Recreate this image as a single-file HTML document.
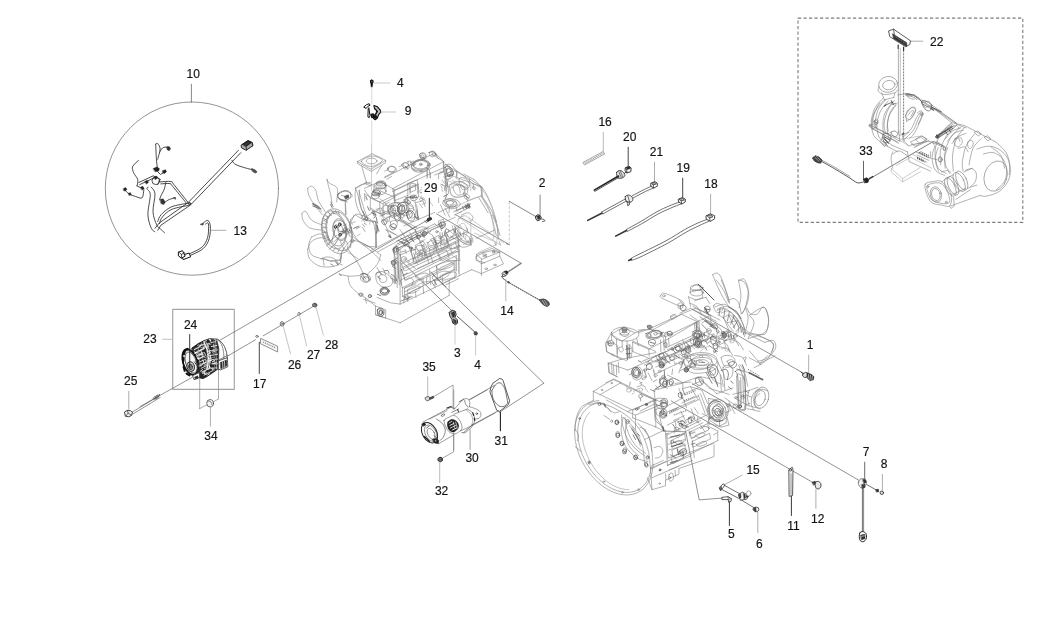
<!DOCTYPE html>
<html><head><meta charset="utf-8"><title>Engine electrical parts</title>
<style>
html,body{margin:0;padding:0;background:#fff;}
body{width:1039px;height:619px;overflow:hidden;font-family:"Liberation Sans",sans-serif;}
svg{display:block;will-change:transform;opacity:0.999}
svg path,svg ellipse{stroke-linecap:round;stroke-linejoin:round}
svg text{font-family:"Liberation Sans",sans-serif;font-size:12px;fill:#111;stroke:#222;stroke-width:0.18px}
</style></head><body>
<svg width="1039" height="619" viewBox="0 0 1039 619">
<rect x="0" y="0" width="1039" height="619" fill="#fff"/>
<path d="M371.6,145.0 L371.6,190.2" stroke="#b4b4b4" stroke-width="0.7" fill="none"/>
<path d="M357.7,161.4 L372.2,153.7 L385.7,160.4 L371.2,169.1Z" stroke="#7d7d7d" stroke-width="0.6" fill="none"/>
<path d="M361.2,161.4 C361.4,159.6 368.7,156.1 372.2,156.0 C375.7,155.8 382.5,158.6 382.4,160.4 C382.2,162.2 374.8,166.4 371.2,166.6 C367.7,166.7 361.1,163.1 361.2,161.4Z" stroke="#7d7d7d" stroke-width="0.6" fill="none"/>
<ellipse cx="371.6" cy="161.0" rx="5.4" ry="2.9" stroke="#7d7d7d" stroke-width="0.6" fill="none"/>
<path d="M357.7,161.4 L357.7,163.7 L371.2,171.4 L385.7,162.7 L385.7,160.4" stroke="#7d7d7d" stroke-width="0.6" fill="none"/>
<path d="M361.6,165.8 L366.4,182.5" stroke="#7d7d7d" stroke-width="0.6" fill="none"/>
<path d="M381.8,165.2 L376.6,173.9" stroke="#7d7d7d" stroke-width="0.6" fill="none"/>
<path d="M366.4,182.5 L371.6,184.5" stroke="#7d7d7d" stroke-width="0.6" fill="none"/>
<path d="M326.9,179.3 C327.3,179.9 327.8,181.9 329.3,183.1 C330.7,184.3 334.2,185.0 335.6,186.4 C337.0,187.7 337.6,188.6 337.7,191.2 C337.9,193.8 336.8,200.0 336.6,201.8" stroke="#7d7d7d" stroke-width="0.6" fill="none"/>
<path d="M326.9,179.3 C327.1,180.1 327.5,181.8 328.1,184.5 C328.7,187.2 330.2,192.0 330.8,195.4 C331.4,198.9 331.8,203.5 332.0,205.1" stroke="#7d7d7d" stroke-width="0.6" fill="none"/>
<path d="M307.7,188.3 C308.3,188.0 310.2,185.8 311.5,186.2 C312.9,186.5 314.6,188.0 315.8,190.4 C316.9,192.9 316.9,197.2 318.5,200.8 C320.1,204.4 324.3,210.1 325.4,212.0" stroke="#7d7d7d" stroke-width="0.6" fill="none"/>
<path d="M307.7,188.3 C307.9,189.5 307.7,192.6 308.9,195.4 C310.0,198.2 312.4,201.8 314.6,205.1 C316.9,208.3 321.0,213.1 322.3,214.7" stroke="#7d7d7d" stroke-width="0.6" fill="none"/>
<path d="M301.9,213.3 C302.6,213.0 304.2,210.3 305.8,211.4 C307.4,212.5 308.8,217.8 311.5,220.1 C314.3,222.4 320.5,224.2 322.3,225.1" stroke="#7d7d7d" stroke-width="0.6" fill="none"/>
<path d="M301.9,213.3 C302.1,214.5 301.8,218.1 303.1,220.5 C304.4,222.9 306.6,226.2 309.6,227.8 C312.6,229.4 319.2,229.7 321.2,230.1" stroke="#7d7d7d" stroke-width="0.6" fill="none"/>
<path d="M312.7,206.2 C313.8,206.6 317.8,207.7 319.2,208.5 C320.7,209.4 321.2,210.9 321.6,211.4" stroke="#7d7d7d" stroke-width="0.6" fill="none"/>
<path d="M313.5,203.7 L318.3,206.2" stroke="#7d7d7d" stroke-width="0.6" fill="none"/>
<path d="M311.5,237.0 C312.8,236.5 317.2,234.2 319.2,233.9 C321.3,233.7 323.3,235.2 324.1,235.5" stroke="#7d7d7d" stroke-width="0.6" fill="none"/>
<path d="M311.5,237.0 C311.1,238.4 308.7,242.1 308.7,245.1 C308.7,248.0 309.5,252.5 311.5,254.7 C313.6,257.0 319.6,257.9 321.2,258.6" stroke="#7d7d7d" stroke-width="0.6" fill="none"/>
<path d="M321.2,258.6 C322.8,258.9 327.6,260.4 330.8,260.5 C334.0,260.6 338.7,260.2 340.4,259.0 C342.2,257.7 341.2,253.8 341.4,252.8" stroke="#7d7d7d" stroke-width="0.6" fill="none"/>
<path d="M353.9,215.8 C354.7,215.6 355.5,213.2 358.7,214.3 C361.9,215.4 370.2,217.1 373.1,222.4 C376.1,227.7 375.7,242.1 376.2,246.1" stroke="#7d7d7d" stroke-width="0.6" fill="none"/>
<path d="M353.9,215.8 C353.3,217.5 350.1,222.3 350.4,225.8 C350.8,229.4 353.6,234.2 355.8,237.4 C358.0,240.6 360.1,243.5 363.5,245.1 C366.9,246.7 374.1,246.7 376.2,247.0" stroke="#7d7d7d" stroke-width="0.6" fill="none"/>
<path d="M363.5,245.1 C365.1,246.4 370.3,250.2 373.1,252.8 C376.0,255.4 379.6,259.2 380.8,260.5" stroke="#7d7d7d" stroke-width="0.6" fill="none"/>
<path d="M340.4,241.2 C341.1,242.5 341.4,246.1 344.3,248.9 C347.2,251.8 355.5,257.0 357.7,258.6" stroke="#7d7d7d" stroke-width="0.6" fill="none"/>
<ellipse cx="334.3" cy="229.7" rx="11.9" ry="19.2" transform="rotate(-12 334.3 229.7)" stroke="#7d7d7d" stroke-width="0.6" fill="none"/>
<ellipse cx="335.8" cy="229.7" rx="9.6" ry="16.6" transform="rotate(-12 335.8 229.7)" stroke="#7d7d7d" stroke-width="0.6" fill="none"/>
<ellipse cx="340.0" cy="229.7" rx="6.9" ry="11.2" transform="rotate(-12 340.0 229.7)" stroke="#7d7d7d" stroke-width="0.6" fill="none"/>
<ellipse cx="340.4" cy="229.7" rx="2.7" ry="4.6" transform="rotate(-12 340.4 229.7)" stroke="#7d7d7d" stroke-width="0.6" fill="none"/>
<ellipse cx="336.2" cy="225.8" rx="1.2" ry="1.2" stroke="#7d7d7d" stroke-width="0.6" fill="none"/>
<ellipse cx="339.7" cy="223.5" rx="1.2" ry="1.2" stroke="#7d7d7d" stroke-width="0.6" fill="none"/>
<ellipse cx="342.3" cy="232.6" rx="1.2" ry="1.2" stroke="#7d7d7d" stroke-width="0.6" fill="none"/>
<ellipse cx="339.3" cy="235.1" rx="1.2" ry="1.2" stroke="#7d7d7d" stroke-width="0.6" fill="none"/>
<path d="M326.0,216.2 L328.9,218.1" stroke="#7d7d7d" stroke-width="0.6" fill="none"/>
<path d="M324.6,221.0 L327.7,222.4" stroke="#7d7d7d" stroke-width="0.6" fill="none"/>
<path d="M323.5,226.8 L326.9,227.4" stroke="#7d7d7d" stroke-width="0.6" fill="none"/>
<path d="M323.5,232.6 L326.9,232.6" stroke="#7d7d7d" stroke-width="0.6" fill="none"/>
<path d="M324.6,238.4 L328.1,237.4" stroke="#7d7d7d" stroke-width="0.6" fill="none"/>
<path d="M326.9,244.1 L330.4,242.2" stroke="#7d7d7d" stroke-width="0.6" fill="none"/>
<path d="M330.8,248.0 L333.1,245.5" stroke="#7d7d7d" stroke-width="0.6" fill="none"/>
<path d="M328.9,213.3 L331.6,215.5" stroke="#7d7d7d" stroke-width="0.6" fill="none"/>
<path d="M333.1,211.4 L335.0,213.9" stroke="#7d7d7d" stroke-width="0.6" fill="none"/>
<path d="M338.5,211.4 L339.3,214.3" stroke="#7d7d7d" stroke-width="0.6" fill="none"/>
<path d="M346.2,241.2 L348.1,245.1" stroke="#7d7d7d" stroke-width="0.6" fill="none"/>
<path d="M349.1,235.5 L352.4,237.4" stroke="#7d7d7d" stroke-width="0.6" fill="none"/>
<path d="M336.6,235.5 L330.8,240.3" stroke="#7d7d7d" stroke-width="0.6" fill="none"/>
<path d="M338.5,237.4 L333.7,242.2" stroke="#7d7d7d" stroke-width="0.6" fill="none"/>
<path d="M337.5,195.4 C338.3,194.1 342.1,191.6 344.3,191.2 C346.4,190.8 349.1,192.2 350.4,193.1 C351.7,194.0 352.7,195.5 352.0,196.6 C351.3,197.7 348.3,199.5 346.2,199.9 C344.1,200.2 340.9,199.6 339.5,198.9 C338.0,198.2 336.7,196.7 337.5,195.4Z" stroke="#7d7d7d" stroke-width="0.6" fill="none"/>
<path d="M341.4,195.4 L348.1,197.0" stroke="#7d7d7d" stroke-width="0.6" fill="none"/>
<path d="M345.2,196.6 L348.1,195.4 L348.5,197.4 L345.8,198.5Z" stroke="#555555" stroke-width="0.7" fill="none"/>
<path d="M345.2,200.8 L346.2,214.3" stroke="#7d7d7d" stroke-width="0.6" fill="none"/>
<path d="M355.8,188.3 C355.7,189.8 354.7,193.6 355.1,197.0 C355.4,200.3 356.3,204.8 357.7,208.5 C359.2,212.2 362.6,217.3 363.5,219.1" stroke="#7d7d7d" stroke-width="0.6" fill="none"/>
<path d="M359.7,190.2 C359.6,191.7 358.9,195.5 359.3,198.9 C359.7,202.3 360.8,207.5 362.0,210.4 C363.2,213.4 365.7,215.6 366.4,216.6" stroke="#7d7d7d" stroke-width="0.6" fill="none"/>
<path d="M355.8,188.3 L364.5,183.5 L370.3,185.8" stroke="#7d7d7d" stroke-width="0.6" fill="none"/>
<path d="M364.5,183.5 L366.4,181.6" stroke="#7d7d7d" stroke-width="0.6" fill="none"/>
<path d="M363.5,219.1 L375.5,222.0" stroke="#7d7d7d" stroke-width="0.6" fill="none"/>
<path d="M375.5,222.0 L376.6,247.0" stroke="#7d7d7d" stroke-width="0.6" fill="none"/>
<path d="M366.4,216.6 L373.1,212.4" stroke="#7d7d7d" stroke-width="0.6" fill="none"/>
<path d="M364.5,188.3 L380.8,181.2 L394.3,189.7" stroke="#7d7d7d" stroke-width="0.6" fill="none"/>
<path d="M370.3,197.9 L364.5,190.2" stroke="#7d7d7d" stroke-width="0.6" fill="none"/>
<path d="M370.3,197.9 L382.8,203.7 L394.3,197.4" stroke="#7d7d7d" stroke-width="0.6" fill="none"/>
<path d="M370.3,197.9 L370.3,209.5 L383.2,214.7 L383.2,203.7" stroke="#7d7d7d" stroke-width="0.6" fill="none"/>
<path d="M383.2,214.7 L390.5,211.4" stroke="#7d7d7d" stroke-width="0.6" fill="none"/>
<path d="M394.3,189.7 L394.3,200.8" stroke="#7d7d7d" stroke-width="0.6" fill="none"/>
<ellipse cx="379.9" cy="185.8" rx="5.8" ry="3.3" stroke="#7d7d7d" stroke-width="0.6" fill="none"/>
<ellipse cx="379.9" cy="191.2" rx="6.2" ry="3.5" stroke="#7d7d7d" stroke-width="0.6" fill="none"/>
<path d="M374.1,185.8 L373.7,191.2" stroke="#7d7d7d" stroke-width="0.6" fill="none"/>
<path d="M385.7,185.8 L386.0,191.2" stroke="#7d7d7d" stroke-width="0.6" fill="none"/>
<ellipse cx="379.9" cy="183.5" rx="3.5" ry="1.7" stroke="#7d7d7d" stroke-width="0.6" fill="none"/>
<ellipse cx="375.5" cy="193.5" rx="3.5" ry="1.9" stroke="#7d7d7d" stroke-width="0.6" fill="none"/>
<ellipse cx="375.5" cy="196.6" rx="3.8" ry="2.1" stroke="#7d7d7d" stroke-width="0.6" fill="none"/>
<path d="M371.6,193.5 L371.6,196.6" stroke="#7d7d7d" stroke-width="0.6" fill="none"/>
<path d="M379.3,193.5 L379.3,196.6" stroke="#7d7d7d" stroke-width="0.6" fill="none"/>
<path d="M373.1,211.4 L374.7,212.0 L375.5,216.6 L373.9,217.8" stroke="#555555" stroke-width="0.7" fill="none"/>
<path d="M376.0,222.0 L377.4,229.7 L376.6,233.5" stroke="#555555" stroke-width="0.7" fill="none"/>
<path d="M384.7,177.7 L417.8,160.8" stroke="#7d7d7d" stroke-width="0.6" fill="none"/>
<path d="M394.3,190.2 L443.4,167.7" stroke="#7d7d7d" stroke-width="0.6" fill="none"/>
<path d="M443.4,161.9 L443.4,171.9" stroke="#7d7d7d" stroke-width="0.6" fill="none"/>
<path d="M432.8,154.6 L444.0,161.9" stroke="#7d7d7d" stroke-width="0.6" fill="none"/>
<path d="M417.8,160.8 L427.0,156.5 L432.8,154.6" stroke="#7d7d7d" stroke-width="0.6" fill="none"/>
<path d="M394.3,200.8 L407.8,195.4" stroke="#7d7d7d" stroke-width="0.6" fill="none"/>
<path d="M407.8,183.5 L407.8,208.5" stroke="#7d7d7d" stroke-width="0.6" fill="none"/>
<path d="M407.8,183.5 L417.4,179.6 L417.4,193.1" stroke="#7d7d7d" stroke-width="0.6" fill="none"/>
<path d="M410.7,186.4 L415.5,184.5 L415.5,190.2 L410.7,192.2Z" stroke="#7d7d7d" stroke-width="0.6" fill="none"/>
<ellipse cx="420.7" cy="165.2" rx="7.7" ry="4.6" stroke="#7d7d7d" stroke-width="0.6" fill="none"/>
<ellipse cx="420.7" cy="164.2" rx="7.7" ry="4.6" stroke="#7d7d7d" stroke-width="0.6" fill="none"/>
<ellipse cx="420.7" cy="164.2" rx="1.5" ry="1.0" stroke="#7d7d7d" stroke-width="0.6" fill="none"/>
<path d="M427.0,168.1 L427.4,176.8" stroke="#7d7d7d" stroke-width="0.6" fill="none"/>
<path d="M429.4,170.0 L430.1,177.7" stroke="#7d7d7d" stroke-width="0.6" fill="none"/>
<path d="M387.6,168.1 C387.9,167.3 389.3,166.3 390.5,166.2 C391.6,166.0 393.5,166.5 394.3,167.1 C395.1,167.8 395.7,169.2 395.3,170.0 C394.9,170.8 393.1,171.8 392.0,171.9 C390.9,172.1 389.3,171.6 388.5,171.0 C387.8,170.3 387.3,168.9 387.6,168.1Z" stroke="#7d7d7d" stroke-width="0.6" fill="none"/>
<path d="M384.7,171.0 L388.2,169.6" stroke="#7d7d7d" stroke-width="0.6" fill="none"/>
<path d="M402.0,164.2 C402.4,163.6 403.9,162.8 404.9,162.7 C405.9,162.6 407.3,163.2 407.8,163.9 C408.3,164.5 408.3,165.9 407.8,166.6 C407.3,167.2 405.8,167.7 404.9,167.7 C404.0,167.7 402.9,167.1 402.4,166.6 C401.9,166.0 401.6,164.9 402.0,164.2Z" stroke="#7d7d7d" stroke-width="0.6" fill="none"/>
<path d="M399.1,166.6 L402.4,165.4" stroke="#7d7d7d" stroke-width="0.6" fill="none"/>
<path d="M410.7,162.3 C410.9,161.6 412.7,161.1 413.6,161.2 C414.4,161.2 415.6,162.1 415.9,162.7 C416.1,163.4 415.8,164.6 415.1,165.0 C414.5,165.5 412.8,165.9 412.0,165.4 C411.3,165.0 410.4,163.0 410.7,162.3Z" stroke="#7d7d7d" stroke-width="0.6" fill="none"/>
<path d="M420.3,153.7 C420.8,153.0 422.3,152.6 423.2,152.7 C424.1,152.8 425.2,153.3 425.5,154.2 C425.8,155.1 425.8,157.3 425.1,158.1 C424.5,158.9 422.5,159.1 421.7,158.9 C420.8,158.7 420.3,157.8 420.1,156.9 C419.9,156.1 419.8,154.4 420.3,153.7Z" stroke="#7d7d7d" stroke-width="0.6" fill="none"/>
<path d="M429.4,152.7 C429.6,151.8 431.4,151.1 432.4,151.2 C433.5,151.2 435.3,152.3 435.7,153.1 C436.1,153.9 435.5,155.6 434.7,156.2 C433.9,156.7 431.8,157.1 430.9,156.5 C430.0,156.0 429.1,153.6 429.4,152.7Z" stroke="#7d7d7d" stroke-width="0.6" fill="none"/>
<path d="M435.7,154.6 L438.6,158.9" stroke="#7d7d7d" stroke-width="0.6" fill="none"/>
<path d="M444.4,165.2 C445.3,165.1 448.5,163.8 450.1,164.2 C451.7,164.7 452.9,166.8 454.0,168.1 C455.1,169.4 456.6,170.3 456.9,171.9 C457.2,173.6 456.1,176.8 455.9,177.7" stroke="#7d7d7d" stroke-width="0.6" fill="none"/>
<path d="M446.3,169.1 C446.6,167.8 448.2,167.8 449.2,168.1 C450.1,168.4 451.7,169.9 452.1,171.0 C452.4,172.1 451.9,174.1 451.1,174.8 C450.3,175.6 448.1,176.4 447.3,175.4 C446.5,174.5 446.0,170.3 446.3,169.1Z" stroke="#7d7d7d" stroke-width="0.6" fill="none"/>
<path d="M449.2,186.4 C449.5,184.2 451.9,183.3 454.0,182.5 C456.1,181.7 459.4,180.9 461.7,181.6 C463.9,182.2 466.7,184.3 467.5,186.4 C468.3,188.5 467.8,192.3 466.5,194.1 C465.2,195.9 462.2,196.7 459.8,197.0 C457.4,197.2 453.8,197.2 452.1,195.4 C450.3,193.7 448.9,188.5 449.2,186.4Z" stroke="#7d7d7d" stroke-width="0.6" fill="none"/>
<path d="M453.0,187.7 C453.0,186.1 455.4,185.4 456.9,185.0 C458.4,184.7 460.8,184.7 462.1,185.4 C463.4,186.2 464.5,188.2 464.6,189.7 C464.7,191.1 463.9,193.3 462.7,194.1 C461.4,194.9 458.5,195.7 456.9,194.7 C455.3,193.6 453.0,189.3 453.0,187.7Z" stroke="#7d7d7d" stroke-width="0.6" fill="none"/>
<path d="M444.4,173.9 L446.3,185.4" stroke="#7d7d7d" stroke-width="0.6" fill="none"/>
<path d="M443.4,171.9 L438.6,173.9 L438.6,202.7" stroke="#7d7d7d" stroke-width="0.6" fill="none"/>
<path d="M443.4,176.8 L446.3,179.6 L446.3,191.2" stroke="#7d7d7d" stroke-width="0.6" fill="none"/>
<path d="M443.4,200.8 C444.4,199.9 447.1,198.8 449.2,198.9 C451.3,199.0 455.0,200.0 455.9,201.2 C456.9,202.4 456.2,205.3 455.0,206.2 C453.7,207.2 450.1,207.2 448.2,207.0 C446.3,206.7 444.2,205.7 443.4,204.7 C442.6,203.6 442.4,201.8 443.4,200.8Z" stroke="#7d7d7d" stroke-width="0.6" fill="none"/>
<ellipse cx="449.8" cy="202.7" rx="3.8" ry="2.3" stroke="#7d7d7d" stroke-width="0.6" fill="none"/>
<path d="M449.2,207.0 L449.2,212.4" stroke="#7d7d7d" stroke-width="0.6" fill="none"/>
<path d="M455.9,206.2 L456.9,211.4" stroke="#7d7d7d" stroke-width="0.6" fill="none"/>
<path d="M456.9,171.9 L469.4,178.7 L480.9,186.4" stroke="#7d7d7d" stroke-width="0.6" fill="none"/>
<path d="M480.9,186.4 L481.9,196.0" stroke="#7d7d7d" stroke-width="0.6" fill="none"/>
<path d="M469.4,178.7 L469.8,183.5" stroke="#7d7d7d" stroke-width="0.6" fill="none"/>
<path d="M463.6,173.9 L474.2,179.6" stroke="#7d7d7d" stroke-width="0.6" fill="none"/>
<path d="M474.2,179.6 C476.0,181.6 481.7,186.4 484.8,191.2 C487.8,196.0 490.2,202.1 492.5,208.5 C494.7,214.9 497.3,226.2 498.3,229.7" stroke="#7d7d7d" stroke-width="0.6" fill="none"/>
<path d="M480.9,196.0 C482.4,198.4 487.0,203.9 489.6,210.4 C492.2,217.0 495.2,231.3 496.3,235.5" stroke="#7d7d7d" stroke-width="0.6" fill="none"/>
<path d="M467.5,200.8 L480.9,196.0" stroke="#7d7d7d" stroke-width="0.6" fill="none"/>
<path d="M457.8,210.4 L469.4,204.7 L469.4,208.5" stroke="#7d7d7d" stroke-width="0.6" fill="none"/>
<path d="M454.0,211.4 L465.5,206.6" stroke="#7d7d7d" stroke-width="0.6" fill="none"/>
<path d="M465.5,194.1 L467.5,200.8" stroke="#7d7d7d" stroke-width="0.6" fill="none"/>
<path d="M462.7,206.2 L464.0,209.5" stroke="#555555" stroke-width="0.7" fill="none"/>
<path d="M465.2,205.1 L466.7,208.5" stroke="#555555" stroke-width="0.7" fill="none"/>
<path d="M467.5,203.9 L469.0,207.4" stroke="#555555" stroke-width="0.7" fill="none"/>
<path d="M426.7,220.1 L428.6,218.1 L431.3,217.8 L431.7,219.3 L429.7,220.5 L427.8,221.6Z" stroke="#111111" stroke-width="0.7" fill="#333"/>
<path d="M427.4,218.9 L430.1,217.4" stroke="#222" stroke-width="0.9" fill="none"/>
<path d="M424.7,221.2 L426.7,222.8" stroke="#555555" stroke-width="0.7" fill="none"/>
<path d="M382.8,220.1 L390.5,216.6 L400.1,221.0" stroke="#7d7d7d" stroke-width="0.6" fill="none"/>
<path d="M390.5,222.0 C390.9,220.8 393.2,220.5 394.3,220.5 C395.4,220.5 396.9,220.9 397.2,222.0 C397.5,223.1 397.1,225.9 396.2,226.8 C395.4,227.7 393.0,228.2 392.0,227.4 C391.0,226.6 390.1,223.2 390.5,222.0Z" stroke="#7d7d7d" stroke-width="0.6" fill="none"/>
<path d="M383.7,222.0 L387.6,229.7 L397.2,235.5" stroke="#7d7d7d" stroke-width="0.6" fill="none"/>
<path d="M400.1,221.0 L415.5,229.7" stroke="#7d7d7d" stroke-width="0.6" fill="none"/>
<path d="M401.1,219.1 L417.4,228.2" stroke="#7d7d7d" stroke-width="0.6" fill="none"/>
<path d="M403.9,225.8 L434.7,212.4" stroke="#7d7d7d" stroke-width="0.6" fill="none"/>
<path d="M396.2,241.2 L434.7,223.9" stroke="#7d7d7d" stroke-width="0.6" fill="none"/>
<path d="M398.2,245.1 L438.6,226.8" stroke="#7d7d7d" stroke-width="0.6" fill="none"/>
<path d="M434.7,223.9 L438.6,226.8" stroke="#7d7d7d" stroke-width="0.6" fill="none"/>
<path d="M415.5,229.7 C416.3,228.3 421.1,226.6 423.2,226.8 C425.3,227.0 427.7,229.2 428.0,230.7 C428.3,232.1 426.7,234.7 425.1,235.5 C423.5,236.3 420.0,236.4 418.4,235.5 C416.8,234.5 414.7,231.1 415.5,229.7Z" stroke="#7d7d7d" stroke-width="0.6" fill="none"/>
<path d="M419.3,235.5 C420.6,235.0 424.8,232.6 427.0,232.6 C429.3,232.6 431.9,235.0 432.8,235.5" stroke="#7d7d7d" stroke-width="0.6" fill="none"/>
<path d="M438.6,221.0 L443.4,219.1 L444.4,223.9 L440.1,225.8Z" stroke="#7d7d7d" stroke-width="0.6" fill="none"/>
<path d="M440.5,225.8 L441.5,230.7" stroke="#7d7d7d" stroke-width="0.6" fill="none"/>
<path d="M403.9,235.5 L407.8,241.2" stroke="#7d7d7d" stroke-width="0.6" fill="none"/>
<path d="M409.7,232.6 L413.6,238.9" stroke="#7d7d7d" stroke-width="0.6" fill="none"/>
<path d="M415.5,230.7 L419.0,236.4" stroke="#7d7d7d" stroke-width="0.6" fill="none"/>
<path d="M396.2,248.9 L407.8,244.1 L411.6,249.9 L400.1,255.1Z" stroke="#7d7d7d" stroke-width="0.6" fill="none"/>
<path d="M415.5,245.1 L423.2,241.2 L427.0,247.0 L419.0,251.3Z" stroke="#7d7d7d" stroke-width="0.6" fill="none"/>
<path d="M430.9,239.3 L438.6,235.5 L442.4,241.2 L434.7,245.1Z" stroke="#7d7d7d" stroke-width="0.6" fill="none"/>
<path d="M446.3,232.6 L454.0,229.3 L456.9,234.5 L449.8,237.8Z" stroke="#7d7d7d" stroke-width="0.6" fill="none"/>
<path d="M392.4,248.9 L396.2,260.5" stroke="#7d7d7d" stroke-width="0.6" fill="none"/>
<path d="M393.4,249.9 C393.7,248.9 395.4,247.9 396.2,248.0 C397.1,248.1 398.4,249.5 398.6,250.5 C398.7,251.4 397.9,253.2 397.2,253.8 C396.5,254.3 395.0,254.4 394.3,253.8 C393.7,253.1 393.0,250.9 393.4,249.9Z" stroke="#7d7d7d" stroke-width="0.6" fill="none"/>
<path d="M413.6,252.8 L417.4,264.0" stroke="#7d7d7d" stroke-width="0.6" fill="none"/>
<path d="M425.1,248.9 L428.6,262.4" stroke="#7d7d7d" stroke-width="0.6" fill="none"/>
<path d="M434.7,246.1 L440.5,260.5" stroke="#7d7d7d" stroke-width="0.6" fill="none"/>
<path d="M446.3,239.3 L452.1,252.8" stroke="#7d7d7d" stroke-width="0.6" fill="none"/>
<path d="M457.8,233.5 L459.8,260.5" stroke="#7d7d7d" stroke-width="0.6" fill="none"/>
<path d="M454.0,225.8 L459.8,233.5" stroke="#7d7d7d" stroke-width="0.6" fill="none"/>
<path d="M459.8,233.5 L471.3,245.1 L471.3,235.5" stroke="#7d7d7d" stroke-width="0.6" fill="none"/>
<path d="M452.1,225.8 C452.7,227.5 454.0,232.6 455.9,235.5 C457.8,238.4 461.1,241.6 463.6,243.2 C466.2,244.8 470.0,244.8 471.3,245.1" stroke="#7d7d7d" stroke-width="0.6" fill="none"/>
<path d="M438.6,252.8 L446.3,249.9 L449.2,257.6 L442.4,260.5Z" stroke="#7d7d7d" stroke-width="0.6" fill="none"/>
<path d="M423.2,258.6 L430.9,255.7 L432.8,262.4" stroke="#7d7d7d" stroke-width="0.6" fill="none"/>
<path d="M446.3,260.5 L459.8,260.5" stroke="#7d7d7d" stroke-width="0.6" fill="none"/>
<path d="M400.1,229.7 L403.9,235.5" stroke="#7d7d7d" stroke-width="0.6" fill="none"/>
<path d="M384.7,223.9 L382.8,220.5" stroke="#7d7d7d" stroke-width="0.6" fill="none"/>
<path d="M381.8,208.5 C382.0,207.3 383.3,206.0 384.7,205.6 C386.1,205.3 389.2,205.4 390.5,206.2 C391.8,207.0 392.7,209.2 392.4,210.4 C392.1,211.7 390.0,213.5 388.5,213.9 C387.1,214.3 384.9,213.7 383.7,212.8 C382.6,211.9 381.6,209.7 381.8,208.5Z" stroke="#7d7d7d" stroke-width="0.6" fill="none"/>
<path d="M397.2,206.6 C397.4,204.7 399.8,203.2 402.0,202.7 C404.3,202.3 408.8,202.6 410.7,203.7 C412.6,204.8 413.9,207.7 413.6,209.5 C413.2,211.3 410.8,213.9 408.8,214.7 C406.7,215.5 403.0,215.6 401.1,214.3 C399.1,212.9 397.0,208.5 397.2,206.6Z" stroke="#7d7d7d" stroke-width="0.6" fill="none"/>
<ellipse cx="405.5" cy="208.9" rx="3.5" ry="3.8" stroke="#7d7d7d" stroke-width="0.6" fill="none"/>
<path d="M407.8,210.4 C408.0,208.9 410.4,208.4 411.6,208.5 C412.9,208.7 415.0,210.1 415.5,211.4 C416.0,212.8 415.3,215.5 414.5,216.6 C413.7,217.7 411.8,218.8 410.7,217.8 C409.6,216.7 407.6,212.0 407.8,210.4Z" stroke="#7d7d7d" stroke-width="0.6" fill="none"/>
<path d="M415.5,202.7 L423.2,200.8 L425.1,206.6" stroke="#7d7d7d" stroke-width="0.6" fill="none"/>
<path d="M417.4,210.4 L417.8,219.7" stroke="#7d7d7d" stroke-width="0.6" fill="none"/>
<path d="M415.1,216.6 L416.7,218.9" stroke="#555555" stroke-width="0.7" fill="none"/>
<path d="M417.4,215.5 L419.0,218.1" stroke="#555555" stroke-width="0.7" fill="none"/>
<path d="M392.4,212.4 L400.1,216.6" stroke="#7d7d7d" stroke-width="0.6" fill="none"/>
<path d="M386.6,229.7 L390.5,237.4" stroke="#7d7d7d" stroke-width="0.6" fill="none"/>
<path d="M388.9,235.5 L390.5,237.8" stroke="#555555" stroke-width="0.7" fill="none"/>
<path d="M476.1,256.6 L482.9,252.8 L492.5,250.5 L500.0,252.8" stroke="#7d7d7d" stroke-width="0.6" fill="none"/>
<path d="M476.1,256.6 L476.1,260.5 L484.8,262.8" stroke="#7d7d7d" stroke-width="0.6" fill="none"/>
<path d="M482.9,252.8 L483.3,256.6" stroke="#7d7d7d" stroke-width="0.6" fill="none"/>
<ellipse cx="485.2" cy="256.3" rx="1.2" ry="0.8" stroke="#7d7d7d" stroke-width="0.6" fill="none"/>
<ellipse cx="493.5" cy="252.4" rx="1.2" ry="0.8" stroke="#7d7d7d" stroke-width="0.6" fill="none"/>
<path d="M498.3,229.7 L500.0,235.5" stroke="#7d7d7d" stroke-width="0.6" fill="none"/>
<path d="M401.1,260.8 L453.0,311.8" stroke="#555555" stroke-width="0.7" fill="none"/>
<path d="M307.7,249.2 C308.3,248.0 309.3,243.5 311.5,241.5 C313.8,239.6 317.6,237.7 321.2,237.7 C324.7,237.7 330.8,240.9 332.7,241.5" stroke="#7d7d7d" stroke-width="0.6" fill="none"/>
<path d="M307.7,249.2 C308.0,250.9 307.4,256.0 309.6,258.9 C311.9,261.8 316.4,265.6 321.2,266.6 C326.0,267.5 335.1,266.9 338.5,264.6 C341.9,262.4 340.9,255.0 341.4,253.1" stroke="#7d7d7d" stroke-width="0.6" fill="none"/>
<path d="M321.2,258.9 C322.1,258.6 324.7,256.9 326.9,256.9 C329.2,256.9 332.7,257.6 334.6,258.9 C336.6,260.2 337.9,263.7 338.5,264.6" stroke="#7d7d7d" stroke-width="0.6" fill="none"/>
<path d="M323.1,258.9 L324.1,265.6" stroke="#7d7d7d" stroke-width="0.6" fill="none"/>
<path d="M341.4,253.1 C342.8,251.2 346.4,243.2 350.0,241.5 C353.7,239.9 358.4,241.2 363.5,243.5 C368.7,245.7 378.0,253.1 380.8,255.0" stroke="#7d7d7d" stroke-width="0.6" fill="none"/>
<path d="M380.8,255.0 C380.2,256.6 379.2,261.4 377.0,264.6 C374.8,267.9 369.0,272.7 367.4,274.3" stroke="#7d7d7d" stroke-width="0.6" fill="none"/>
<path d="M348.1,249.2 C349.7,251.5 355.2,258.6 357.7,262.7 C360.3,266.9 362.6,272.3 363.5,274.3" stroke="#7d7d7d" stroke-width="0.6" fill="none"/>
<path d="M348.1,276.2 C348.5,277.8 348.5,282.8 350.4,285.8 C352.4,288.9 357.2,292.5 359.7,294.5 C362.2,296.5 362.8,295.8 365.4,297.8 C368.1,299.7 373.8,304.7 375.5,306.0" stroke="#7d7d7d" stroke-width="0.6" fill="none"/>
<path d="M375.5,306.0 L375.5,314.7 L400.1,322.8" stroke="#7d7d7d" stroke-width="0.6" fill="none"/>
<path d="M400.1,322.8 L449.2,295.4" stroke="#7d7d7d" stroke-width="0.6" fill="none"/>
<path d="M449.2,281.0 L449.2,295.4" stroke="#7d7d7d" stroke-width="0.6" fill="none"/>
<path d="M400.1,249.2 L400.1,304.1" stroke="#7d7d7d" stroke-width="0.6" fill="none"/>
<path d="M397.2,251.2 L397.2,287.7" stroke="#7d7d7d" stroke-width="0.6" fill="none"/>
<path d="M394.3,248.3 L394.3,283.9" stroke="#7d7d7d" stroke-width="0.6" fill="none"/>
<path d="M341.4,274.7 C342.8,274.9 347.0,276.1 350.0,276.2 C353.1,276.3 358.1,275.6 359.7,275.4" stroke="#7d7d7d" stroke-width="0.6" fill="none"/>
<path d="M339.5,273.9 L341.0,275.4" stroke="#555555" stroke-width="0.7" fill="none"/>
<ellipse cx="365.4" cy="278.1" rx="5.2" ry="4.2" transform="rotate(20 365.4 278.1)" stroke="#7d7d7d" stroke-width="0.6" fill="none"/>
<ellipse cx="366.0" cy="279.1" rx="3.1" ry="2.3" transform="rotate(20 366.0 279.1)" stroke="#7d7d7d" stroke-width="0.6" fill="none"/>
<ellipse cx="384.7" cy="291.6" rx="4.6" ry="3.8" stroke="#7d7d7d" stroke-width="0.6" fill="none"/>
<ellipse cx="384.7" cy="291.2" rx="3.1" ry="2.3" stroke="#7d7d7d" stroke-width="0.6" fill="none"/>
<ellipse cx="360.6" cy="294.5" rx="1.7" ry="1.5" stroke="#7d7d7d" stroke-width="0.6" fill="none"/>
<ellipse cx="369.7" cy="296.4" rx="1.5" ry="1.3" stroke="#7d7d7d" stroke-width="0.6" fill="none"/>
<path d="M376.0,274.3 C376.7,272.5 378.9,271.4 380.8,271.4 C382.8,271.4 385.7,272.8 387.6,274.3 C389.5,275.7 391.9,278.1 392.4,280.0 C392.9,282.0 392.1,284.7 390.5,285.8 C388.9,286.9 385.0,287.4 382.8,286.8 C380.5,286.1 378.1,284.1 377.0,282.0 C375.9,279.9 375.4,276.0 376.0,274.3Z" stroke="#7d7d7d" stroke-width="0.6" fill="none"/>
<path d="M378.9,276.2 C379.2,275.0 381.5,274.5 382.8,274.7 C384.1,274.8 386.1,276.0 386.6,277.2 C387.1,278.3 386.6,280.8 385.7,281.6 C384.7,282.4 382.0,282.9 380.8,282.0 C379.7,281.1 378.6,277.4 378.9,276.2Z" stroke="#7d7d7d" stroke-width="0.6" fill="none"/>
<path d="M377.0,267.5 L380.8,274.3" stroke="#7d7d7d" stroke-width="0.6" fill="none"/>
<path d="M382.8,268.5 L385.7,274.7" stroke="#7d7d7d" stroke-width="0.6" fill="none"/>
<path d="M390.5,278.1 L396.2,280.4" stroke="#7d7d7d" stroke-width="0.6" fill="none"/>
<path d="M363.5,299.3 L375.1,303.1" stroke="#7d7d7d" stroke-width="0.6" fill="none"/>
<path d="M377.0,297.4 L390.5,302.8 L400.1,304.1" stroke="#7d7d7d" stroke-width="0.6" fill="none"/>
<path d="M365.4,297.8 L366.4,303.1" stroke="#7d7d7d" stroke-width="0.6" fill="none"/>
<path d="M375.5,306.0 L385.7,309.9 L385.7,318.2 L375.5,314.7" stroke="#7d7d7d" stroke-width="0.6" fill="none"/>
<path d="M377.4,310.5 C377.7,309.6 379.0,308.9 379.9,308.9 C380.8,309.0 382.2,309.9 382.8,310.8 C383.3,311.8 383.5,313.8 383.2,314.7 C382.8,315.6 381.4,316.3 380.5,316.2 C379.6,316.2 378.3,315.3 377.8,314.3 C377.3,313.3 377.0,311.4 377.4,310.5Z" stroke="#7d7d7d" stroke-width="0.6" fill="none"/>
<ellipse cx="380.5" cy="312.8" rx="1.5" ry="1.9" stroke="#7d7d7d" stroke-width="0.6" fill="none"/>
<path d="M400.1,270.4 L458.8,241.2" stroke="#7d7d7d" stroke-width="0.6" fill="none"/>
<path d="M400.1,280.4 L458.8,250.8" stroke="#7d7d7d" stroke-width="0.6" fill="none"/>
<path d="M402.4,287.7 L455.0,260.8" stroke="#7d7d7d" stroke-width="0.6" fill="none"/>
<path d="M402.4,296.4 L455.0,269.5" stroke="#7d7d7d" stroke-width="0.6" fill="none"/>
<path d="M400.1,304.1 L455.0,277.7" stroke="#7d7d7d" stroke-width="0.6" fill="none"/>
<path d="M455.0,260.8 L455.0,277.7" stroke="#7d7d7d" stroke-width="0.6" fill="none"/>
<path d="M458.8,241.2 L458.8,251.2" stroke="#7d7d7d" stroke-width="0.6" fill="none"/>
<path d="M402.4,287.7 L402.4,296.4" stroke="#7d7d7d" stroke-width="0.6" fill="none"/>
<path d="M404.9,287.7 L423.2,278.5 L423.2,285.8 L404.9,295.1Z" stroke="#7d7d7d" stroke-width="0.6" fill="none"/>
<path d="M427.0,277.2 L454.0,263.1 L454.0,269.5 L427.0,283.9Z" stroke="#7d7d7d" stroke-width="0.6" fill="none"/>
<path d="M407.8,289.7 C408.9,288.4 413.4,286.1 415.5,285.8 C417.6,285.5 420.3,286.7 420.3,287.7 C420.3,288.8 417.4,291.0 415.5,292.0 C413.6,292.9 410.0,293.9 408.8,293.5 C407.5,293.1 406.7,291.0 407.8,289.7Z" stroke="#7d7d7d" stroke-width="0.6" fill="none"/>
<path d="M432.8,276.2 C434.1,274.7 439.6,272.0 442.4,271.4 C445.3,270.8 449.8,271.6 450.1,272.7 C450.5,273.9 446.9,276.8 444.4,278.1 C441.8,279.4 436.7,280.8 434.7,280.4 C432.8,280.1 431.5,277.7 432.8,276.2Z" stroke="#7d7d7d" stroke-width="0.6" fill="none"/>
<path d="M400.1,280.4 L402.4,287.7" stroke="#7d7d7d" stroke-width="0.6" fill="none"/>
<path d="M403.9,296.4 L403.9,303.1" stroke="#7d7d7d" stroke-width="0.6" fill="none"/>
<path d="M407.8,294.5 L407.8,301.6" stroke="#7d7d7d" stroke-width="0.6" fill="none"/>
<path d="M404.9,297.0 C405.3,296.4 406.7,295.7 407.4,295.8 C408.1,296.0 409.0,297.1 409.0,297.8 C408.9,298.4 407.7,299.4 407.0,299.7 C406.4,299.9 405.5,299.7 405.1,299.3 C404.7,298.8 404.5,297.6 404.9,297.0Z" stroke="#7d7d7d" stroke-width="0.6" fill="none"/>
<path d="M415.5,291.2 L415.9,297.4" stroke="#7d7d7d" stroke-width="0.6" fill="none"/>
<path d="M423.2,286.8 L423.6,293.5" stroke="#7d7d7d" stroke-width="0.6" fill="none"/>
<path d="M434.7,281.0 L435.1,287.7" stroke="#7d7d7d" stroke-width="0.6" fill="none"/>
<path d="M442.4,277.2 L442.8,284.3" stroke="#7d7d7d" stroke-width="0.6" fill="none"/>
<path d="M407.8,243.5 L413.6,258.9" stroke="#7d7d7d" stroke-width="0.6" fill="none"/>
<path d="M419.3,239.6 L425.1,255.0" stroke="#7d7d7d" stroke-width="0.6" fill="none"/>
<path d="M432.8,235.8 L438.6,249.2" stroke="#7d7d7d" stroke-width="0.6" fill="none"/>
<path d="M444.4,231.9 L449.2,245.4" stroke="#7d7d7d" stroke-width="0.6" fill="none"/>
<path d="M413.6,258.9 L425.1,255.0" stroke="#7d7d7d" stroke-width="0.6" fill="none"/>
<path d="M425.1,255.0 L438.6,249.2" stroke="#7d7d7d" stroke-width="0.6" fill="none"/>
<path d="M438.6,249.2 L449.2,245.4" stroke="#7d7d7d" stroke-width="0.6" fill="none"/>
<path d="M415.5,247.3 C416.1,245.8 419.0,245.1 420.3,245.4 C421.6,245.7 423.0,247.8 423.2,249.2 C423.4,250.7 422.4,253.2 421.3,254.1 C420.1,255.0 417.4,255.8 416.5,254.6 C415.5,253.5 414.9,248.9 415.5,247.3Z" stroke="#7d7d7d" stroke-width="0.6" fill="none"/>
<path d="M428.0,242.5 C428.6,241.0 431.5,240.3 432.8,240.6 C434.1,240.9 435.5,243.0 435.7,244.4 C435.9,245.9 434.8,248.4 433.8,249.2 C432.7,250.1 430.3,250.8 429.4,249.6 C428.4,248.5 427.4,244.0 428.0,242.5Z" stroke="#7d7d7d" stroke-width="0.6" fill="none"/>
<path d="M440.5,237.7 C441.0,236.2 443.6,235.5 444.8,235.8 C445.9,236.1 447.1,238.3 447.3,239.6 C447.4,241.0 446.8,243.0 445.9,243.9 C445.0,244.7 443.0,245.7 442.1,244.6 C441.2,243.6 440.1,239.2 440.5,237.7Z" stroke="#7d7d7d" stroke-width="0.6" fill="none"/>
<ellipse cx="403.9" cy="258.9" rx="2.7" ry="2.3" stroke="#7d7d7d" stroke-width="0.6" fill="none"/>
<ellipse cx="395.3" cy="249.2" rx="1.5" ry="1.9" stroke="#7d7d7d" stroke-width="0.6" fill="none"/>
<ellipse cx="394.3" cy="262.7" rx="1.5" ry="1.9" stroke="#7d7d7d" stroke-width="0.6" fill="none"/>
<path d="M400.1,249.2 L407.8,243.5" stroke="#7d7d7d" stroke-width="0.6" fill="none"/>
<path d="M407.8,262.7 L415.5,268.5" stroke="#7d7d7d" stroke-width="0.6" fill="none"/>
<path d="M413.6,263.7 L430.9,256.0" stroke="#7d7d7d" stroke-width="0.6" fill="none"/>
<path d="M417.4,268.5 L434.7,260.8" stroke="#7d7d7d" stroke-width="0.6" fill="none"/>
<path d="M434.7,260.8 L454.0,252.1" stroke="#7d7d7d" stroke-width="0.6" fill="none"/>
<path d="M457.8,235.8 C458.8,235.5 461.7,233.5 463.6,233.8 C465.5,234.2 468.3,235.9 469.4,237.7 C470.5,239.5 471.3,242.8 470.4,244.4 C469.4,246.0 465.5,247.2 463.6,247.3 C461.7,247.5 459.6,245.7 458.8,245.4" stroke="#7d7d7d" stroke-width="0.6" fill="none"/>
<path d="M454.0,247.3 L459.8,251.2" stroke="#7d7d7d" stroke-width="0.6" fill="none"/>
<path d="M455.2,214.5 L507.6,243.5" stroke="#4a4a4a" stroke-width="0.6" fill="none"/>
<path d="M509.3,201.4 L509.3,244.7" stroke="#b4b4b4" stroke-width="0.7" fill="none" stroke-dasharray="3,1.5" style="stroke-linecap:butt"/>
<path d="M506.4,243.7 L509.3,244.7" stroke="#555555" stroke-width="0.7" fill="none"/>
<path d="M509.3,201.4 L535.7,216.4" stroke="#555555" stroke-width="0.7" fill="none"/>
<path d="M436.5,213.9 L521.4,263.4" stroke="#4a4a4a" stroke-width="0.6" fill="none"/>
<path d="M520.8,263.9 L507.4,272.6" stroke="#555555" stroke-width="0.7" fill="none"/>
<path d="M540.1,195.0 L540.1,214.9" stroke="#555555" stroke-width="0.7" fill="none"/>
<path d="M535.7,216.2 L537.8,214.7 L540.1,215.4 L541.3,217.7 L539.7,220.1 L537.4,220.8 L535.9,218.9Z" stroke="#222" stroke-width="0.9" fill="#ccc"/>
<path d="M537.0,216.2 L539.3,215.8 L540.1,218.1 L538.2,219.3Z" stroke="#111111" stroke-width="0.5" fill="#333"/>
<path d="M540.5,218.9 L543.9,219.3 L545.1,220.8 L542.4,221.6" stroke="#3a3a3a" stroke-width="0.75" fill="none"/>
<path d="M459.2,178.3 L481.4,186.9" stroke="#b4b4b4" stroke-width="0.7" fill="none"/>
<path d="M481.4,186.9 L481.4,196.6" stroke="#b4b4b4" stroke-width="0.7" fill="none"/>
<path d="M478.5,185.0 C480.1,187.3 485.4,193.4 488.1,198.5 C490.9,203.6 493.3,210.4 494.9,215.8 C496.5,221.3 497.5,226.4 497.7,231.2 C498.0,236.0 496.5,242.5 496.2,244.7" stroke="#b4b4b4" stroke-width="0.7" fill="none"/>
<path d="M481.4,196.6 C482.9,199.5 488.3,208.1 490.4,213.9 C492.5,219.7 493.5,226.7 493.9,231.2 C494.3,235.7 493.1,239.2 492.9,240.8" stroke="#b4b4b4" stroke-width="0.7" fill="none"/>
<path d="M496.2,244.7 L478.5,252.4" stroke="#b4b4b4" stroke-width="0.7" fill="none"/>
<path d="M492.9,240.8 L474.6,233.1" stroke="#b4b4b4" stroke-width="0.7" fill="none"/>
<path d="M468.9,217.7 L503.5,242.8" stroke="#b4b4b4" stroke-width="0.7" fill="none"/>
<path d="M459.2,217.7 L499.7,244.7" stroke="#b4b4b4" stroke-width="0.7" fill="none"/>
<path d="M457.3,223.5 C457.6,222.6 458.0,219.0 459.2,217.7 C460.5,216.5 463.3,215.5 465.0,215.8 C466.8,216.1 468.9,217.1 469.8,219.7 C470.8,222.2 471.0,227.7 470.8,231.2 C470.6,234.8 470.2,238.6 468.9,240.8 C467.6,243.1 464.1,244.1 463.1,244.7" stroke="#b4b4b4" stroke-width="0.7" fill="none"/>
<path d="M458.3,227.4 C458.8,226.7 460.1,224.0 461.2,223.5 C462.3,223.0 464.1,223.2 465.0,224.5 C466.0,225.8 466.9,228.8 466.9,231.2 C466.9,233.6 465.3,237.6 465.0,238.9" stroke="#b4b4b4" stroke-width="0.7" fill="none"/>
<path d="M451.5,208.1 L478.5,196.6" stroke="#b4b4b4" stroke-width="0.7" fill="none"/>
<path d="M453.5,212.0 L468.9,205.2" stroke="#b4b4b4" stroke-width="0.7" fill="none"/>
<path d="M465.0,206.2 L466.2,208.5" stroke="#555555" stroke-width="0.7" fill="none"/>
<path d="M466.9,205.4 L468.1,207.7" stroke="#555555" stroke-width="0.7" fill="none"/>
<path d="M468.9,204.7 L470.0,207.0" stroke="#555555" stroke-width="0.7" fill="none"/>
<path d="M440.0,171.5 L459.2,178.3" stroke="#b4b4b4" stroke-width="0.7" fill="none"/>
<path d="M443.8,167.7 C444.3,166.3 446.4,165.6 447.7,165.8 C449.0,165.9 450.6,167.4 451.5,168.7 C452.5,169.9 453.8,172.2 453.5,173.5 C453.2,174.8 451.1,176.2 449.6,176.4 C448.2,176.5 445.8,175.9 444.8,174.4 C443.8,173.0 443.4,169.1 443.8,167.7Z" stroke="#b4b4b4" stroke-width="0.7" fill="none"/>
<path d="M457.3,183.1 L465.0,180.2 L470.8,184.1 L470.8,190.8" stroke="#b4b4b4" stroke-width="0.7" fill="none"/>
<path d="M451.5,186.9 C453.0,185.3 457.0,183.7 459.2,184.1 C461.5,184.4 464.4,186.9 465.0,188.9 C465.7,190.8 464.7,194.2 463.1,195.6 C461.5,197.1 457.5,197.9 455.4,197.5 C453.3,197.2 451.2,195.5 450.6,193.7 C449.9,191.9 450.1,188.6 451.5,186.9Z" stroke="#b4b4b4" stroke-width="0.7" fill="none"/>
<path d="M445.8,200.4 C446.4,199.2 449.1,198.3 450.6,198.5 C452.0,198.7 454.3,200.3 454.4,201.4 C454.6,202.5 452.8,204.5 451.5,205.2 C450.3,206.0 447.7,206.6 446.7,205.8 C445.8,205.0 445.1,201.6 445.8,200.4Z" stroke="#b4b4b4" stroke-width="0.7" fill="none"/>
<path d="M440.0,223.5 L457.3,237.0" stroke="#b4b4b4" stroke-width="0.7" fill="none"/>
<path d="M457.3,237.0 L458.3,252.4" stroke="#b4b4b4" stroke-width="0.7" fill="none"/>
<path d="M440.0,250.5 L457.3,242.8" stroke="#b4b4b4" stroke-width="0.7" fill="none"/>
<path d="M447.7,252.4 L459.2,260.1" stroke="#b4b4b4" stroke-width="0.7" fill="none"/>
<path d="M459.2,252.4 L459.2,275.5" stroke="#b4b4b4" stroke-width="0.7" fill="none"/>
<path d="M440.0,267.8 L458.3,260.1" stroke="#b4b4b4" stroke-width="0.7" fill="none"/>
<path d="M440.0,275.5 L451.5,270.7" stroke="#b4b4b4" stroke-width="0.7" fill="none"/>
<path d="M476.6,254.3 L492.0,248.5 L499.7,252.0 L482.3,259.1Z" stroke="#7d7d7d" stroke-width="0.6" fill="none"/>
<path d="M476.6,254.3 L476.6,259.1 L481.4,263.9 L481.4,259.1" stroke="#7d7d7d" stroke-width="0.6" fill="none"/>
<path d="M481.4,263.9 L499.7,256.2 L499.7,252.0" stroke="#7d7d7d" stroke-width="0.6" fill="none"/>
<path d="M481.4,263.9 L481.4,273.6 L503.5,263.9 L499.7,256.2" stroke="#7d7d7d" stroke-width="0.6" fill="none"/>
<path d="M471.8,269.7 L481.4,273.6" stroke="#7d7d7d" stroke-width="0.6" fill="none"/>
<path d="M481.4,273.6 L481.4,275.5" stroke="#7d7d7d" stroke-width="0.6" fill="none"/>
<ellipse cx="485.2" cy="254.7" rx="1.3" ry="0.8" stroke="#7d7d7d" stroke-width="0.6" fill="none"/>
<ellipse cx="493.5" cy="251.2" rx="1.3" ry="0.8" stroke="#7d7d7d" stroke-width="0.6" fill="none"/>
<ellipse cx="486.2" cy="268.8" rx="1.3" ry="0.8" stroke="#7d7d7d" stroke-width="0.6" fill="none"/>
<ellipse cx="494.9" cy="264.9" rx="1.3" ry="0.8" stroke="#7d7d7d" stroke-width="0.6" fill="none"/>
<path d="M471.8,269.7 L459.2,275.5" stroke="#7d7d7d" stroke-width="0.6" fill="none"/>
<path d="M432.9,274.6 L543.8,383.2" stroke="#4a4a4a" stroke-width="0.6" fill="none"/>
<path d="M543.8,383.2 L499.7,412.1" stroke="#4a4a4a" stroke-width="0.6" fill="none"/>
<path d="M502.4,273.1 L504.3,271.2 L507.0,271.6 L507.8,273.5 L505.8,275.8 L503.1,276.6Z" stroke="#333" stroke-width="0.8" fill="#ddd"/>
<path d="M504.7,271.6 L507.0,270.8 L508.1,272.7 L506.2,273.9Z" stroke="#111111" stroke-width="0.5" fill="#222"/>
<path d="M503.1,273.9 L505.4,275.4" stroke="#333" stroke-width="0.7" fill="none"/>
<path d="M507.8,271.6 L520.8,263.1" stroke="#4a4a4a" stroke-width="0.6" fill="none"/>
<path d="M501.2,276.2 L503.5,278.9" stroke="#333" stroke-width="0.8" fill="none"/>
<path d="M503.5,278.9 L507.8,282.0" stroke="#555" stroke-width="0.8" fill="none"/>
<ellipse cx="508.5" cy="282.3" rx="0.8" ry="0.8" stroke="#333" stroke-width="0.7" fill="#666"/>
<path d="M509.7,283.1 L540.1,300.4" stroke="#777" stroke-width="1.1" fill="none" stroke-dasharray="1.2,1.2" style="stroke-linecap:butt"/>
<path d="M509.7,283.1 L540.1,300.4" stroke="#333" stroke-width="0.5" fill="none"/>
<path d="M539.7,299.7 L543.2,298.9 L546.3,300.0 L549.0,302.4 L549.3,305.1 L547.0,306.6 L543.6,305.1 L541.3,302.7Z" stroke="#222" stroke-width="0.7" fill="#555"/>
<path d="M542.4,300.4 L545.1,305.1" stroke="#ddd" stroke-width="0.6" fill="none"/>
<path d="M544.7,300.4 L547.4,305.4" stroke="#ccc" stroke-width="0.6" fill="none"/>
<path d="M505.8,279.3 L505.8,301.0" stroke="#999" stroke-width="0.7" fill="none"/>
<path d="M449.6,312.4 L452.7,310.4 L455.4,311.6 L456.2,314.7 L455.0,317.4 L457.3,319.7 L457.7,323.1 L455.4,324.7 L452.7,323.1 L451.9,319.3 L450.0,316.4Z" stroke="#222" stroke-width="0.9" fill="#bbb"/>
<path d="M451.5,312.8 L454.2,312.0 L455.0,315.4 L453.1,317.4Z" stroke="#111111" stroke-width="0.5" fill="#333"/>
<path d="M453.5,319.3 L456.2,320.5 L456.2,323.5 L453.9,322.8Z" stroke="#111111" stroke-width="0.5" fill="#444"/>
<path d="M448.7,312.6 L451.9,310.1 L455.8,311.6" stroke="#444" stroke-width="0.7" fill="none"/>
<path d="M457.3,316.4 L474.6,331.8" stroke="#333" stroke-width="0.8" fill="none"/>
<path d="M474.3,332.4 L476.2,331.6 L477.5,333.3 L476.6,335.1 L474.8,334.7Z" stroke="#111111" stroke-width="0.7" fill="#555"/>
<path d="M455.0,325.5 L455.0,344.3" stroke="#b4b4b4" stroke-width="0.7" fill="none"/>
<path d="M475.6,336.0 L475.6,354.9" stroke="#b4b4b4" stroke-width="0.7" fill="none"/>
<path d="M427.1,171.5 L427.1,178.5" stroke="#7d7d7d" stroke-width="0.6" fill="none"/>
<path d="M430.2,172.3 L430.5,177.9" stroke="#7d7d7d" stroke-width="0.6" fill="none"/>
<path d="M429.4,198.3 L429.4,216.9" stroke="#444" stroke-width="0.8" fill="none"/>
<path d="M428.3,152.6 L432.9,151.2 L437.0,154.7 L443.7,161.6" stroke="#7d7d7d" stroke-width="0.6" fill="none"/>
<path d="M443.7,161.6 L443.7,171.2" stroke="#7d7d7d" stroke-width="0.6" fill="none"/>
<path d="M434.7,175.1 L443.7,171.2" stroke="#7d7d7d" stroke-width="0.6" fill="none"/>
<path d="M392.8,188.6 L443.7,161.6" stroke="#7d7d7d" stroke-width="0.6" fill="none"/>
<path d="M394.0,196.7 L418.4,184.0" stroke="#7d7d7d" stroke-width="0.6" fill="none"/>
<path d="M392.8,188.6 L394.0,196.7" stroke="#7d7d7d" stroke-width="0.6" fill="none"/>
<path d="M409.7,184.9 L410.0,194.2" stroke="#7d7d7d" stroke-width="0.6" fill="none"/>
<path d="M409.7,184.9 C410.1,184.6 411.5,183.3 412.6,183.3 C413.6,183.2 415.1,183.6 416.0,184.4 C417.0,185.3 418.0,187.7 418.4,188.4" stroke="#7d7d7d" stroke-width="0.6" fill="none"/>
<path d="M418.4,184.0 L418.6,196.5" stroke="#7d7d7d" stroke-width="0.6" fill="none"/>
<ellipse cx="420.7" cy="165.1" rx="9.3" ry="5.6" transform="rotate(-8 420.7 165.1)" stroke="#7d7d7d" stroke-width="0.6" fill="none"/>
<ellipse cx="420.7" cy="166.3" rx="9.5" ry="5.8" transform="rotate(-8 420.7 166.3)" stroke="#7d7d7d" stroke-width="0.6" fill="none"/>
<path d="M413.1,168.6 L414.9,170.5" stroke="#666" stroke-width="0.7" fill="none"/>
<path d="M426.5,167.4 L428.4,169.5" stroke="#666" stroke-width="0.7" fill="none"/>
<ellipse cx="420.7" cy="164.7" rx="0.9" ry="0.7" stroke="#7d7d7d" stroke-width="0.6" fill="none"/>
<ellipse cx="420.9" cy="171.2" rx="0.9" ry="0.7" stroke="#7d7d7d" stroke-width="0.6" fill="none"/>
<ellipse cx="413.7" cy="164.0" rx="0.7" ry="0.6" stroke="#7d7d7d" stroke-width="0.6" fill="none"/>
<ellipse cx="427.9" cy="165.6" rx="0.7" ry="0.6" stroke="#7d7d7d" stroke-width="0.6" fill="none"/>
<path d="M419.5,154.7 C419.6,153.7 421.0,153.3 421.9,153.3 C422.7,153.2 423.9,153.6 424.7,154.2 C425.4,154.8 426.5,156.1 426.5,157.0 C426.5,157.8 425.5,159.0 424.7,159.3 C423.8,159.7 422.2,159.8 421.4,159.1 C420.5,158.3 419.5,155.6 419.5,154.7Z" stroke="#7d7d7d" stroke-width="0.6" fill="none"/>
<path d="M420.7,155.8 C420.9,155.3 422.0,154.8 422.6,154.9 C423.1,154.9 424.1,155.5 424.2,156.0 C424.3,156.6 423.7,157.6 423.3,157.9 C422.8,158.2 421.8,158.0 421.4,157.7 C421.0,157.3 420.5,156.3 420.7,155.8Z" stroke="#7d7d7d" stroke-width="0.6" fill="none"/>
<path d="M421.9,157.0 L424.7,158.6" stroke="#555" stroke-width="0.75" fill="none"/>
<path d="M403.3,164.0 C403.6,163.0 405.0,162.6 405.8,162.6 C406.7,162.6 407.8,163.1 408.4,164.0 C408.9,164.8 409.3,166.6 409.1,167.4 C408.8,168.3 407.6,169.0 406.7,169.1 C405.9,169.2 404.5,169.0 404.0,168.1 C403.4,167.3 402.9,164.9 403.3,164.0Z" stroke="#7d7d7d" stroke-width="0.6" fill="none"/>
<path d="M407.9,161.6 C408.2,161.0 409.8,160.9 410.5,161.2 C411.2,161.4 412.0,162.4 412.1,163.0 C412.2,163.7 411.5,164.8 410.9,165.1 C410.4,165.4 409.3,165.5 408.8,164.9 C408.3,164.3 407.6,162.2 407.9,161.6Z" stroke="#7d7d7d" stroke-width="0.6" fill="none"/>
<path d="M404.9,166.3 L407.9,168.4" stroke="#555" stroke-width="0.75" fill="none"/>
<path d="M388.1,168.6 C388.5,167.8 390.5,166.7 391.6,166.5 C392.8,166.3 394.3,166.8 395.1,167.4 C395.9,168.1 396.6,169.7 396.3,170.5 C395.9,171.2 394.2,171.9 393.0,172.1 C391.9,172.2 390.1,172.0 389.3,171.4 C388.5,170.8 387.8,169.4 388.1,168.6Z" stroke="#7d7d7d" stroke-width="0.6" fill="none"/>
<path d="M384.7,177.0 L394.0,172.1" stroke="#7d7d7d" stroke-width="0.6" fill="none"/>
<path d="M387.0,179.1 L391.6,176.5" stroke="#7d7d7d" stroke-width="0.6" fill="none"/>
<path d="M430.7,152.3 C431.1,152.2 432.2,151.7 433.0,151.9 C433.9,152.1 435.2,152.8 435.8,153.5 C436.4,154.1 436.4,155.4 436.5,155.8" stroke="#7d7d7d" stroke-width="0.6" fill="none"/>
<ellipse cx="433.7" cy="154.2" rx="1.9" ry="1.2" stroke="#7d7d7d" stroke-width="0.6" fill="none"/>
<path d="M445.1,167.4 C445.6,165.5 447.6,166.1 448.6,166.3 C449.6,166.5 450.4,167.6 451.2,168.6 C451.9,169.6 453.1,170.8 453.3,172.1 C453.4,173.4 452.9,175.3 452.1,176.5 C451.3,177.7 449.7,178.8 448.6,179.1 C447.6,179.3 446.4,179.8 445.8,177.9 C445.2,176.0 444.7,169.4 445.1,167.4Z" stroke="#555" stroke-width="0.7" fill="none"/>
<path d="M446.7,169.8 C447.0,168.5 448.6,168.6 449.3,168.8 C450.0,169.1 451.0,170.4 451.2,171.4 C451.3,172.4 450.8,174.1 450.2,174.9 C449.7,175.7 448.3,177.1 447.7,176.3 C447.1,175.4 446.5,171.0 446.7,169.8Z" stroke="#626262" stroke-width="0.7" fill="none"/>
<path d="M447.4,173.3 L452.1,170.9" stroke="#626262" stroke-width="0.79" fill="none"/>
<path d="M445.8,176.7 L449.8,174.4" stroke="#626262" stroke-width="0.79" fill="none"/>
<path d="M449.3,176.7 L453.5,174.0" stroke="#555" stroke-width="0.7" fill="none"/>
<path d="M454.4,170.9 L456.7,172.1 L457.0,179.1" stroke="#7d7d7d" stroke-width="0.6" fill="none"/>
<path d="M445.1,164.0 L449.8,167.4" stroke="#7d7d7d" stroke-width="0.6" fill="none"/>
<path d="M449.8,167.4 L459.1,172.1 L473.0,183.7 L481.9,187.2" stroke="#7d7d7d" stroke-width="0.6" fill="none"/>
<path d="M481.9,187.2 L482.3,196.5" stroke="#7d7d7d" stroke-width="0.6" fill="none"/>
<path d="M473.0,183.7 L474.2,189.5" stroke="#7d7d7d" stroke-width="0.6" fill="none"/>
<path d="M459.1,179.1 C459.5,177.3 462.2,177.5 463.7,177.9 C465.3,178.3 467.4,180.0 468.4,181.4 C469.3,182.8 469.9,184.7 469.5,186.0 C469.1,187.4 467.4,189.1 466.0,189.5 C464.7,189.9 462.6,190.1 461.4,188.4 C460.2,186.6 458.7,180.8 459.1,179.1Z" stroke="#7d7d7d" stroke-width="0.6" fill="none"/>
<path d="M456.7,183.7 L466.0,188.4" stroke="#7d7d7d" stroke-width="0.6" fill="none"/>
<path d="M460.2,181.4 L468.4,185.6" stroke="#7d7d7d" stroke-width="0.6" fill="none"/>
<path d="M461.4,184.9 L467.2,187.9" stroke="#7d7d7d" stroke-width="0.6" fill="none"/>
<path d="M472.6,187.2 C472.6,186.7 473.9,186.5 474.4,186.7 C474.9,187.0 475.7,188.1 475.6,188.6 C475.5,189.1 474.5,190.0 474.0,189.8 C473.4,189.5 472.5,187.7 472.6,187.2Z" stroke="#7d7d7d" stroke-width="0.6" fill="none"/>
<path d="M445.1,180.2 L446.3,194.2" stroke="#7d7d7d" stroke-width="0.6" fill="none"/>
<path d="M447.4,181.4 L448.6,193.3" stroke="#7d7d7d" stroke-width="0.6" fill="none"/>
<path d="M443.7,196.5 L447.9,194.2" stroke="#555" stroke-width="0.75" fill="none"/>
<path d="M445.1,198.8 L446.5,195.6" stroke="#555" stroke-width="0.7" fill="none"/>
<path d="M449.8,184.9 C450.5,184.7 452.9,183.3 454.4,183.7 C456.0,184.1 458.1,185.7 459.1,187.2 C460.0,188.8 460.0,192.1 460.2,193.0" stroke="#7d7d7d" stroke-width="0.6" fill="none"/>
<path d="M463.7,193.0 C464.1,192.3 466.2,193.6 467.2,194.2 C468.2,194.8 469.3,195.7 469.5,196.5 C469.7,197.3 469.1,198.5 468.4,198.8 C467.6,199.1 465.7,199.3 464.9,198.4 C464.1,197.4 463.3,193.7 463.7,193.0Z" stroke="#7d7d7d" stroke-width="0.6" fill="none"/>
<path d="M464.4,195.3 L468.6,197.9" stroke="#555" stroke-width="0.7" fill="none"/>
<path d="M444.0,201.2 C444.1,199.6 447.6,199.0 449.8,198.8 C451.9,198.6 455.0,199.0 456.7,200.0 C458.5,201.0 460.4,203.3 460.2,204.7 C460.0,206.0 457.5,207.6 455.6,208.1 C453.6,208.7 450.5,209.3 448.6,208.1 C446.7,207.0 443.8,202.7 444.0,201.2Z" stroke="#7d7d7d" stroke-width="0.6" fill="none"/>
<path d="M446.3,202.3 C446.6,201.4 449.4,200.8 450.9,200.7 C452.5,200.6 454.5,201.2 455.6,201.9 C456.6,202.5 457.5,203.9 457.2,204.7 C456.9,205.4 455.3,206.2 454.0,206.5 C452.6,206.8 450.3,207.2 449.1,206.5 C447.8,205.8 446.0,203.3 446.3,202.3Z" stroke="#7d7d7d" stroke-width="0.6" fill="none"/>
<path d="M438.1,212.8 L454.4,204.7" stroke="#7d7d7d" stroke-width="0.6" fill="none"/>
<path d="M440.5,204.7 L445.1,215.1" stroke="#7d7d7d" stroke-width="0.6" fill="none"/>
<path d="M445.1,208.1 L449.8,217.4" stroke="#7d7d7d" stroke-width="0.6" fill="none"/>
<path d="M456.7,210.5 L470.7,203.7" stroke="#7d7d7d" stroke-width="0.6" fill="none"/>
<path d="M459.1,212.8 L470.2,207.2" stroke="#7d7d7d" stroke-width="0.6" fill="none"/>
<path d="M466.0,204.7 L467.0,208.1" stroke="#555" stroke-width="0.7" fill="none"/>
<path d="M467.4,204.0 L468.4,207.4" stroke="#555" stroke-width="0.7" fill="none"/>
<path d="M468.8,203.3 L469.8,206.7" stroke="#555" stroke-width="0.7" fill="none"/>
<path d="M454.4,215.1 L461.4,211.6" stroke="#7d7d7d" stroke-width="0.6" fill="none"/>
<path d="M461.4,215.1 C462.6,214.7 466.4,212.4 468.4,212.8 C470.3,213.2 472.6,215.9 473.0,217.4 C473.4,219.0 471.1,221.2 470.7,222.0" stroke="#7d7d7d" stroke-width="0.6" fill="none"/>
<path d="M482.3,196.5 L491.6,210.5 L496.3,222.0" stroke="#7d7d7d" stroke-width="0.6" fill="none"/>
<path d="M478.8,197.7 L488.1,212.8" stroke="#7d7d7d" stroke-width="0.6" fill="none"/>
<path d="M398.6,204.7 C399.3,203.3 400.9,202.5 402.1,202.3 C403.3,202.1 404.8,202.5 405.6,203.5 C406.4,204.5 406.9,206.6 406.7,208.1 C406.6,209.7 405.5,211.9 404.4,212.8 C403.4,213.7 401.6,213.9 400.5,213.5 C399.4,213.1 398.2,211.9 397.9,210.5 C397.6,209.0 397.9,206.0 398.6,204.7Z" stroke="#555" stroke-width="0.7" fill="none"/>
<path d="M400.0,206.0 C400.5,205.3 401.6,204.6 402.3,204.7 C403.1,204.7 404.1,205.4 404.4,206.3 C404.7,207.2 404.5,209.1 404.0,210.0 C403.4,210.9 402.1,211.5 401.4,211.4 C400.7,211.3 399.8,210.2 399.5,209.3 C399.3,208.4 399.5,206.8 400.0,206.0Z" stroke="#626262" stroke-width="0.7" fill="none"/>
<ellipse cx="391.6" cy="210.5" rx="4.0" ry="4.7" stroke="#7d7d7d" stroke-width="0.6" fill="none"/>
<ellipse cx="391.6" cy="210.5" rx="2.6" ry="3.0" stroke="#7d7d7d" stroke-width="0.6" fill="none"/>
<path d="M406.7,212.8 C407.0,211.2 409.1,210.5 410.2,210.5 C411.4,210.5 412.9,211.6 413.7,212.8 C414.5,214.0 415.1,216.1 414.9,217.4 C414.7,218.8 413.6,220.5 412.6,220.9 C411.5,221.3 409.6,221.1 408.6,219.8 C407.6,218.4 406.5,214.3 406.7,212.8Z" stroke="#555" stroke-width="0.7" fill="none"/>
<path d="M394.0,215.1 C394.1,213.9 396.4,213.5 397.4,213.7 C398.5,213.9 400.1,215.3 400.5,216.3 C400.9,217.3 400.5,219.0 399.8,219.8 C399.1,220.5 397.2,221.7 396.3,220.9 C395.3,220.2 393.8,216.3 394.0,215.1Z" stroke="#555" stroke-width="0.7" fill="none"/>
<path d="M397.4,210.5 L400.5,215.1" stroke="#626262" stroke-width="0.75" fill="none"/>
<path d="M404.4,201.2 L409.1,204.7" stroke="#555" stroke-width="0.7" fill="none"/>
<path d="M405.6,197.7 L414.9,196.5" stroke="#555" stroke-width="0.7" fill="none"/>
<path d="M410.2,196.5 C410.7,195.8 412.6,195.1 413.7,195.1 C414.8,195.1 416.2,195.9 416.7,196.5 C417.3,197.1 417.7,198.1 417.2,198.8 C416.7,199.5 414.8,200.6 413.7,200.7 C412.6,200.8 411.3,200.0 410.7,199.3 C410.1,198.6 409.7,197.2 410.2,196.5Z" stroke="#626262" stroke-width="0.7" fill="none"/>
<path d="M410.7,197.7 L417.0,197.4" stroke="#626262" stroke-width="0.79" fill="none"/>
<path d="M414.9,201.2 L417.2,215.1" stroke="#7d7d7d" stroke-width="0.6" fill="none"/>
<path d="M416.7,204.7 L418.4,219.8" stroke="#7d7d7d" stroke-width="0.6" fill="none"/>
<path d="M414.9,216.3 L418.4,218.6" stroke="#626262" stroke-width="0.75" fill="none"/>
<path d="M394.0,196.7 L395.1,204.7" stroke="#7d7d7d" stroke-width="0.6" fill="none"/>
<path d="M384.7,204.7 L389.3,202.3" stroke="#7d7d7d" stroke-width="0.6" fill="none"/>
<path d="M380.0,198.8 L387.0,204.7" stroke="#7d7d7d" stroke-width="0.6" fill="none"/>
<path d="M382.3,215.1 L387.0,219.8" stroke="#7d7d7d" stroke-width="0.6" fill="none"/>
<path d="M380.0,182.6 C380.6,182.4 382.5,181.0 383.5,181.4 C384.5,181.8 385.6,183.7 385.8,184.9 C386.0,186.0 384.8,187.8 384.7,188.4" stroke="#7d7d7d" stroke-width="0.6" fill="none"/>
<path d="M380.0,190.7 L392.8,196.5" stroke="#7d7d7d" stroke-width="0.6" fill="none"/>
<ellipse cx="336.9" cy="231.2" rx="14.9" ry="22.8" transform="rotate(-14 336.9 231.2)" stroke="#7d7d7d" stroke-width="0.6" fill="none"/>
<ellipse cx="339.3" cy="231.2" rx="12.1" ry="20.0" transform="rotate(-14 339.3 231.2)" stroke="#7d7d7d" stroke-width="0.6" fill="none"/>
<path d="M323.0,218.4 L326.5,220.0" stroke="#8a8a8a" stroke-width="0.7" fill="none"/>
<path d="M322.0,223.0 L325.5,224.0" stroke="#8a8a8a" stroke-width="0.7" fill="none"/>
<path d="M321.8,227.7 L325.3,227.9" stroke="#8a8a8a" stroke-width="0.7" fill="none"/>
<path d="M322.3,232.3 L325.8,231.9" stroke="#8a8a8a" stroke-width="0.7" fill="none"/>
<path d="M323.2,237.0 L326.7,235.8" stroke="#8a8a8a" stroke-width="0.7" fill="none"/>
<path d="M324.6,241.6 L328.1,239.8" stroke="#8a8a8a" stroke-width="0.7" fill="none"/>
<path d="M326.7,245.8 L330.0,243.5" stroke="#8a8a8a" stroke-width="0.7" fill="none"/>
<path d="M329.5,249.3 L332.3,246.5" stroke="#8a8a8a" stroke-width="0.7" fill="none"/>
<path d="M325.1,214.9 L328.3,217.0" stroke="#8a8a8a" stroke-width="0.7" fill="none"/>
<path d="M328.1,212.1 L330.7,214.7" stroke="#8a8a8a" stroke-width="0.7" fill="none"/>
<path d="M331.6,210.5 L333.4,213.3" stroke="#8a8a8a" stroke-width="0.7" fill="none"/>
<path d="M335.5,210.0 L336.5,213.0" stroke="#8a8a8a" stroke-width="0.7" fill="none"/>
<path d="M333.2,250.9 L335.5,247.9" stroke="#8a8a8a" stroke-width="0.7" fill="none"/>
<path d="M337.9,252.0 L339.7,248.8" stroke="#8a8a8a" stroke-width="0.7" fill="none"/>
<path d="M342.5,251.2 L343.7,248.1" stroke="#8a8a8a" stroke-width="0.7" fill="none"/>
<path d="M347.2,249.8 L347.6,246.5" stroke="#8a8a8a" stroke-width="0.7" fill="none"/>
<path d="M350.7,247.4 L350.7,244.2" stroke="#8a8a8a" stroke-width="0.7" fill="none"/>
<path d="M353.0,242.8 L352.0,240.5" stroke="#8a8a8a" stroke-width="0.7" fill="none"/>
<path d="M323.9,220.7 L327.4,218.4 L330.9,214.9" stroke="#777" stroke-width="0.7" fill="none"/>
<path d="M323.4,230.0 L326.5,234.7 L329.7,242.8" stroke="#777" stroke-width="0.7" fill="none"/>
<ellipse cx="339.7" cy="224.7" rx="1.3" ry="1.3" stroke="#333" stroke-width="1" fill="#bbb"/>
<ellipse cx="335.5" cy="227.0" rx="1.3" ry="1.3" stroke="#333" stroke-width="1" fill="#bbb"/>
<ellipse cx="344.1" cy="231.9" rx="1.3" ry="1.3" stroke="#555" stroke-width="0.75" fill="#bbb"/>
<ellipse cx="340.2" cy="234.7" rx="1.3" ry="1.3" stroke="#333" stroke-width="1" fill="#bbb"/>
<path d="M339.3,226.5 C339.0,226.9 337.9,228.1 337.9,228.8 C337.9,229.6 338.5,230.8 339.3,231.2 C340.0,231.6 342.0,231.2 342.5,231.2" stroke="#555" stroke-width="0.7" fill="none"/>
<path d="M335.5,228.1 L332.0,240.5" stroke="#666" stroke-width="0.7" fill="none"/>
<path d="M340.2,235.8 L334.4,245.1" stroke="#666" stroke-width="0.7" fill="none"/>
<ellipse cx="340.0" cy="229.8" rx="7.0" ry="9.8" transform="rotate(-14 340.0 229.8)" stroke="#7d7d7d" stroke-width="0.6" fill="none"/>
<path d="M312.3,203.8 L320.9,208.6" stroke="#555" stroke-width="0.86" fill="none"/>
<path d="M313.0,205.8 L320.0,209.1" stroke="#666" stroke-width="0.7" fill="none"/>
<path d="M313.4,203.3 L319.3,207.0" stroke="#777" stroke-width="0.7" fill="none"/>
<path d="M337.9,194.0 C338.6,192.4 342.9,191.0 344.8,190.7 C346.8,190.4 348.8,191.2 349.7,192.1 C350.7,193.0 351.3,194.9 350.7,196.3 C350.0,197.7 347.7,199.9 346.0,200.5 C344.3,201.0 341.5,200.9 340.2,199.8 C338.8,198.7 337.1,195.5 337.9,194.0Z" stroke="#666" stroke-width="0.7" fill="none"/>
<path d="M344.8,196.3 L348.3,194.9 L348.6,197.4 L345.8,198.6Z" stroke="#555" stroke-width="0.7" fill="#555"/>
<path d="M339.3,198.6 L347.2,202.1" stroke="#666" stroke-width="0.7" fill="none"/>
<path d="M345.3,203.3 L345.5,214.9" stroke="#7d7d7d" stroke-width="0.6" fill="none"/>
<path d="M330.9,202.1 L333.2,206.7" stroke="#666" stroke-width="0.7" fill="none"/>
<path d="M330.4,204.4 L332.3,207.9" stroke="#555" stroke-width="0.7" fill="none"/>
<path d="M365.8,196.3 L367.2,199.8" stroke="#626262" stroke-width="0.79" fill="none"/>
<path d="M367.6,206.7 L369.3,210.5" stroke="#626262" stroke-width="0.79" fill="none"/>
<path d="M371.6,212.6 L376.2,214.9" stroke="#626262" stroke-width="0.86" fill="none"/>
<path d="M372.7,211.4 L374.1,216.0" stroke="#626262" stroke-width="0.7" fill="none"/>
<path d="M376.2,217.2 L377.4,223.0" stroke="#626262" stroke-width="0.79" fill="none"/>
<path d="M377.4,225.3 L376.7,232.3" stroke="#626262" stroke-width="0.75" fill="none"/>
<path d="M377.4,226.5 L378.8,231.2" stroke="#555" stroke-width="0.7" fill="none"/>
<path d="M376.2,232.3 L375.5,247.4" stroke="#7d7d7d" stroke-width="0.6" fill="none"/>
<path d="M363.0,211.4 L364.4,214.9" stroke="#555" stroke-width="0.7" fill="none"/>
<path d="M355.3,188.1 C355.7,189.1 356.7,190.7 357.6,194.0 C358.6,197.2 359.6,203.4 361.1,207.9 C362.7,212.4 366.0,218.6 366.9,220.7" stroke="#7d7d7d" stroke-width="0.6" fill="none"/>
<path d="M358.8,190.5 C359.1,191.6 359.8,194.3 360.7,197.4 C361.5,200.5 362.9,205.4 364.1,209.1 C365.4,212.8 367.4,217.8 368.1,219.5" stroke="#7d7d7d" stroke-width="0.6" fill="none"/>
<path d="M355.3,188.1 L361.1,184.7 L370.4,182.3" stroke="#7d7d7d" stroke-width="0.6" fill="none"/>
<path d="M350.7,219.5 L355.3,214.9 L361.1,218.4 L366.9,220.7 L376.2,221.4" stroke="#7d7d7d" stroke-width="0.6" fill="none"/>
<path d="M350.7,219.5 C350.5,220.7 349.3,224.0 349.5,226.5 C349.7,229.0 350.5,232.3 351.8,234.7 C353.2,237.0 355.3,238.7 357.6,240.5 C360.0,242.2 363.2,243.8 365.8,245.1 C368.3,246.5 371.6,248.0 372.7,248.6" stroke="#7d7d7d" stroke-width="0.6" fill="none"/>
<path d="M361.1,218.4 L363.4,214.9 L366.9,220.7" stroke="#7d7d7d" stroke-width="0.6" fill="none"/>
<path d="M364.6,194.0 L379.7,202.1 L394.8,195.1" stroke="#7d7d7d" stroke-width="0.6" fill="none"/>
<path d="M379.7,202.1 L380.0,213.7" stroke="#7d7d7d" stroke-width="0.6" fill="none"/>
<path d="M364.6,194.0 L364.8,200.9" stroke="#7d7d7d" stroke-width="0.6" fill="none"/>
<path d="M380.0,213.7 L389.0,210.5" stroke="#7d7d7d" stroke-width="0.6" fill="none"/>
<path d="M370.4,207.9 L379.7,213.7" stroke="#7d7d7d" stroke-width="0.6" fill="none"/>
<ellipse cx="376.2" cy="193.0" rx="4.2" ry="2.8" stroke="#666" stroke-width="0.6" fill="none"/>
<ellipse cx="376.2" cy="191.6" rx="3.5" ry="2.1" stroke="#7d7d7d" stroke-width="0.6" fill="none"/>
<ellipse cx="380.9" cy="183.5" rx="4.7" ry="2.6" stroke="#7d7d7d" stroke-width="0.6" fill="none"/>
<ellipse cx="380.9" cy="185.8" rx="5.1" ry="2.8" stroke="#7d7d7d" stroke-width="0.6" fill="none"/>
<path d="M384.4,184.7 L386.2,186.0" stroke="#555" stroke-width="0.79" fill="none"/>
<path d="M373.2,191.6 L379.7,194.0" stroke="#555" stroke-width="0.7" fill="none"/>
<path d="M387.9,206.7 C388.2,204.8 390.8,203.9 392.5,203.3 C394.3,202.6 396.8,202.2 398.3,202.8 C399.9,203.4 401.4,205.1 401.8,206.7 C402.2,208.4 401.6,211.0 400.7,212.6 C399.7,214.1 397.7,215.7 396.0,216.0 C394.3,216.4 391.5,216.4 390.2,214.9 C388.8,213.3 387.5,208.7 387.9,206.7Z" stroke="#666" stroke-width="0.7" fill="none"/>
<path d="M390.4,207.9 C390.7,206.8 392.6,206.1 393.7,205.8 C394.8,205.5 396.4,205.6 397.2,206.3 C397.9,206.9 398.5,208.6 398.3,209.8 C398.1,210.9 397.0,212.6 396.0,213.0 C395.0,213.5 393.0,213.4 392.0,212.6 C391.1,211.7 390.1,209.0 390.4,207.9Z" stroke="#666" stroke-width="0.7" fill="none"/>
<path d="M398.3,207.9 C398.8,206.7 400.8,205.6 401.8,205.6 C402.9,205.6 404.2,206.7 404.6,207.9 C405.0,209.1 404.7,211.4 404.1,212.6 C403.6,213.7 402.0,214.8 401.1,214.9 C400.2,214.9 399.3,214.0 398.8,212.8 C398.3,211.6 397.8,209.1 398.3,207.9Z" stroke="#626262" stroke-width="0.7" fill="none"/>
<path d="M406.5,212.6 C406.8,211.4 409.0,211.0 410.0,211.2 C410.9,211.4 412.1,212.7 412.3,213.7 C412.5,214.7 411.9,216.5 411.1,217.2 C410.4,217.9 408.6,218.7 407.9,217.9 C407.1,217.1 406.1,213.7 406.5,212.6Z" stroke="#555" stroke-width="0.7" fill="none"/>
<path d="M399.5,213.7 C399.7,212.9 402.2,212.9 403.0,213.3 C403.8,213.6 404.3,215.3 404.1,216.0 C403.9,216.8 402.6,218.3 401.8,217.9 C401.0,217.5 399.3,214.5 399.5,213.7Z" stroke="#626262" stroke-width="0.7" fill="none"/>
<path d="M396.0,214.9 L400.7,218.4" stroke="#626262" stroke-width="0.79" fill="none"/>
<path d="M392.5,191.6 L412.3,182.3" stroke="#7d7d7d" stroke-width="0.6" fill="none"/>
<path d="M394.8,195.1 L416.0,185.8" stroke="#7d7d7d" stroke-width="0.6" fill="none"/>
<path d="M394.8,195.1 L395.1,202.1" stroke="#7d7d7d" stroke-width="0.6" fill="none"/>
<path d="M410.0,197.4 L416.0,195.1" stroke="#7d7d7d" stroke-width="0.6" fill="none"/>
<path d="M410.4,197.4 L413.4,198.6" stroke="#626262" stroke-width="0.86" fill="none"/>
<path d="M390.2,225.3 C390.8,224.7 392.7,223.7 393.7,223.7 C394.7,223.8 395.9,224.7 396.2,225.6 C396.5,226.4 396.2,228.1 395.5,228.8 C394.9,229.5 393.2,229.9 392.3,229.8 C391.4,229.6 390.5,228.6 390.2,227.9 C389.8,227.2 389.6,226.0 390.2,225.3Z" stroke="#626262" stroke-width="0.7" fill="none"/>
<path d="M391.3,226.5 L394.8,228.4" stroke="#555" stroke-width="0.79" fill="none"/>
<path d="M382.0,220.7 C382.6,220.2 384.8,219.6 385.5,220.0 C386.3,220.4 386.9,222.2 386.7,223.0 C386.5,223.8 385.1,224.6 384.4,224.7 C383.6,224.7 382.7,223.9 382.3,223.3 C381.9,222.6 381.5,221.2 382.0,220.7Z" stroke="#555" stroke-width="0.7" fill="none"/>
<path d="M385.5,230.0 L396.0,234.7" stroke="#7d7d7d" stroke-width="0.6" fill="none"/>
<path d="M388.6,236.5 L391.3,237.7 L390.0,234.7" stroke="#626262" stroke-width="0.7" fill="none"/>
<path d="M370.4,250.9 L416.0,226.5" stroke="#7d7d7d" stroke-width="0.6" fill="none"/>
<path d="M377.4,252.0 L416.0,231.2" stroke="#7d7d7d" stroke-width="0.6" fill="none"/>
<path d="M398.3,218.4 C399.3,219.0 401.8,220.1 404.1,221.9 C406.5,223.6 410.9,227.7 412.3,228.8" stroke="#7d7d7d" stroke-width="0.6" fill="none"/>
<path d="M400.7,220.7 C401.8,221.3 405.1,222.4 407.6,224.2 C410.2,225.9 414.6,230.0 416.0,231.2" stroke="#7d7d7d" stroke-width="0.6" fill="none"/>
<path d="M398.3,240.5 L407.6,245.1" stroke="#555" stroke-width="0.7" fill="none"/>
<path d="M400.7,238.1 L410.0,242.8" stroke="#666" stroke-width="0.7" fill="none"/>
<path d="M396.0,245.1 L398.3,249.8" stroke="#626262" stroke-width="0.7" fill="none"/>
<path d="M393.7,247.4 C394.3,247.2 396.3,245.9 397.2,246.3 C398.1,246.7 399.0,248.8 399.0,249.8 C399.0,250.7 397.5,251.6 397.2,252.0" stroke="#555" stroke-width="0.7" fill="none"/>
<path d="M407.6,235.8 L412.3,240.5" stroke="#555" stroke-width="0.7" fill="none"/>
<path d="M405.3,245.1 L414.6,249.8" stroke="#555" stroke-width="0.7" fill="none"/>
<path d="M397.0,244.1 L428.4,227.8" stroke="#666" stroke-width="0.7" fill="none"/>
<path d="M399.3,247.6 L430.7,231.3" stroke="#777" stroke-width="0.7" fill="none"/>
<path d="M401.6,241.7 L405.1,246.4" stroke="#555" stroke-width="0.7" fill="none"/>
<path d="M406.3,239.4 L409.5,244.1" stroke="#555" stroke-width="0.7" fill="none"/>
<path d="M410.9,237.1 L414.0,242.0" stroke="#555" stroke-width="0.7" fill="none"/>
<path d="M415.8,234.8 L418.8,239.4" stroke="#555" stroke-width="0.7" fill="none"/>
<path d="M420.5,232.4 L423.5,237.1" stroke="#555" stroke-width="0.7" fill="none"/>
<path d="M422.6,232.4 C422.8,231.7 424.2,231.2 424.9,231.3 C425.6,231.4 426.6,232.4 426.7,233.1 C426.9,233.8 426.2,235.0 425.6,235.5 C425.0,235.9 423.8,236.2 423.3,235.7 C422.8,235.2 422.3,233.2 422.6,232.4Z" stroke="#626262" stroke-width="0.7" fill="#999"/>
<path d="M416.7,235.9 C417.1,235.3 418.4,234.9 419.1,235.0 C419.7,235.1 420.4,236.0 420.5,236.6 C420.5,237.2 419.8,238.4 419.3,238.7 C418.8,239.0 417.6,239.0 417.2,238.5 C416.8,238.0 416.4,236.5 416.7,235.9Z" stroke="#555" stroke-width="0.7" fill="none"/>
<path d="M404.0,242.9 L407.4,241.3" stroke="#626262" stroke-width="0.79" fill="none"/>
<path d="M409.3,240.1 L412.8,238.5" stroke="#626262" stroke-width="0.79" fill="none"/>
<path d="M414.0,237.8 L417.9,235.9" stroke="#626262" stroke-width="0.79" fill="none"/>
<path d="M438.8,224.3 C439.0,223.2 440.8,222.2 441.9,222.0 C442.9,221.8 444.9,222.4 445.3,223.1 C445.8,223.9 445.3,225.7 444.7,226.6 C444.0,227.5 442.1,228.9 441.2,228.5 C440.2,228.1 438.7,225.4 438.8,224.3Z" stroke="#555" stroke-width="0.7" fill="none"/>
<path d="M440.0,226.6 L444.7,224.8" stroke="#626262" stroke-width="0.79" fill="none"/>
<path d="M440.7,222.0 L442.3,227.8" stroke="#555" stroke-width="0.7" fill="none"/>
<path d="M430.7,230.1 L438.8,226.6" stroke="#7d7d7d" stroke-width="0.6" fill="none"/>
<path d="M428.4,229.0 L455.1,217.3" stroke="#7d7d7d" stroke-width="0.6" fill="none"/>
<path d="M413.3,261.5 C413.6,260.2 414.4,255.3 415.6,253.4 C416.7,251.4 418.7,250.1 420.2,249.9 C421.8,249.7 424.1,251.8 424.9,252.2" stroke="#7d7d7d" stroke-width="0.6" fill="none"/>
<path d="M424.9,255.7 C425.3,254.5 426.0,250.4 427.2,248.7 C428.4,247.0 430.4,245.7 431.9,245.5 C433.3,245.3 435.3,247.2 436.0,247.6" stroke="#7d7d7d" stroke-width="0.6" fill="none"/>
<path d="M436.5,249.9 C436.9,248.7 437.7,244.6 438.8,242.9 C440.0,241.2 442.1,240.1 443.5,239.9 C444.8,239.7 446.4,241.4 447.0,241.7" stroke="#7d7d7d" stroke-width="0.6" fill="none"/>
<path d="M417.9,253.4 C418.2,251.9 419.7,251.9 420.5,252.0 C421.2,252.1 422.4,252.9 422.6,254.1 C422.7,255.3 422.1,258.1 421.4,259.2 C420.7,260.3 419.2,261.6 418.6,260.6 C418.0,259.6 417.6,254.8 417.9,253.4Z" stroke="#7d7d7d" stroke-width="0.6" fill="none"/>
<path d="M429.5,248.7 C429.8,247.4 431.3,247.1 432.1,247.1 C432.9,247.1 434.0,247.9 434.2,249.0 C434.4,250.0 433.9,252.6 433.3,253.6 C432.6,254.7 431.1,256.0 430.5,255.2 C429.8,254.4 429.3,250.1 429.5,248.7Z" stroke="#7d7d7d" stroke-width="0.6" fill="none"/>
<path d="M440.7,243.4 C440.9,242.2 442.3,241.9 443.0,242.0 C443.8,242.0 444.9,242.7 445.1,243.6 C445.3,244.5 444.8,246.7 444.2,247.6 C443.6,248.4 442.2,249.7 441.6,249.0 C441.0,248.3 440.5,244.5 440.7,243.4Z" stroke="#7d7d7d" stroke-width="0.6" fill="none"/>
<path d="M414.4,263.8 L424.9,259.2" stroke="#7d7d7d" stroke-width="0.6" fill="none"/>
<path d="M426.0,258.3 L436.5,253.4" stroke="#7d7d7d" stroke-width="0.6" fill="none"/>
<path d="M437.7,252.4 L448.1,247.6" stroke="#7d7d7d" stroke-width="0.6" fill="none"/>
<path d="M410.9,249.9 L413.3,261.5" stroke="#7d7d7d" stroke-width="0.6" fill="none"/>
<path d="M423.7,244.1 L424.9,255.7" stroke="#7d7d7d" stroke-width="0.6" fill="none"/>
<path d="M435.6,238.3 L436.5,249.9" stroke="#7d7d7d" stroke-width="0.6" fill="none"/>
<path d="M445.8,233.6 L447.0,241.7" stroke="#7d7d7d" stroke-width="0.6" fill="none"/>
<path d="M421.4,244.8 L424.0,246.4" stroke="#666" stroke-width="0.7" fill="none"/>
<path d="M433.3,239.0 L435.8,240.8" stroke="#666" stroke-width="0.7" fill="none"/>
<path d="M447.0,247.6 C447.2,246.4 447.2,242.5 448.1,240.6 C449.1,238.6 451.6,237.9 452.8,235.9 C454.0,234.0 454.7,230.1 455.1,229.0" stroke="#7d7d7d" stroke-width="0.6" fill="none"/>
<path d="M455.1,229.0 C455.5,230.5 455.9,235.9 457.4,238.3 C459.0,240.6 462.3,242.2 464.4,242.9 C466.6,243.6 469.3,242.5 470.2,242.4" stroke="#7d7d7d" stroke-width="0.6" fill="none"/>
<path d="M457.4,230.1 C457.8,231.3 458.1,235.2 459.3,237.1 C460.5,239.0 462.9,240.7 464.9,241.3 C466.9,241.9 470.3,240.9 471.4,240.8" stroke="#7d7d7d" stroke-width="0.6" fill="none"/>
<path d="M470.2,238.3 L470.5,242.9" stroke="#7d7d7d" stroke-width="0.6" fill="none"/>
<path d="M472.6,237.8 L472.8,242.4" stroke="#7d7d7d" stroke-width="0.6" fill="none"/>
<path d="M447.0,247.6 C447.9,247.8 450.7,248.9 452.8,248.7 C454.9,248.5 458.6,246.8 459.8,246.4" stroke="#7d7d7d" stroke-width="0.6" fill="none"/>
<path d="M401.6,263.8 L459.8,235.9" stroke="#7d7d7d" stroke-width="0.6" fill="none"/>
<path d="M402.8,267.3 L462.1,238.3" stroke="#7d7d7d" stroke-width="0.6" fill="none"/>
<path d="M405.1,270.8 L459.8,245.2" stroke="#7d7d7d" stroke-width="0.6" fill="none"/>
<path d="M455.1,241.7 L457.4,248.7" stroke="#7d7d7d" stroke-width="0.6" fill="none"/>
<path d="M401.6,263.8 L404.0,270.8" stroke="#7d7d7d" stroke-width="0.6" fill="none"/>
<path d="M404.0,275.5 L455.1,251.0" stroke="#7d7d7d" stroke-width="0.6" fill="none"/>
<path d="M406.3,280.1 L456.3,255.7" stroke="#7d7d7d" stroke-width="0.6" fill="none"/>
<path d="M455.1,251.0 L458.6,252.2 L458.8,273.1" stroke="#7d7d7d" stroke-width="0.6" fill="none"/>
<path d="M456.3,255.7 L456.5,270.8" stroke="#7d7d7d" stroke-width="0.6" fill="none"/>
<path d="M436.5,266.2 C436.9,265.1 439.2,264.1 441.2,263.4 C443.1,262.6 446.2,261.6 448.1,261.5 C450.1,261.4 452.2,261.9 452.8,262.7 C453.4,263.4 452.8,265.2 451.6,266.2 C450.5,267.2 447.9,268.1 445.8,268.7 C443.7,269.3 440.4,270.1 438.8,269.7 C437.3,269.2 436.1,267.2 436.5,266.2Z" stroke="#7d7d7d" stroke-width="0.6" fill="none"/>
<path d="M440.0,277.8 C440.4,276.9 442.5,275.5 444.7,274.5 C446.8,273.6 450.9,272.2 452.8,272.0 C454.7,271.7 455.9,272.4 456.3,273.1 C456.7,273.9 456.5,275.6 455.1,276.6 C453.8,277.6 450.3,278.6 448.1,279.2 C446.0,279.8 443.7,280.3 442.3,280.1 C441.0,279.9 439.6,278.7 440.0,277.8Z" stroke="#7d7d7d" stroke-width="0.6" fill="none"/>
<path d="M415.6,276.6 C415.8,275.7 418.5,274.7 420.2,274.1 C422.0,273.5 424.7,273.0 426.0,273.1 C427.4,273.3 428.6,274.2 428.4,275.0 C428.2,275.8 426.4,277.0 424.9,277.8 C423.3,278.6 420.6,279.8 419.1,279.7 C417.5,279.5 415.4,277.6 415.6,276.6Z" stroke="#7d7d7d" stroke-width="0.6" fill="none"/>
<path d="M417.9,284.8 C418.9,284.3 421.8,282.8 423.7,282.2 C425.7,281.6 428.6,281.4 429.5,281.3" stroke="#7d7d7d" stroke-width="0.6" fill="none"/>
<path d="M429.5,269.7 L430.7,284.8" stroke="#7d7d7d" stroke-width="0.6" fill="none"/>
<path d="M436.5,266.2 L437.7,280.1" stroke="#7d7d7d" stroke-width="0.6" fill="none"/>
<path d="M434.2,280.1 L436.5,284.8" stroke="#555" stroke-width="0.7" fill="none"/>
<path d="M431.9,282.4 L434.2,285.9" stroke="#666" stroke-width="0.7" fill="none"/>
<path d="M444.7,282.4 L459.8,275.5" stroke="#7d7d7d" stroke-width="0.6" fill="none"/>
<path d="M445.8,284.8 L458.6,278.7" stroke="#7d7d7d" stroke-width="0.6" fill="none"/>
<path d="M430.7,272.0 L445.8,287.0" stroke="#626262" stroke-width="0.8" fill="none"/>
<path d="M393.5,248.7 C393.8,248.0 395.2,247.4 395.8,247.6 C396.4,247.8 397.2,249.1 397.2,249.9 C397.2,250.7 396.4,251.9 395.8,252.2 C395.3,252.5 394.3,252.3 394.0,251.7 C393.6,251.2 393.2,249.4 393.5,248.7Z" stroke="#555" stroke-width="0.7" fill="none"/>
<ellipse cx="393.5" cy="262.7" rx="1.9" ry="2.6" stroke="#7d7d7d" stroke-width="0.6" fill="none"/>
<ellipse cx="393.5" cy="262.7" rx="1.0" ry="1.5" stroke="#7d7d7d" stroke-width="0.6" fill="none"/>
<path d="M392.3,266.2 L395.8,268.5" stroke="#555" stroke-width="0.7" fill="none"/>
<path d="M398.1,253.4 L399.3,284.8" stroke="#7d7d7d" stroke-width="0.6" fill="none"/>
<path d="M400.5,254.5 L401.6,284.8" stroke="#7d7d7d" stroke-width="0.6" fill="none"/>
<path d="M390.0,275.5 C390.4,275.9 391.7,276.6 392.3,277.8 C392.9,279.0 393.3,281.7 393.5,282.4" stroke="#7d7d7d" stroke-width="0.6" fill="none"/>
<path d="M394.7,280.1 L396.0,283.6" stroke="#626262" stroke-width="0.79" fill="none"/>
<path d="M401.6,269.7 L405.1,280.1" stroke="#555" stroke-width="0.7" fill="none"/>
<path d="M402.8,275.5 L407.4,273.1" stroke="#666" stroke-width="0.7" fill="none"/>
<path d="M405.1,280.1 C405.9,279.7 408.4,277.8 409.8,277.8 C411.1,277.8 412.9,279.0 413.3,280.1 C413.6,281.3 412.3,284.0 412.1,284.8" stroke="#7d7d7d" stroke-width="0.6" fill="none"/>
<path d="M492.3,215.0 C493.1,216.9 495.9,222.8 497.0,226.6 C498.0,230.5 498.3,236.3 498.6,238.3" stroke="#7d7d7d" stroke-width="0.6" fill="none"/>
<path d="M494.7,241.7 L495.8,245.2" stroke="#7d7d7d" stroke-width="0.6" fill="none"/>
<path d="M499.3,241.7 L500.5,245.2" stroke="#7d7d7d" stroke-width="0.6" fill="none"/>
<path d="M476.0,238.3 L494.7,230.1" stroke="#7d7d7d" stroke-width="0.6" fill="none"/>
<path d="M360.7,274.4 C361.1,274.2 362.4,273.2 363.4,273.3 C364.5,273.3 366.0,273.9 366.9,274.9 C367.9,275.9 368.9,278.4 369.3,279.1" stroke="#555" stroke-width="0.9" fill="none"/>
<path d="M361.3,276.3 L363.9,280.0" stroke="#626262" stroke-width="0.79" fill="none"/>
<path d="M362.5,274.9 L365.8,279.1" stroke="#555" stroke-width="0.7" fill="none"/>
<ellipse cx="384.6" cy="290.9" rx="4.4" ry="3.5" stroke="#555" stroke-width="0.8" fill="none"/>
<ellipse cx="384.6" cy="290.7" rx="3.3" ry="2.3" stroke="#666" stroke-width="0.7" fill="none"/>
<path d="M377.4,294.2 L380.9,295.6" stroke="#626262" stroke-width="0.79" fill="none"/>
<path d="M376.2,273.3 C376.8,273.1 378.8,271.8 379.7,272.1 C380.7,272.4 381.7,274.4 382.0,274.9" stroke="#555" stroke-width="0.7" fill="none"/>
<path d="M384.4,270.9 C385.0,270.9 387.1,270.1 387.9,270.5 C388.6,270.9 388.8,272.8 389.0,273.3" stroke="#555" stroke-width="0.7" fill="none"/>
<path d="M377.4,276.7 L380.9,279.1" stroke="#626262" stroke-width="0.7" fill="none"/>
<path d="M391.3,274.4 L394.8,276.7 L397.2,281.4" stroke="#555" stroke-width="0.7" fill="none"/>
<path d="M391.3,261.6 C391.8,261.0 393.6,260.5 394.4,260.7 C395.1,260.9 396.0,262.3 396.0,263.0 C396.0,263.8 394.8,264.9 394.1,265.1 C393.4,265.3 392.3,265.0 391.8,264.4 C391.3,263.8 390.9,262.2 391.3,261.6Z" stroke="#555" stroke-width="0.7" fill="none"/>
<path d="M394.8,265.1 L396.0,280.2" stroke="#666" stroke-width="0.7" fill="none"/>
<path d="M397.9,262.8 L398.8,279.1" stroke="#777" stroke-width="0.7" fill="none"/>
<path d="M322.7,258.1 L330.9,261.6 L340.2,260.5" stroke="#7d7d7d" stroke-width="0.6" fill="none"/>
<path d="M330.9,264.0 L333.2,265.6" stroke="#555" stroke-width="0.7" fill="none"/>
<path d="M335.5,261.6 L337.9,265.1" stroke="#666" stroke-width="0.7" fill="none"/>
<path d="M340.2,254.7 L340.7,262.8" stroke="#7d7d7d" stroke-width="0.6" fill="none"/>
<path d="M336.7,262.8 L342.5,265.1" stroke="#7d7d7d" stroke-width="0.6" fill="none"/>
<path d="M377.6,309.3 C378.1,308.4 379.8,307.9 380.9,308.1 C381.9,308.3 383.5,309.3 383.9,310.5 C384.3,311.6 384.1,314.1 383.4,315.1 C382.8,316.1 380.9,316.5 380.0,316.3 C379.0,316.0 378.2,314.9 377.9,313.7 C377.5,312.6 377.1,310.2 377.6,309.3Z" stroke="#555" stroke-width="0.7" fill="none"/>
<ellipse cx="380.9" cy="312.3" rx="1.9" ry="2.3" stroke="#626262" stroke-width="0.9" fill="none"/>
<path d="M358.8,294.2 L362.3,293.0 L363.4,295.3 L360.7,296.5Z" stroke="#7d7d7d" stroke-width="0.6" fill="none"/>
<ellipse cx="370.0" cy="296.0" rx="1.6" ry="1.6" stroke="#666" stroke-width="0.7" fill="none"/>
<path d="M339.3,274.0 L340.7,275.1" stroke="#666" stroke-width="0.7" fill="none"/>
<path d="M404.1,296.5 L407.6,298.8 L410.0,296.5" stroke="#555" stroke-width="0.7" fill="none"/>
<path d="M400.7,301.2 L412.3,296.5" stroke="#666" stroke-width="0.7" fill="none"/>
<path d="M404.1,288.4 L416.0,283.7" stroke="#7d7d7d" stroke-width="0.6" fill="none"/>
<path d="M404.1,291.9 L416.0,287.2" stroke="#7d7d7d" stroke-width="0.6" fill="none"/>
<ellipse cx="191.9" cy="188.6" rx="86.6" ry="86.6" stroke="#666" stroke-width="0.7" fill="none"/>
<path d="M191.4,84.2 L191.4,102.2" stroke="#555" stroke-width="0.7" fill="none"/>
<path d="M238.4,150.3 L188.2,202.5 L159.4,222.9 L155.0,228.3" stroke="#2c2c2c" stroke-width="0.85" fill="none"/>
<path d="M240.8,152.7 L190.6,204.9 L160.8,225.3 L157.7,230.3" stroke="#2c2c2c" stroke-width="0.85" fill="none"/>
<path d="M188.2,202.5 L190.6,204.9" stroke="#2c2c2c" stroke-width="0.85" fill="none"/>
<path d="M241.4,144.9 L247.9,140.5 L252.3,142.5 L253.0,145.6 L246.2,150.3 L241.8,148.0Z" stroke="#111111" stroke-width="0.9" fill="#aaa"/>
<path d="M242.8,144.2 L248.2,140.8 L251.6,142.5 L246.2,146.3Z" stroke="#111111" stroke-width="0.8" fill="#333"/>
<path d="M246.2,146.6 L246.5,150.0" stroke="#2c2c2c" stroke-width="0.85" fill="none"/>
<path d="M252.3,143.6 L252.6,145.9" stroke="#2c2c2c" stroke-width="0.85" fill="none"/>
<path d="M231.9,160.2 C232.4,160.8 233.0,162.8 234.7,163.9 C236.4,165.0 239.2,166.0 242.1,166.9 C245.0,167.9 250.3,169.2 251.9,169.7" stroke="#2c2c2c" stroke-width="0.85" fill="none"/>
<path d="M251.9,168.6 L255.3,170.0 L257.0,172.0 L255.3,173.1 L252.6,171.4Z" stroke="#111111" stroke-width="0.5" fill="#555"/>
<path d="M148.2,187.3 C148.0,187.5 146.5,187.4 146.9,188.6 C147.2,189.9 150.1,190.4 150.3,194.7 C150.4,199.1 147.7,209.2 147.9,214.7 C148.1,220.3 150.1,225.5 151.3,228.3 C152.5,231.1 154.4,231.1 155.0,231.7" stroke="#2c2c2c" stroke-width="0.85" fill="none"/>
<path d="M151.3,187.3 C151.9,188.4 154.7,189.7 155.0,193.7 C155.3,197.8 152.7,206.5 153.0,211.7 C153.2,216.9 155.5,222.1 156.7,224.9 C157.9,227.7 158.8,227.3 160.1,228.6 C161.4,229.9 163.8,232.0 164.5,232.7" stroke="#2c2c2c" stroke-width="0.85" fill="none"/>
<path d="M155.7,144.2 C155.8,146.7 156.1,154.9 156.4,158.8 C156.6,162.7 157.2,166.2 157.4,167.6" stroke="#2c2c2c" stroke-width="0.85" fill="none"/>
<path d="M155.7,144.2 C156.0,144.1 157.0,142.8 157.7,143.6 C158.4,144.4 160.1,146.4 160.1,149.0 C160.1,151.6 158.1,157.5 157.7,159.2" stroke="#2c2c2c" stroke-width="0.85" fill="none"/>
<path d="M159.7,152.4 C160.2,151.6 161.2,148.9 162.5,148.0 C163.7,147.1 166.4,147.1 167.2,146.9" stroke="#2c2c2c" stroke-width="0.85" fill="none"/>
<path d="M166.9,146.9 L169.2,146.6 L170.6,148.6 L169.2,150.7 L167.2,149.7Z" stroke="#111111" stroke-width="0.4" fill="#333"/>
<path d="M138.4,160.5 C137.4,161.5 133.4,164.6 132.6,166.6 C131.8,168.6 132.8,170.6 133.6,172.7 C134.5,174.9 137.1,177.3 137.7,179.5 C138.3,181.7 137.1,184.9 137.0,185.9" stroke="#2c2c2c" stroke-width="0.85" fill="none"/>
<path d="M153.3,168.6 L156.7,166.9 L159.4,168.6 L158.7,171.0 L155.3,171.7Z" stroke="#111111" stroke-width="0.4" fill="#222"/>
<path d="M162.5,170.7 L165.5,169.7 L166.5,171.7 L164.5,173.4 L162.8,172.7Z" stroke="#111111" stroke-width="0.4" fill="#222"/>
<path d="M153.6,177.1 L156.7,176.1 L157.7,178.1 L155.3,179.5Z" stroke="#111111" stroke-width="0.4" fill="#222"/>
<path d="M144.8,181.5 L147.2,180.2 L148.6,182.2 L146.5,183.9Z" stroke="#111111" stroke-width="0.4" fill="#222"/>
<path d="M140.4,187.3 L142.8,186.3 L144.2,188.6 L142.1,190.0Z" stroke="#111111" stroke-width="0.4" fill="#222"/>
<path d="M157.4,171.4 L160.4,174.4 L163.8,172.7" stroke="#2c2c2c" stroke-width="0.85" fill="none"/>
<path d="M138.7,182.5 L153.3,175.8 L160.1,179.2" stroke="#2c2c2c" stroke-width="0.85" fill="none"/>
<path d="M139.7,184.6 L153.6,178.1" stroke="#2c2c2c" stroke-width="0.85" fill="none"/>
<path d="M137.0,185.9 L140.4,187.6" stroke="#2c2c2c" stroke-width="0.85" fill="none"/>
<ellipse cx="155.7" cy="180.8" rx="3.7" ry="3.7" stroke="#2c2c2c" stroke-width="0.85" fill="none"/>
<path d="M160.1,179.5 L157.7,184.6" stroke="#2c2c2c" stroke-width="0.85" fill="none"/>
<path d="M160.1,181.9 C161.9,181.8 168.7,181.1 170.9,181.5 C173.2,181.9 170.8,180.8 173.6,184.2 C176.5,187.7 185.5,199.2 187.9,202.2" stroke="#2c2c2c" stroke-width="0.85" fill="none"/>
<path d="M160.8,183.9 C162.3,183.8 167.9,183.2 169.9,183.6 C171.9,184.0 169.9,183.1 172.6,186.3 C175.3,189.5 183.9,200.1 186.2,202.9" stroke="#2c2c2c" stroke-width="0.85" fill="none"/>
<path d="M165.8,182.5 C165.6,183.7 165.0,187.1 164.2,189.3 C163.3,191.6 161.5,194.4 160.8,196.1 C160.0,197.8 159.9,198.9 159.7,199.5" stroke="#2c2c2c" stroke-width="0.85" fill="none"/>
<path d="M160.1,199.5 L163.1,198.8 L165.2,201.9 L163.8,204.6 L161.1,203.6Z" stroke="#111111" stroke-width="0.4" fill="#333"/>
<path d="M164.5,202.5 C165.3,202.0 167.6,200.2 169.2,199.5 C170.9,198.8 173.5,198.4 174.3,198.1" stroke="#2c2c2c" stroke-width="0.85" fill="none"/>
<path d="M173.6,197.5 L175.7,197.5 L175.3,199.2Z" stroke="#111111" stroke-width="0.4" fill="#333"/>
<path d="M123.5,188.6 L125.5,187.6 L126.9,189.3 L125.5,191.0 L123.8,190.7Z" stroke="#111111" stroke-width="0.4" fill="#222"/>
<path d="M125.8,191.0 C126.4,191.5 127.7,193.2 129.2,194.1 C130.8,195.0 133.2,195.8 135.3,196.4 C137.5,197.1 140.7,198.9 142.1,197.8 C143.5,196.7 143.5,191.0 143.8,189.7" stroke="#2c2c2c" stroke-width="0.85" fill="none"/>
<path d="M128.6,193.1 L130.6,192.7 L131.3,194.7 L129.2,195.4Z" stroke="#111111" stroke-width="0.4" fill="#333"/>
<path d="M187.9,203.2 C185.1,203.8 175.7,205.0 171.3,206.9 C166.8,208.9 163.4,212.3 161.1,214.7 C158.8,217.2 158.3,220.4 157.7,221.5" stroke="#2c2c2c" stroke-width="0.85" fill="none"/>
<path d="M189.2,205.3 C186.4,205.9 176.4,207.4 171.9,209.3 C167.5,211.2 164.5,214.4 162.5,216.8 C160.4,219.2 159.9,222.4 159.4,223.6" stroke="#2c2c2c" stroke-width="0.85" fill="none"/>
<ellipse cx="189.6" cy="203.6" rx="1.2" ry="1.0" stroke="#2c2c2c" stroke-width="0.85" fill="#888"/>
<path d="M203.8,222.5 C204.5,222.2 206.8,219.9 207.9,220.5 C209.0,221.1 210.0,222.9 210.3,225.9 C210.5,228.9 210.4,234.7 209.2,238.5 C208.1,242.3 206.4,245.8 203.1,248.6 C199.9,251.5 191.8,254.6 189.6,255.8" stroke="#2c2c2c" stroke-width="0.85" fill="none"/>
<path d="M205.5,224.2 C205.9,224.0 207.4,222.5 207.9,222.9 C208.4,223.3 208.6,224.1 208.6,226.6 C208.5,229.1 208.7,234.4 207.5,237.8 C206.4,241.2 204.9,244.6 201.8,247.3 C198.7,250.0 191.0,252.9 188.9,254.1" stroke="#2c2c2c" stroke-width="0.85" fill="none"/>
<path d="M200.4,224.2 L203.5,222.9 L203.1,224.9Z" stroke="#111111" stroke-width="0.4" fill="#333"/>
<path d="M182.1,255.1 L189.2,253.1 L190.6,256.8 L183.5,259.5Z" stroke="#111111" stroke-width="1" fill="#fff"/>
<path d="M178.7,252.0 L182.5,250.7 L185.2,256.1 L181.4,258.1 L178.7,256.1Z" stroke="#111111" stroke-width="1" fill="#fff"/>
<path d="M178.7,252.0 L181.4,254.4 L181.4,258.1" stroke="#2c2c2c" stroke-width="0.85" fill="none"/>
<path d="M181.4,254.4 L184.8,252.7" stroke="#2c2c2c" stroke-width="0.85" fill="none"/>
<path d="M210.9,230.3 L226.0,230.3" stroke="#999" stroke-width="0.8" fill="none"/>
<path d="M603.3,132.4 L603.3,151.2" stroke="#b0b0b0" stroke-width="0.9" fill="none"/>
<path d="M628.2,147.3 L628.2,166.6" stroke="#333" stroke-width="0.9" fill="none"/>
<path d="M583.1,162.3 L603.1,151.5 L604.8,154.0 L584.8,164.7Z" stroke="#777" stroke-width="0.6" fill="#ececec"/>
<path d="M584.8,163.2 L603.3,153.0" stroke="#999" stroke-width="1.1" fill="none" stroke-dasharray="1,0.9" style="stroke-linecap:butt"/>
<path d="M625.6,167.7 L629.6,166.5 L631.1,168.0 L630.8,171.7 L626.8,172.9 L625.3,171.1Z" stroke="#222" stroke-width="0.9" fill="#fff"/>
<path d="M626.2,167.4 L629.6,166.8 L630.2,168.6 L626.8,169.5Z" stroke="#111111" stroke-width="0.5" fill="#333"/>
<path d="M626.8,169.5 L626.8,172.9" stroke="#222" stroke-width="0.75" fill="none"/>
<path d="M616.6,172.3 C617.1,171.1 619.1,170.4 620.3,170.5 C621.6,170.6 623.3,172.0 624.0,172.9 C624.8,173.9 625.1,175.1 624.7,176.0 C624.2,176.9 622.7,177.9 621.6,178.2 C620.4,178.5 618.7,178.8 617.9,177.9 C617.1,176.9 616.2,173.6 616.6,172.3Z" stroke="#333" stroke-width="0.9" fill="#e8e8e8"/>
<path d="M624.0,173.6 L626.2,172.0" stroke="#333" stroke-width="0.75" fill="none"/>
<path d="M618.8,171.7 L621.3,177.6" stroke="#444" stroke-width="0.75" fill="none"/>
<path d="M620.3,171.1 L622.8,176.9" stroke="#444" stroke-width="0.75" fill="none"/>
<path d="M618.5,176.0 L594.2,190.2" stroke="#222" stroke-width="1.5" fill="none"/>
<path d="M619.1,177.2 L594.8,191.4" stroke="#444" stroke-width="0.9" fill="none"/>
<path d="M654.5,162.3 L654.5,181.6" stroke="#999" stroke-width="0.8" fill="none"/>
<path d="M651.1,183.1 L654.8,181.6 L657.3,183.1 L657.3,186.2 L653.9,188.0 L651.1,186.5Z" stroke="#333" stroke-width="0.9" fill="#fff"/>
<path d="M652.1,183.1 L655.1,182.5 L656.4,184.0 L653.3,184.9Z" stroke="#333" stroke-width="0.75" fill="#bbb"/>
<path d="M653.3,184.9 L653.6,188.0" stroke="#333" stroke-width="0.75" fill="none"/>
<path d="M651.5,186.2 C650.3,186.7 647.9,187.7 644.7,189.3 C641.5,190.8 634.4,194.6 632.4,195.7" stroke="#333" stroke-width="0.7" fill="none"/>
<path d="M653.0,188.3 C651.8,188.8 648.9,189.8 645.6,191.4 C642.3,193.0 635.3,196.8 633.3,197.9" stroke="#333" stroke-width="0.7" fill="none"/>
<path d="M625.3,196.6 C625.7,195.6 627.5,195.1 628.7,195.1 C629.8,195.2 631.4,196.1 632.0,197.0 C632.7,197.8 633.0,199.5 632.7,200.3 C632.4,201.2 631.3,202.0 630.2,202.2 C629.1,202.3 627.0,202.2 626.2,201.3 C625.4,200.3 624.9,197.7 625.3,196.6Z" stroke="#333" stroke-width="0.9" fill="#eee"/>
<path d="M627.7,195.7 L629.6,201.9" stroke="#444" stroke-width="0.75" fill="none"/>
<path d="M627.4,201.9 L629.6,202.2 L629.3,205.0 L628.0,205.6Z" stroke="#333" stroke-width="0.7" fill="#ccc"/>
<path d="M625.6,198.8 L601.6,212.0" stroke="#333" stroke-width="0.7" fill="none"/>
<path d="M626.5,201.0 L602.8,213.9" stroke="#333" stroke-width="0.7" fill="none"/>
<path d="M602.2,213.0 L587.7,220.4" stroke="#333" stroke-width="1.6" fill="none"/>
<path d="M682.7,178.2 L682.7,197.7" stroke="#333" stroke-width="0.9" fill="none"/>
<path d="M678.6,199.1 L682.2,197.6 L685.3,199.1 L685.3,201.9 L681.9,204.0 L678.9,202.2Z" stroke="#333" stroke-width="0.9" fill="#fff"/>
<path d="M679.5,199.1 L682.6,198.5 L684.4,200.0 L681.3,201.0Z" stroke="#333" stroke-width="0.75" fill="#bbb"/>
<path d="M681.3,201.0 L681.6,204.0" stroke="#333" stroke-width="0.75" fill="none"/>
<path d="M679.2,202.2 C677.5,202.8 673.0,204.3 669.3,205.9 C665.6,207.5 661.6,209.2 657.0,211.7 C652.4,214.3 646.7,218.0 641.6,221.0 C636.5,224.0 628.8,228.2 626.2,229.6" stroke="#333" stroke-width="0.7" fill="none"/>
<path d="M680.7,204.0 C679.1,204.7 674.6,206.4 670.9,208.0 C667.1,209.7 662.9,211.4 658.2,213.9 C653.6,216.4 648.0,220.2 642.8,223.1 C637.6,226.1 629.7,230.1 627.1,231.5" stroke="#333" stroke-width="0.7" fill="none"/>
<path d="M626.5,230.5 L615.7,236.1" stroke="#333" stroke-width="1.6" fill="none"/>
<path d="M710.6,194.2 L710.6,213.9" stroke="#999" stroke-width="0.8" fill="none"/>
<path d="M706.3,215.7 L710.3,213.9 L714.6,215.7 L714.6,218.8 L710.6,221.3 L706.6,219.4Z" stroke="#333" stroke-width="0.9" fill="#fff"/>
<path d="M707.5,215.7 L710.9,214.8 L713.0,216.7 L709.7,217.9Z" stroke="#333" stroke-width="0.75" fill="#bbb"/>
<path d="M709.7,217.9 L710.0,221.3" stroke="#333" stroke-width="0.75" fill="none"/>
<path d="M706.9,219.4 C705.2,220.1 700.7,221.7 697.0,223.4 C693.3,225.1 689.8,226.7 684.7,229.6 C679.6,232.5 673.8,236.6 666.2,240.7 C658.6,244.8 645.0,251.3 639.1,254.2 C633.2,257.2 632.2,257.8 630.8,258.6" stroke="#333" stroke-width="0.7" fill="none"/>
<path d="M708.7,221.3 C707.0,222.1 702.3,224.1 698.6,225.9 C694.8,227.7 691.4,229.2 686.3,232.1 C681.1,234.9 675.3,239.0 667.8,243.2 C660.2,247.3 647.0,253.8 641.0,256.7 C634.9,259.6 633.0,259.8 631.4,260.4" stroke="#333" stroke-width="0.7" fill="none"/>
<path d="M631.4,259.2 L628.7,260.4" stroke="#333" stroke-width="1.6" fill="none"/>
<path d="M798.0,18.1 L1022.8,18.1 L1022.8,222.4 L798.0,222.4Z" stroke="#7c7c7c" stroke-width="1.1" fill="none" stroke-dasharray="3.2,2.3" style="stroke-linecap:butt"/>
<path d="M909.7,41.2 L922.8,41.2" stroke="#999" stroke-width="0.8" fill="none"/>
<path d="M888.9,30.8 L893.6,29.2 L910.5,40.8 L909.7,44.6 L905.5,46.6 L890.1,36.9Z" stroke="#333" stroke-width="0.8" fill="#fff"/>
<path d="M892.8,33.9 L906.7,42.7 L906.7,46.6 L893.6,38.5Z" stroke="#111111" stroke-width="0.5" fill="#333"/>
<path d="M894.7,36.2 L905.9,43.9" stroke="#bbb" stroke-width="0.6" fill="none" stroke-dasharray="1,1" style="stroke-linecap:butt"/>
<path d="M893.6,29.2 L894.3,34.6" stroke="#333" stroke-width="0.75" fill="none"/>
<path d="M898.2,45.0 L898.2,48.5" stroke="#333" stroke-width="1.2" fill="none"/>
<path d="M903.6,47.0 L903.6,50.4" stroke="#333" stroke-width="1.2" fill="none"/>
<path d="M898.4,48.5 L898.4,133.2" stroke="#777" stroke-width="0.6" fill="none"/>
<path d="M900.3,48.5 L900.3,133.2" stroke="#999" stroke-width="0.6" fill="none"/>
<path d="M903.6,50.4 L903.6,135.1" stroke="#444" stroke-width="0.7" fill="none" stroke-dasharray="2,1" style="stroke-linecap:butt"/>
<path d="M863.5,161.2 L863.5,179.9" stroke="#333" stroke-width="0.75" fill="none"/>
<path d="M812.7,157.7 L815.4,155.8 L818.9,157.0 L822.0,160.1 L820.8,163.1 L817.7,162.8 L814.3,160.8Z" stroke="#111111" stroke-width="0.7" fill="#444"/>
<path d="M814.6,157.0 L818.9,161.2" stroke="#ccc" stroke-width="0.6" fill="none"/>
<path d="M816.6,156.2 L820.4,160.4" stroke="#ccc" stroke-width="0.6" fill="none"/>
<path d="M822.0,161.6 C824.3,162.9 831.6,167.0 836.2,169.7 C840.8,172.4 846.1,175.8 849.7,178.0 C853.2,180.1 855.1,182.1 857.4,182.8 C859.6,183.4 862.2,182.1 863.1,182.0" stroke="#444" stroke-width="0.9" fill="none"/>
<path d="M822.3,160.4 C824.8,161.8 832.3,165.8 837.0,168.5 C841.6,171.2 847.9,175.3 850.1,176.6" stroke="#666" stroke-width="0.6" fill="none"/>
<path d="M863.9,178.9 L867.0,177.8 L868.9,179.7 L867.8,182.4 L864.7,182.8Z" stroke="#111111" stroke-width="0.7" fill="#222"/>
<path d="M868.9,179.3 L933.4,141.4 L944.0,146.2" stroke="#444" stroke-width="0.7" fill="none"/>
<path d="M869.3,178.5 L872.8,176.6" stroke="#333" stroke-width="1.4" fill="none"/>
<ellipse cx="888.1" cy="84.4" rx="9.5" ry="7.9" transform="rotate(-10 888.1 84.4)" stroke="#7d7d7d" stroke-width="0.6" fill="none"/>
<ellipse cx="888.8" cy="85.1" rx="6.2" ry="4.6" transform="rotate(-10 888.8 85.1)" stroke="#7d7d7d" stroke-width="0.6" fill="none"/>
<path d="M879.0,86.4 C878.9,87.2 877.4,89.9 878.3,91.3 C879.3,92.6 881.9,94.3 884.5,94.5 C887.2,94.8 892.1,93.7 894.4,92.9 C896.6,92.1 897.4,90.2 898.0,89.6" stroke="#7d7d7d" stroke-width="0.6" fill="none"/>
<path d="M881.6,92.9 L884.5,99.8" stroke="#7d7d7d" stroke-width="0.6" fill="none"/>
<path d="M895.0,92.9 L893.7,97.5" stroke="#7d7d7d" stroke-width="0.6" fill="none"/>
<path d="M884.5,99.8 L893.7,97.5" stroke="#7d7d7d" stroke-width="0.6" fill="none"/>
<path d="M884.5,99.8 C883.2,101.4 878.5,105.5 876.4,109.3 C874.2,113.0 872.2,118.0 871.8,122.4 C871.3,126.7 871.9,131.8 873.7,135.4 C875.6,139.0 881.4,142.5 882.9,144.0" stroke="#7d7d7d" stroke-width="0.6" fill="none"/>
<path d="M888.1,101.1 C886.9,102.7 882.5,107.1 880.6,110.9 C878.8,114.7 877.3,119.6 877.0,124.0 C876.7,128.4 877.5,133.8 879.0,137.1 C880.5,140.4 885.0,142.8 886.2,144.0" stroke="#7d7d7d" stroke-width="0.6" fill="none"/>
<path d="M892.1,102.7 C890.8,104.6 886.1,110.1 884.5,114.2 C883.0,118.3 882.9,123.2 882.9,127.3 C883.0,131.4 883.3,135.7 884.9,138.7 C886.4,141.7 890.9,144.2 892.1,145.3" stroke="#7d7d7d" stroke-width="0.6" fill="none"/>
<path d="M896.0,105.2 C894.8,106.9 890.6,111.9 889.1,115.8 C887.7,119.8 887.1,124.8 887.2,128.9 C887.2,133.0 889.1,138.4 889.5,140.4" stroke="#7d7d7d" stroke-width="0.6" fill="none"/>
<path d="M869.8,125.3 L873.1,124.0 L876.4,127.3 L872.4,128.9Z" stroke="#7d7d7d" stroke-width="0.6" fill="none"/>
<path d="M872.4,128.9 L897.6,142.0" stroke="#7d7d7d" stroke-width="0.6" fill="none"/>
<path d="M869.8,125.3 L899.3,138.7" stroke="#7d7d7d" stroke-width="0.6" fill="none"/>
<path d="M874.4,121.0 C874.7,120.2 875.7,119.1 876.4,119.1 C877.0,119.1 878.2,120.2 878.3,121.0 C878.4,121.9 877.6,123.5 877.0,124.0 C876.4,124.5 875.2,124.5 874.7,124.0 C874.3,123.5 874.1,121.9 874.4,121.0Z" stroke="#7d7d7d" stroke-width="0.6" fill="none"/>
<path d="M882.9,144.0 L897.6,151.8" stroke="#7d7d7d" stroke-width="0.6" fill="none"/>
<path d="M882.9,137.1 L887.8,142.0 L884.5,146.9 L880.6,142.0Z" stroke="#7d7d7d" stroke-width="0.6" fill="none"/>
<path d="M883.9,138.7 L887.2,142.0" stroke="#555" stroke-width="1" fill="none"/>
<path d="M905.8,93.9 C907.4,94.3 912.4,94.7 915.6,96.2 C918.9,97.7 923.8,101.6 925.4,102.7" stroke="#7d7d7d" stroke-width="0.6" fill="none"/>
<path d="M905.8,93.9 C906.4,94.5 907.7,96.9 909.1,97.8 C910.4,98.7 913.2,99.2 914.0,99.5" stroke="#7d7d7d" stroke-width="0.6" fill="none"/>
<path d="M907.4,96.2 C908.5,95.9 912.1,94.1 914.0,94.5 C915.9,95.0 918.1,98.0 918.9,98.6" stroke="#7d7d7d" stroke-width="0.6" fill="none"/>
<path d="M925.4,102.7 L936.9,110.9 L951.6,122.7" stroke="#7d7d7d" stroke-width="0.6" fill="none"/>
<path d="M922.2,102.7 L928.7,101.1 L932.0,105.2 L925.4,107.3Z" stroke="#7d7d7d" stroke-width="0.6" fill="none"/>
<path d="M932.0,105.2 L941.8,111.7" stroke="#7d7d7d" stroke-width="0.6" fill="none"/>
<path d="M930.4,108.0 L933.6,110.2" stroke="#555" stroke-width="1.2" fill="none"/>
<path d="M917.3,112.9 C917.9,112.5 919.9,110.7 920.9,110.9 C921.8,111.1 923.2,112.0 922.8,114.2 C922.5,116.4 920.4,120.7 918.9,124.0 C917.4,127.3 915.6,131.4 914.0,133.8 C912.4,136.3 909.9,137.9 909.1,138.7" stroke="#7d7d7d" stroke-width="0.6" fill="none"/>
<path d="M918.9,114.2 C919.3,114.0 920.7,112.6 921.2,112.9 C921.7,113.1 922.3,114.0 921.8,115.8 C921.4,117.7 918.8,122.6 918.2,124.0" stroke="#7d7d7d" stroke-width="0.6" fill="none"/>
<path d="M907.4,110.9 C908.5,109.3 911.0,107.6 912.4,107.6 C913.7,107.6 915.9,109.0 915.6,110.9 C915.4,112.8 912.4,118.0 910.7,119.1 C909.1,120.2 906.4,118.8 905.8,117.4 C905.3,116.1 906.4,112.5 907.4,110.9Z" stroke="#7d7d7d" stroke-width="0.6" fill="none"/>
<path d="M899.3,135.4 L909.1,132.2" stroke="#7d7d7d" stroke-width="0.6" fill="none"/>
<path d="M892.1,145.3 L907.4,151.8" stroke="#7d7d7d" stroke-width="0.6" fill="none"/>
<path d="M910.7,142.0 L922.2,136.3 L927.1,139.5 L915.6,146.1Z" stroke="#7d7d7d" stroke-width="0.6" fill="none"/>
<path d="M914.0,147.7 L928.7,140.4" stroke="#7d7d7d" stroke-width="0.6" fill="none"/>
<path d="M951.6,122.7 C950.0,124.3 944.5,128.1 941.8,132.2 C939.1,136.2 936.6,142.0 935.6,146.9 C934.6,151.8 935.1,157.6 935.6,161.6 C936.1,165.7 938.0,169.5 938.5,171.1" stroke="#7d7d7d" stroke-width="0.6" fill="none"/>
<path d="M956.5,125.6 C954.9,127.3 949.4,131.4 946.7,135.4 C944.0,139.5 941.5,145.3 940.5,150.2 C939.5,155.1 940.8,162.4 940.8,164.9" stroke="#7d7d7d" stroke-width="0.6" fill="none"/>
<path d="M960.1,127.6 C958.6,129.2 953.5,133.0 951.0,137.1 C948.5,141.1 946.1,146.6 945.1,151.8 C944.1,157.0 945.1,165.4 945.1,168.2" stroke="#7d7d7d" stroke-width="0.6" fill="none"/>
<path d="M936.9,135.4 L951.6,125.6" stroke="#555" stroke-width="0.6" fill="none"/>
<path d="M937.9,136.8 L952.6,126.9" stroke="#555" stroke-width="0.6" fill="none"/>
<path d="M936.6,135.1 L938.5,137.1" stroke="#444" stroke-width="1.2" fill="none"/>
<path d="M945.1,128.9 L951.6,124.0 L954.9,126.4" stroke="#7d7d7d" stroke-width="0.6" fill="none"/>
<path d="M932.0,142.0 L941.8,146.6" stroke="#7d7d7d" stroke-width="0.6" fill="none"/>
<path d="M941.8,146.6 L945.1,146.9" stroke="#7d7d7d" stroke-width="0.6" fill="none"/>
<ellipse cx="940.5" cy="159.7" rx="2.0" ry="2.3" stroke="#7d7d7d" stroke-width="0.6" fill="none"/>
<ellipse cx="944.4" cy="148.5" rx="1.3" ry="1.6" stroke="#7d7d7d" stroke-width="0.6" fill="none"/>
<path d="M951.6,122.7 L964.7,125.6 L995.8,142.0" stroke="#7d7d7d" stroke-width="0.6" fill="none"/>
<path d="M964.7,127.3 C963.3,129.2 958.5,134.1 956.5,138.7 C954.5,143.4 953.2,149.7 952.6,155.1 C952.1,160.5 953.2,168.4 953.3,171.1" stroke="#7d7d7d" stroke-width="0.6" fill="none"/>
<path d="M974.5,134.1 C973.2,136.0 968.4,140.7 966.3,145.3 C964.3,149.8 963.0,157.3 962.4,161.6 C961.9,165.9 963.0,169.5 963.1,171.1" stroke="#7d7d7d" stroke-width="0.6" fill="none"/>
<path d="M981.1,138.7 C979.7,140.4 974.9,144.2 972.9,148.5 C970.9,152.9 969.6,162.2 969.0,164.9" stroke="#7d7d7d" stroke-width="0.6" fill="none"/>
<path d="M968.0,142.0 C968.6,140.9 971.0,140.0 971.9,140.4 C972.8,140.7 973.4,142.6 973.2,144.0 C973.0,145.3 971.5,148.0 970.6,148.5 C969.7,149.0 968.4,148.0 968.0,146.9 C967.5,145.8 967.3,143.1 968.0,142.0Z" stroke="#7d7d7d" stroke-width="0.6" fill="none"/>
<path d="M954.9,138.7 C955.8,137.6 958.5,136.5 959.8,137.1 C961.1,137.6 962.7,140.4 962.4,142.0 C962.1,143.6 959.5,146.6 958.2,146.9 C956.9,147.2 955.1,145.3 954.6,144.0 C954.0,142.6 954.0,139.9 954.9,138.7Z" stroke="#7d7d7d" stroke-width="0.6" fill="none"/>
<path d="M974.5,132.2 L977.8,130.9 L981.1,133.8 L978.5,135.8Z" stroke="#7d7d7d" stroke-width="0.6" fill="none"/>
<path d="M984.3,137.1 L987.6,135.8 L990.9,138.7 L988.3,140.7Z" stroke="#7d7d7d" stroke-width="0.6" fill="none"/>
<path d="M958.2,148.5 C959.3,148.3 963.1,146.4 964.7,146.9 C966.3,147.4 967.4,151.0 968.0,151.8" stroke="#7d7d7d" stroke-width="0.6" fill="none"/>
<path d="M995.8,142.0 C997.4,143.6 1003.3,148.3 1005.6,151.8 C1007.9,155.4 1008.9,159.4 1009.5,163.3 C1010.1,167.1 1009.3,172.8 1009.2,174.7" stroke="#7d7d7d" stroke-width="0.6" fill="none"/>
<path d="M990.9,146.9 C992.5,148.3 998.4,151.5 1000.7,155.1 C1003.0,158.6 1004.0,166.0 1004.6,168.2" stroke="#7d7d7d" stroke-width="0.6" fill="none"/>
<path d="M892.7,151.8 C892.4,152.9 891.1,155.6 891.1,158.4 C891.1,161.1 892.4,166.5 892.7,168.2" stroke="#7d7d7d" stroke-width="0.6" fill="none"/>
<path d="M907.4,151.8 L909.1,161.6 L930.4,171.1" stroke="#7d7d7d" stroke-width="0.6" fill="none"/>
<path d="M915.6,151.8 L930.4,158.4 L930.4,151.8" stroke="#7d7d7d" stroke-width="0.6" fill="none"/>
<path d="M917.3,155.1 L928.7,160.3" stroke="#7d7d7d" stroke-width="0.6" fill="none"/>
<path d="M920.5,151.8 L928.7,155.7" stroke="#555" stroke-width="1.4" fill="none" stroke-dasharray="1,1" style="stroke-linecap:butt"/>
<path d="M917.3,158.4 L925.4,162.0" stroke="#555" stroke-width="1.4" fill="none" stroke-dasharray="1,1" style="stroke-linecap:butt"/>
<path d="M932.0,158.4 L936.9,159.7" stroke="#7d7d7d" stroke-width="0.6" fill="none"/>
<path d="M976.9,149.2 C978.6,148.8 983.4,146.5 986.6,146.3 C989.9,146.1 993.1,146.4 996.3,147.9 C999.6,149.5 1003.7,152.5 1006.0,155.7 C1008.3,158.9 1009.8,163.0 1010.2,167.0 C1010.7,171.0 1010.4,175.9 1008.6,179.9 C1006.8,184.0 1003.2,188.6 999.6,191.2 C995.9,193.9 989.9,195.4 986.6,196.1 C983.4,196.8 981.3,195.6 980.2,195.4" stroke="#7d7d7d" stroke-width="0.6" fill="none"/>
<path d="M983.4,154.1 C985.0,153.8 989.9,151.7 993.1,152.5 C996.3,153.3 1000.5,156.0 1002.8,158.9 C1005.1,161.9 1006.4,166.5 1006.7,170.2 C1006.9,174.0 1006.1,178.3 1004.4,181.6 C1002.7,184.8 997.7,188.3 996.3,189.6" stroke="#7d7d7d" stroke-width="0.6" fill="none"/>
<ellipse cx="995.7" cy="176.1" rx="11.3" ry="15.5" transform="rotate(18 995.7 176.1)" stroke="#7d7d7d" stroke-width="0.6" fill="none"/>
<path d="M951.1,205.8 L980.2,195.4" stroke="#7d7d7d" stroke-width="0.6" fill="none"/>
<path d="M955.9,199.3 L970.5,189.6" stroke="#7d7d7d" stroke-width="0.6" fill="none"/>
<path d="M925.2,184.1 C926.4,182.1 930.5,181.9 933.3,181.6 C936.1,181.2 939.1,179.7 942.0,181.9 C945.0,184.0 949.8,190.5 951.1,194.5 C952.4,198.5 951.3,204.0 949.8,205.8 C948.3,207.6 945.1,205.7 942.0,205.1 C939.0,204.6 934.3,204.5 931.7,202.6 C929.1,200.6 927.6,196.6 926.5,193.5 C925.5,190.4 924.1,186.1 925.2,184.1Z" stroke="#7d7d7d" stroke-width="0.6" fill="none"/>
<path d="M927.8,185.1 C930.0,183.5 937.6,181.8 941.1,183.5 C944.6,185.2 947.7,192.1 948.8,195.4 C950.0,198.8 950.4,202.6 947.9,203.5 C945.3,204.4 936.6,202.7 933.3,200.9 C930.0,199.2 929.1,195.5 928.1,192.9 C927.2,190.2 925.7,186.7 927.8,185.1Z" stroke="#7d7d7d" stroke-width="0.6" fill="none"/>
<ellipse cx="935.9" cy="194.5" rx="5.5" ry="7.8" transform="rotate(-15 935.9 194.5)" stroke="#7d7d7d" stroke-width="0.6" fill="none"/>
<ellipse cx="935.9" cy="194.5" rx="4.2" ry="6.1" transform="rotate(-15 935.9 194.5)" stroke="#7d7d7d" stroke-width="0.6" fill="none"/>
<ellipse cx="927.8" cy="186.7" rx="1.0" ry="1.0" stroke="#7d7d7d" stroke-width="0.6" fill="none"/>
<ellipse cx="946.2" cy="202.2" rx="1.0" ry="1.0" stroke="#7d7d7d" stroke-width="0.6" fill="none"/>
<path d="M949.5,205.8 L951.1,208.4 L954.3,205.8 L953.7,197.7" stroke="#7d7d7d" stroke-width="0.6" fill="none"/>
<path d="M942.0,181.9 C942.7,181.3 944.5,179.5 946.2,178.3 C948.0,177.2 951.6,175.6 952.7,175.1" stroke="#7d7d7d" stroke-width="0.6" fill="none"/>
<path d="M951.1,194.5 C951.9,194.2 953.5,193.9 955.9,192.9 C958.4,191.8 964.0,189.1 965.6,188.3" stroke="#7d7d7d" stroke-width="0.6" fill="none"/>
<ellipse cx="950.4" cy="187.0" rx="4.5" ry="10.0" transform="rotate(-25 950.4 187.0)" stroke="#7d7d7d" stroke-width="0.6" fill="none"/>
<ellipse cx="953.0" cy="185.8" rx="4.5" ry="10.0" transform="rotate(-25 953.0 185.8)" stroke="#7d7d7d" stroke-width="0.6" fill="none"/>
<ellipse cx="959.2" cy="181.9" rx="4.8" ry="10.3" transform="rotate(-25 959.2 181.9)" stroke="#7d7d7d" stroke-width="0.6" fill="none"/>
<ellipse cx="961.8" cy="180.6" rx="4.8" ry="10.3" transform="rotate(-25 961.8 180.6)" stroke="#7d7d7d" stroke-width="0.6" fill="none"/>
<path d="M965.6,170.2 C966.7,170.0 970.3,168.1 972.1,168.6 C973.9,169.2 975.8,171.3 976.3,173.5 C976.8,175.6 976.3,179.4 975.3,181.6 C974.4,183.7 971.3,185.6 970.5,186.4" stroke="#7d7d7d" stroke-width="0.6" fill="none"/>
<path d="M964.0,171.9 L972.1,168.3" stroke="#7d7d7d" stroke-width="0.6" fill="none"/>
<path d="M967.3,188.3 L976.9,185.1" stroke="#7d7d7d" stroke-width="0.6" fill="none"/>
<path d="M934.9,146.0 C934.5,147.9 932.0,153.3 932.0,157.3 C932.1,161.4 933.2,167.2 935.3,170.2 C937.4,173.3 943.1,174.6 944.6,175.4" stroke="#7d7d7d" stroke-width="0.6" fill="none"/>
<path d="M938.2,147.6 C937.7,149.2 935.5,153.8 935.6,157.3 C935.6,160.8 936.7,165.9 938.5,168.6 C940.3,171.3 945.0,172.7 946.2,173.5" stroke="#7d7d7d" stroke-width="0.6" fill="none"/>
<path d="M947.9,147.6 C947.3,149.2 944.9,154.1 944.6,157.3 C944.4,160.5 945.2,164.4 946.2,167.0 C947.3,169.6 950.3,171.9 951.1,172.8" stroke="#7d7d7d" stroke-width="0.6" fill="none"/>
<ellipse cx="940.1" cy="159.3" rx="1.9" ry="2.6" stroke="#7d7d7d" stroke-width="0.6" fill="none"/>
<ellipse cx="944.3" cy="148.9" rx="1.3" ry="1.6" stroke="#7d7d7d" stroke-width="0.6" fill="none"/>
<path d="M936.6,141.2 L943.0,146.0" stroke="#7d7d7d" stroke-width="0.6" fill="none"/>
<path d="M941.4,171.9 L947.9,170.2 L949.5,173.5" stroke="#7d7d7d" stroke-width="0.6" fill="none"/>
<path d="M891.3,168.6 L902.6,178.6 L920.4,167.3" stroke="#b4b4b4" stroke-width="0.7" fill="none"/>
<path d="M891.3,168.6 L891.3,171.9 L902.6,181.9 L902.6,178.6" stroke="#b4b4b4" stroke-width="0.7" fill="none"/>
<path d="M902.6,181.9 L920.4,171.9" stroke="#b4b4b4" stroke-width="0.7" fill="none"/>
<path d="M896.2,165.4 L910.7,157.3" stroke="#b4b4b4" stroke-width="0.7" fill="none"/>
<path d="M910.7,157.3 L931.7,168.3" stroke="#b4b4b4" stroke-width="0.7" fill="none"/>
<path d="M912.3,154.1 L926.9,162.2" stroke="#b4b4b4" stroke-width="0.7" fill="none"/>
<path d="M918.8,152.5 L928.5,157.3" stroke="#555" stroke-width="1.5" fill="none" stroke-dasharray="1,1" style="stroke-linecap:butt"/>
<path d="M917.2,157.3 L923.6,160.9" stroke="#555" stroke-width="1.5" fill="none" stroke-dasharray="1,1" style="stroke-linecap:butt"/>
<path d="M899.4,139.5 L918.8,136.3 L926.9,141.2 L909.1,146.0Z" stroke="#b4b4b4" stroke-width="0.7" fill="none"/>
<path d="M931.7,141.2 L934.9,146.0" stroke="#b4b4b4" stroke-width="0.7" fill="none"/>
<path d="M892.9,154.1 C894.0,153.5 896.7,150.3 899.4,150.9 C902.1,151.4 907.5,156.2 909.1,157.3" stroke="#7d7d7d" stroke-width="0.6" fill="none"/>
<path d="M883.0,98.4 C881.7,99.9 877.2,103.6 875.3,107.4 C873.3,111.2 871.6,117.4 871.2,121.0 C870.8,124.6 872.5,127.8 872.8,129.1" stroke="#7d7d7d" stroke-width="0.6" fill="none"/>
<path d="M885.9,99.7 C884.7,101.2 880.4,105.0 878.7,108.5 C876.9,112.1 875.7,117.7 875.3,121.0 C874.9,124.2 876.2,126.8 876.4,128.0" stroke="#7d7d7d" stroke-width="0.6" fill="none"/>
<path d="M894.3,100.6 C893.1,102.3 889.2,107.0 887.5,110.8 C885.8,114.6 884.5,119.7 884.1,123.2 C883.7,126.8 885.0,130.8 885.2,132.3" stroke="#7d7d7d" stroke-width="0.6" fill="none"/>
<path d="M897.2,102.9 C896.1,104.4 892.1,108.5 890.4,111.9 C888.8,115.3 887.9,120.0 887.5,123.2 C887.1,126.5 888.1,129.8 888.2,131.2" stroke="#7d7d7d" stroke-width="0.6" fill="none"/>
<path d="M879.6,102.9 C878.6,104.8 875.1,110.4 873.9,114.2 C872.7,118.0 872.6,123.6 872.3,125.5" stroke="#7d7d7d" stroke-width="0.6" fill="none"/>
<path d="M884.8,105.4 L892.0,102.2" stroke="#555" stroke-width="0.8" fill="none"/>
<path d="M891.3,100.6 L893.4,104.2" stroke="#444" stroke-width="0.9" fill="none"/>
<path d="M884.1,106.3 L885.9,105.1" stroke="#333" stroke-width="0.9" fill="none"/>
<path d="M892.2,104.7 L895.6,103.3" stroke="#555" stroke-width="0.7" fill="none"/>
<path d="M873.9,121.0 C874.2,120.3 875.5,119.9 876.2,120.1 C876.8,120.3 877.7,121.6 877.8,122.3 C877.8,123.1 877.0,124.3 876.4,124.6 C875.8,124.9 874.8,124.8 874.4,124.2 C874.0,123.6 873.6,121.7 873.9,121.0Z" stroke="#7d7d7d" stroke-width="0.6" fill="none"/>
<path d="M874.8,121.9 L877.3,123.2" stroke="#555" stroke-width="0.8" fill="none"/>
<path d="M869.8,124.4 L899.9,141.3" stroke="#7d7d7d" stroke-width="0.6" fill="none"/>
<path d="M869.4,126.4 L898.8,143.4" stroke="#7d7d7d" stroke-width="0.6" fill="none"/>
<path d="M869.8,124.4 C869.7,124.5 868.8,124.9 868.7,125.3 C868.6,125.6 869.3,126.2 869.4,126.4" stroke="#7d7d7d" stroke-width="0.6" fill="none"/>
<path d="M883.0,134.6 C883.7,133.6 886.2,133.1 887.5,133.4 C888.8,133.8 890.5,135.5 890.9,136.8 C891.3,138.1 890.7,140.4 889.8,141.3 C888.8,142.3 886.4,142.9 885.2,142.5 C884.1,142.1 883.3,140.4 883.0,139.1 C882.6,137.8 882.2,135.5 883.0,134.6Z" stroke="#555" stroke-width="0.7" fill="none"/>
<path d="M884.1,136.8 L889.8,140.0" stroke="#444" stroke-width="0.9" fill="none"/>
<path d="M885.2,139.1 L888.6,143.6" stroke="#555" stroke-width="0.7" fill="none"/>
<path d="M883.0,141.3 L887.5,145.9" stroke="#555" stroke-width="0.7" fill="none"/>
<path d="M890.9,132.3 C891.1,131.4 894.3,130.8 895.4,131.2 C896.5,131.5 897.9,133.6 897.7,134.6 C897.5,135.5 895.4,137.2 894.3,136.8 C893.1,136.4 890.7,133.2 890.9,132.3Z" stroke="#666" stroke-width="0.7" fill="none"/>
<path d="M898.8,131.2 L899.9,141.3" stroke="#7d7d7d" stroke-width="0.6" fill="none"/>
<path d="M902.2,133.4 L903.3,141.3" stroke="#7d7d7d" stroke-width="0.6" fill="none"/>
<ellipse cx="903.1" cy="133.9" rx="0.7" ry="0.6" stroke="#444" stroke-width="0.7" fill="none"/>
<path d="M903.3,134.6 C903.5,135.7 903.5,139.5 904.5,141.3 C905.4,143.2 908.2,145.1 909.0,145.9" stroke="#7d7d7d" stroke-width="0.6" fill="none"/>
<path d="M905.6,115.3 C906.5,114.0 909.6,108.7 911.2,107.6 C912.9,106.5 915.7,107.1 915.8,108.8 C915.8,110.4 913.0,115.5 911.5,117.6 C910.0,119.7 907.5,120.6 906.7,121.2" stroke="#7d7d7d" stroke-width="0.6" fill="none"/>
<path d="M908.1,115.3 C908.7,114.6 910.8,111.4 911.7,110.8 C912.6,110.2 913.7,110.5 913.5,111.5 C913.4,112.4 911.2,115.6 910.8,116.5" stroke="#7d7d7d" stroke-width="0.6" fill="none"/>
<path d="M905.6,115.3 L906.7,121.2" stroke="#7d7d7d" stroke-width="0.6" fill="none"/>
<path d="M922.6,113.3 C922.0,113.9 920.7,113.9 919.2,116.7 C917.7,119.5 916.0,126.3 913.5,130.0 C911.1,133.8 906.0,137.6 904.5,139.1" stroke="#7d7d7d" stroke-width="0.6" fill="none"/>
<path d="M921.0,111.9 C920.3,112.7 918.8,113.6 917.1,116.5 C915.5,119.3 913.5,125.5 911.2,128.9 C908.9,132.3 904.7,135.5 903.3,136.8" stroke="#7d7d7d" stroke-width="0.6" fill="none"/>
<ellipse cx="921.9" cy="114.2" rx="1.1" ry="1.6" transform="rotate(30 921.9 114.2)" stroke="#7d7d7d" stroke-width="0.6" fill="none"/>
<path d="M905.6,93.8 C906.5,94.0 909.6,94.0 911.2,94.5 C912.9,95.0 913.9,95.5 915.8,96.8 C917.7,98.1 921.4,101.3 922.6,102.2" stroke="#555" stroke-width="0.9" fill="none"/>
<path d="M906.7,95.6 C907.7,95.8 910.7,96.1 912.4,96.8 C914.1,97.4 916.2,99.0 916.9,99.5" stroke="#777" stroke-width="0.7" fill="none"/>
<path d="M905.8,95.0 C906.3,94.8 908.1,93.7 909.0,93.8 C909.9,94.0 910.9,95.3 911.2,95.6" stroke="#666" stroke-width="0.7" fill="none"/>
<path d="M921.4,102.0 C921.4,100.6 923.1,100.1 924.8,100.6 C926.5,101.2 930.8,103.5 931.6,105.1 C932.4,106.8 930.7,110.2 929.6,110.8 C928.4,111.4 926.2,110.2 924.8,108.8 C923.5,107.3 921.4,103.3 921.4,102.0Z" stroke="#555" stroke-width="0.7" fill="none"/>
<path d="M922.6,104.0 L929.3,107.6" stroke="#555" stroke-width="0.7" fill="none"/>
<path d="M931.6,107.0 L940.7,111.9" stroke="#444" stroke-width="1" fill="none"/>
<path d="M940.7,111.9 L956.5,123.2" stroke="#666" stroke-width="0.7" fill="none"/>
<path d="M897.7,95.0 L905.6,93.8" stroke="#7d7d7d" stroke-width="0.6" fill="none"/>
<path d="M922.6,102.2 L940.7,113.1 L956.5,124.2" stroke="#7d7d7d" stroke-width="0.6" fill="none"/>
<path d="M956.5,124.2 L966.0,127.8" stroke="#7d7d7d" stroke-width="0.6" fill="none"/>
<path d="M936.1,136.8 L952.0,126.6" stroke="#444" stroke-width="1.1" fill="none"/>
<path d="M937.3,138.4 L953.1,128.2" stroke="#555" stroke-width="0.9" fill="none"/>
<ellipse cx="936.6" cy="137.0" rx="0.9" ry="1.1" stroke="#333" stroke-width="0.7" fill="#999"/>
<path d="M945.2,131.2 L947.4,134.6" stroke="#444" stroke-width="0.7" fill="none"/>
<path d="M948.6,128.9 L950.8,132.3" stroke="#444" stroke-width="0.7" fill="none"/>
<path d="M952.0,126.6 C952.7,126.5 955.4,125.3 956.5,125.5 C957.6,125.7 958.4,127.4 958.8,127.8" stroke="#7d7d7d" stroke-width="0.6" fill="none"/>
<path d="M945.2,139.1 C946.3,137.8 949.3,133.1 952.0,131.2 C954.6,129.3 959.5,128.3 961.0,127.8" stroke="#7d7d7d" stroke-width="0.6" fill="none"/>
<path d="M947.4,141.3 C948.6,140.0 951.6,135.3 954.2,133.4 C956.9,131.5 961.8,130.6 963.3,130.0" stroke="#7d7d7d" stroke-width="0.6" fill="none"/>
<path d="M952.0,143.6 C952.9,142.5 955.3,138.5 957.6,136.8 C960.0,135.1 964.6,134.0 966.0,133.4" stroke="#7d7d7d" stroke-width="0.6" fill="none"/>
<path d="M955.4,139.1 L958.8,138.0 L959.9,141.3" stroke="#7d7d7d" stroke-width="0.6" fill="none"/>
<path d="M915.8,139.1 L921.4,135.7 L927.1,139.1 L920.3,143.6Z" stroke="#7d7d7d" stroke-width="0.6" fill="none"/>
<path d="M911.2,144.7 L929.3,141.3" stroke="#7d7d7d" stroke-width="0.6" fill="none"/>
<path d="M929.3,141.3 L933.9,143.6" stroke="#7d7d7d" stroke-width="0.6" fill="none"/>
<path d="M172.7,309.4 L234.3,309.4 L234.3,389.3 L172.7,389.3Z" stroke="#a4a4a4" stroke-width="1.15" fill="none"/>
<path d="M162.7,339.3 L172.7,339.3" stroke="#b8b8b8" stroke-width="0.9" fill="none"/>
<path d="M219.9,340.2 L430.9,218.1" stroke="#4a4a4a" stroke-width="0.6" fill="none"/>
<path d="M140.0,406.6 L192.0,377.4" stroke="#4a4a4a" stroke-width="0.6" fill="none"/>
<path d="M218.5,361.4 L255.5,339.7" stroke="#4a4a4a" stroke-width="0.6" fill="none"/>
<path d="M263.2,335.8 L314.2,305.8" stroke="#4a4a4a" stroke-width="0.6" fill="none"/>
<path d="M259.3,342.2 L259.3,373.5" stroke="#333" stroke-width="0.9" fill="none"/>
<path d="M283.4,326.8 L290.5,353.7" stroke="#aaa" stroke-width="0.7" fill="none"/>
<path d="M299.8,316.6 L306.5,345.4" stroke="#aaa" stroke-width="0.7" fill="none"/>
<path d="M316.1,307.3 L323.3,335.0" stroke="#aaa" stroke-width="0.7" fill="none"/>
<path d="M260.9,338.5 L277.6,346.2 L277.6,352.0 L260.9,343.9Z" stroke="#666" stroke-width="0.7" fill="#f4f4f4"/>
<path d="M263.2,342.0 L275.9,348.1" stroke="#888" stroke-width="1.3" fill="none" stroke-dasharray="1,1" style="stroke-linecap:butt"/>
<ellipse cx="257.0" cy="336.4" rx="1.3" ry="1.0" stroke="#555" stroke-width="0.7" fill="none"/>
<ellipse cx="282.1" cy="323.9" rx="1.9" ry="2.3" stroke="#444" stroke-width="0.7" fill="#f4f4f4"/>
<ellipse cx="282.1" cy="323.9" rx="0.8" ry="1.0" stroke="#555" stroke-width="0.6" fill="#fff"/>
<ellipse cx="299.0" cy="313.9" rx="1.2" ry="1.5" stroke="#555" stroke-width="0.7" fill="#fff"/>
<path d="M312.9,304.0 L314.8,303.1 L316.7,304.0 L316.9,306.0 L315.2,307.1 L313.2,306.4Z" stroke="#333" stroke-width="0.8" fill="#999"/>
<ellipse cx="315.0" cy="305.0" rx="0.8" ry="0.8" stroke="#333" stroke-width="0.5" fill="#ddd"/>
<path d="M199.7,374.3 L199.7,408.6" stroke="#888" stroke-width="0.7" fill="none"/>
<path d="M199.7,408.6 L206.4,405.1" stroke="#888" stroke-width="0.7" fill="none"/>
<path d="M218.5,362.0 L218.5,398.9" stroke="#888" stroke-width="0.7" fill="none"/>
<path d="M218.5,398.9 L213.5,401.8" stroke="#888" stroke-width="0.7" fill="none"/>
<path d="M128.8,391.3 L128.8,409.3" stroke="#999" stroke-width="0.8" fill="none"/>
<path d="M124.8,411.9 L127.2,410.4 L130.6,410.7 L132.5,412.2 L131.6,415.3 L128.8,416.8 L125.7,416.2Z" stroke="#333" stroke-width="0.9" fill="#eee"/>
<path d="M127.2,410.4 L128.2,413.1 L131.6,415.3" stroke="#333" stroke-width="0.7" fill="none"/>
<path d="M128.2,413.1 L125.7,416.2" stroke="#333" stroke-width="0.7" fill="none"/>
<path d="M132.5,411.9 L159.6,395.6" stroke="#4a4a4a" stroke-width="0.6" fill="none"/>
<path d="M132.8,414.1 L160.2,397.4" stroke="#4a4a4a" stroke-width="0.6" fill="none"/>
<path d="M153.1,398.7 L155.0,396.2" stroke="#444" stroke-width="0.75" fill="none"/>
<path d="M154.7,399.6 L156.5,395.3" stroke="#444" stroke-width="0.75" fill="none"/>
<path d="M156.2,399.0 L158.0,394.7" stroke="#444" stroke-width="0.75" fill="none"/>
<path d="M157.7,398.0 L159.6,394.3" stroke="#444" stroke-width="0.75" fill="none"/>
<ellipse cx="210.1" cy="403.3" rx="3.4" ry="3.7" stroke="#555" stroke-width="0.9" fill="#f4f4f4"/>
<path d="M208.6,401.4 C209.0,401.5 210.5,401.5 211.0,402.0 C211.6,402.6 211.8,404.4 211.9,404.8" stroke="#666" stroke-width="0.7" fill="none"/>
<path d="M210.4,407.7 L210.4,426.2" stroke="#999" stroke-width="0.8" fill="none"/>
<path d="M192.0,347.9 L198.3,343.6 L204.1,340.5 L209.9,338.9 L216.7,339.7 L218.8,348.4 L218.8,360.0 L216.7,369.9 L207.0,376.5 L203.1,378.6 L199.2,377.7 L196.8,370.7 L193.4,359.1Z" stroke="#111111" stroke-width="0.8" fill="#262626"/>
<path d="M207.0,339.7 L209.1,338.7 L217.6,339.2 L221.7,342.4 L224.6,346.7 L226.6,352.5 L227.3,359.1 L225.4,362.9 L220.5,368.8 L217.6,369.9 L218.6,360.0 L218.8,348.4 L216.7,339.7Z" stroke="#333" stroke-width="0.8" fill="#fff"/>
<path d="M217.6,339.3 C218.3,340.2 220.5,342.5 221.5,344.5 C222.5,346.5 223.0,348.9 223.4,351.3 C223.9,353.7 223.9,357.8 223.9,359.1" stroke="#666" stroke-width="0.75" fill="none"/>
<path d="M218.8,360.0 L227.3,355.4" stroke="#555" stroke-width="0.75" fill="none"/>
<path d="M218.6,360.8 L227.3,357.7 L227.8,366.8 L220.5,369.9 L218.8,368.8Z" stroke="#333" stroke-width="0.8" fill="#fff"/>
<path d="M220.5,362.6 L226.4,360.2 L226.6,366.0 L221.1,368.4Z" stroke="#111111" stroke-width="0.6" fill="#2a2a2a"/>
<path d="M222.5,362.0 L222.9,367.6" stroke="#ddd" stroke-width="0.8" fill="none"/>
<path d="M224.4,361.2 L224.8,366.8" stroke="#ddd" stroke-width="0.8" fill="none"/>
<path d="M194.4,349.4 L200.2,346.5" stroke="#e8e8e8" stroke-width="1.1" fill="none"/>
<path d="M195.8,352.8 L204.1,348.4" stroke="#f0f0f0" stroke-width="1.6" fill="none"/>
<path d="M196.8,355.7 L203.1,352.8" stroke="#dcdcdc" stroke-width="1.2" fill="none"/>
<path d="M204.1,342.6 C204.6,343.7 206.2,346.6 207.0,349.4 C207.7,352.1 208.4,355.8 208.4,359.1 C208.4,362.3 207.2,367.1 207.0,368.8" stroke="#f2f2f2" stroke-width="1.5" fill="none"/>
<path d="M206.0,342.1 C206.5,343.3 208.4,346.6 209.1,349.4 C209.8,352.2 210.4,356.0 210.4,359.1 C210.3,362.1 209.2,366.3 208.9,367.8" stroke="#cfcfcf" stroke-width="0.9" fill="none"/>
<path d="M198.3,359.1 L204.1,356.2" stroke="#e6e6e6" stroke-width="1.4" fill="none"/>
<path d="M199.2,362.0 L206.0,359.1" stroke="#d8d8d8" stroke-width="1" fill="none"/>
<path d="M200.2,364.9 L207.0,362.0" stroke="#eeeeee" stroke-width="1.3" fill="none"/>
<path d="M201.2,368.3 L207.9,364.9" stroke="#d0d0d0" stroke-width="1" fill="none"/>
<path d="M202.6,371.7 L209.9,368.0" stroke="#e8e8e8" stroke-width="1.2" fill="none"/>
<path d="M204.1,375.1 L212.8,370.7" stroke="#d8d8d8" stroke-width="1" fill="none"/>
<path d="M210.9,342.6 L215.7,341.6" stroke="#d8d8d8" stroke-width="1" fill="none"/>
<path d="M211.3,346.5 L216.7,345.5" stroke="#e8e8e8" stroke-width="1" fill="none"/>
<path d="M211.8,350.8 L217.6,349.9" stroke="#cccccc" stroke-width="1" fill="none"/>
<path d="M212.3,355.2 L217.6,354.2" stroke="#e0e0e0" stroke-width="1" fill="none"/>
<path d="M212.3,359.6 L217.6,359.1" stroke="#d0d0d0" stroke-width="1" fill="none"/>
<path d="M211.8,363.9 L217.2,363.9" stroke="#e4e4e4" stroke-width="1" fill="none"/>
<path d="M210.9,368.3 L216.7,367.8" stroke="#d4d4d4" stroke-width="1" fill="none"/>
<path d="M197.3,350.8 L199.2,358.1" stroke="#bdbdbd" stroke-width="0.9" fill="none"/>
<path d="M200.7,349.9 L202.6,357.1" stroke="#e0e0e0" stroke-width="0.9" fill="none"/>
<path d="M197.9,347.4 L199.2,354.2" stroke="#aaa" stroke-width="0.8" fill="none"/>
<path d="M204.1,370.7 L209.9,375.5" stroke="#bbb" stroke-width="0.8" fill="none"/>
<path d="M199.2,359.1 L200.4,364.9" stroke="#999" stroke-width="0.8" fill="none"/>
<path d="M213.8,340.7 L214.7,368.8" stroke="#888" stroke-width="0.7" fill="none"/>
<path d="M215.7,340.3 L216.5,368.8" stroke="#ccc" stroke-width="0.7" fill="none"/>
<path d="M207.9,351.3 L211.0,350.7" stroke="#fff" stroke-width="1" fill="none"/>
<path d="M207.9,356.2 L211.4,355.4" stroke="#fff" stroke-width="1" fill="none"/>
<path d="M207.9,361.0 L211.4,360.4" stroke="#fff" stroke-width="1" fill="none"/>
<path d="M200.7,344.9 L204.1,344.7" stroke="#fff" stroke-width="0.9" fill="none"/>
<path d="M207.6,375.1 L209.5,373.5" stroke="#fff" stroke-width="0.8" fill="none"/>
<path d="M194.4,355.8 L195.5,357.3" stroke="#bbb" stroke-width="0.6" fill="none"/>
<path d="M207.5,354.7 L210.2,352.5" stroke="#eee" stroke-width="1.1" fill="none"/>
<path d="M200.2,371.4 L202.5,369.6" stroke="#fff" stroke-width="0.9" fill="none"/>
<path d="M207.1,363.5 L207.9,365.8" stroke="#eee" stroke-width="1.1" fill="none"/>
<path d="M207.7,356.9 L209.2,356.0" stroke="#999" stroke-width="0.8" fill="none"/>
<path d="M194.2,350.8 L195.0,353.9" stroke="#eee" stroke-width="0.6" fill="none"/>
<path d="M195.2,355.5 L197.2,354.0" stroke="#fff" stroke-width="0.6" fill="none"/>
<path d="M212.5,361.7 L214.4,360.5" stroke="#ddd" stroke-width="1.1" fill="none"/>
<path d="M199.2,366.6 L201.6,364.7" stroke="#bbb" stroke-width="1.1" fill="none"/>
<path d="M199.6,354.2 L203.3,354.6" stroke="#eee" stroke-width="0.8" fill="none"/>
<path d="M208.3,358.5 L210.0,358.0" stroke="#fff" stroke-width="1.1" fill="none"/>
<path d="M202.4,373.5 L204.4,372.2" stroke="#eee" stroke-width="0.8" fill="none"/>
<path d="M199.4,355.4 L201.6,354.6" stroke="#fff" stroke-width="0.8" fill="none"/>
<path d="M209.6,339.4 L210.8,341.1" stroke="#fff" stroke-width="1.1" fill="none"/>
<path d="M206.3,363.1 L209.3,362.6" stroke="#ccc" stroke-width="0.6" fill="none"/>
<path d="M204.2,373.5 L206.4,374.3" stroke="#ddd" stroke-width="1.1" fill="none"/>
<path d="M197.6,345.4 L199.0,344.7" stroke="#ccc" stroke-width="0.8" fill="none"/>
<path d="M208.4,344.8 L211.2,344.2" stroke="#ddd" stroke-width="0.6" fill="none"/>
<path d="M195.1,358.3 L196.0,360.2" stroke="#fff" stroke-width="0.6" fill="none"/>
<path d="M212.1,368.4 L212.5,370.0" stroke="#fff" stroke-width="0.8" fill="none"/>
<path d="M212.3,350.7 L215.2,351.9" stroke="#eee" stroke-width="0.9" fill="none"/>
<path d="M200.8,347.7 L204.1,346.9" stroke="#bbb" stroke-width="0.8" fill="none"/>
<path d="M197.3,358.5 L198.7,358.4" stroke="#eee" stroke-width="1.1" fill="none"/>
<path d="M198.9,366.4 L202.2,364.8" stroke="#eee" stroke-width="0.9" fill="none"/>
<path d="M204.6,352.3 L205.9,355.7" stroke="#999" stroke-width="0.6" fill="none"/>
<path d="M204.8,364.9 L207.8,364.7" stroke="#ddd" stroke-width="0.8" fill="none"/>
<path d="M204.7,346.0 L208.1,346.3" stroke="#bbb" stroke-width="1.1" fill="none"/>
<path d="M204.4,368.5 L206.1,367.9" stroke="#fff" stroke-width="0.6" fill="none"/>
<path d="M213.6,344.7 L214.1,347.6" stroke="#eee" stroke-width="0.8" fill="none"/>
<path d="M206.7,344.1 L209.8,343.3" stroke="#fff" stroke-width="0.8" fill="none"/>
<path d="M203.6,373.5 L205.0,372.3" stroke="#ccc" stroke-width="0.8" fill="none"/>
<path d="M212.5,351.9 L213.3,353.4" stroke="#bbb" stroke-width="0.9" fill="none"/>
<path d="M205.4,360.0 L206.9,363.2" stroke="#999" stroke-width="0.8" fill="none"/>
<path d="M208.3,369.7 L210.4,368.3" stroke="#bbb" stroke-width="0.6" fill="none"/>
<path d="M206.9,351.9 L207.9,354.2" stroke="#999" stroke-width="0.6" fill="none"/>
<path d="M205.6,361.2 L208.1,359.9" stroke="#ccc" stroke-width="0.8" fill="none"/>
<path d="M210.6,356.8 L211.2,359.5" stroke="#fff" stroke-width="0.9" fill="none"/>
<path d="M197.4,356.6 L198.8,358.7" stroke="#fff" stroke-width="0.8" fill="none"/>
<path d="M203.5,347.3 L206.9,346.4" stroke="#fff" stroke-width="0.9" fill="none"/>
<path d="M196.3,356.1 L197.4,358.2" stroke="#eee" stroke-width="0.9" fill="none"/>
<path d="M194.5,353.4 L196.7,352.5" stroke="#fff" stroke-width="1.1" fill="none"/>
<path d="M200.9,363.7 L201.2,365.3" stroke="#999" stroke-width="0.8" fill="none"/>
<path d="M212.9,349.7 L216.3,348.7" stroke="#bbb" stroke-width="0.9" fill="none"/>
<path d="M202.8,360.2 L204.1,363.1" stroke="#fff" stroke-width="0.9" fill="none"/>
<path d="M203.4,341.8 L206.5,340.6" stroke="#fff" stroke-width="0.8" fill="none"/>
<path d="M204.2,352.4 L205.8,355.7" stroke="#ccc" stroke-width="0.8" fill="none"/>
<path d="M199.0,346.1 L201.5,345.1" stroke="#fff" stroke-width="0.9" fill="none"/>
<path d="M203.9,365.7 L205.1,364.9" stroke="#eee" stroke-width="0.6" fill="none"/>
<path d="M206.8,346.5 L208.0,348.5" stroke="#bbb" stroke-width="1.1" fill="none"/>
<path d="M209.6,360.6 L210.0,362.7" stroke="#fff" stroke-width="0.8" fill="none"/>
<path d="M201.2,372.0 L202.8,372.4" stroke="#eee" stroke-width="0.6" fill="none"/>
<path d="M214.4,339.5 L216.4,340.1" stroke="#fff" stroke-width="0.6" fill="none"/>
<path d="M201.7,352.0 L202.4,353.3" stroke="#eee" stroke-width="0.8" fill="none"/>
<path d="M202.2,357.8 L202.9,359.7" stroke="#999" stroke-width="0.6" fill="none"/>
<path d="M195.8,362.3 L197.2,363.9" stroke="#fff" stroke-width="0.6" fill="none"/>
<path d="M207.7,359.9 L210.7,358.9" stroke="#ccc" stroke-width="1.1" fill="none"/>
<path d="M212.5,367.5 L214.3,370.1" stroke="#bbb" stroke-width="0.8" fill="none"/>
<path d="M214.1,362.1 L217.2,362.9" stroke="#fff" stroke-width="0.6" fill="none"/>
<path d="M201.6,343.1 L202.8,345.8" stroke="#bbb" stroke-width="0.8" fill="none"/>
<path d="M213.4,368.7 L213.8,370.2" stroke="#ccc" stroke-width="0.6" fill="none"/>
<path d="M212.0,357.7 L213.9,357.2" stroke="#999" stroke-width="0.8" fill="none"/>
<path d="M198.2,364.7 L199.1,366.8" stroke="#ddd" stroke-width="0.9" fill="none"/>
<path d="M212.5,363.4 L215.4,363.4" stroke="#eee" stroke-width="0.9" fill="none"/>
<path d="M209.4,366.4 L210.0,367.7" stroke="#fff" stroke-width="1.1" fill="none"/>
<path d="M199.1,365.7 L201.7,365.7" stroke="#bbb" stroke-width="0.9" fill="none"/>
<path d="M204.5,357.4 L207.2,356.9" stroke="#eee" stroke-width="0.6" fill="none"/>
<path d="M204.3,371.5 L204.7,373.8" stroke="#fff" stroke-width="0.6" fill="none"/>
<path d="M207.6,344.5 L208.7,346.5" stroke="#ccc" stroke-width="0.9" fill="none"/>
<ellipse cx="190.1" cy="362.0" rx="7.0" ry="13.2" transform="rotate(-18 190.1 362.0)" stroke="#111" stroke-width="1.8" fill="#fff"/>
<ellipse cx="191.1" cy="362.5" rx="5.4" ry="11.0" transform="rotate(-18 191.1 362.5)" stroke="#444" stroke-width="0.8" fill="#f4f4f4"/>
<path d="M183.9,354.2 L185.1,350.5 L187.6,349.0" stroke="#111" stroke-width="2.2" fill="none"/>
<path d="M183.1,362.0 L183.5,358.1" stroke="#111" stroke-width="2.2" fill="none"/>
<path d="M184.7,370.7 L183.7,366.8" stroke="#111" stroke-width="2.2" fill="none"/>
<path d="M189.5,375.3 L186.6,373.6" stroke="#111" stroke-width="2.2" fill="none"/>
<ellipse cx="190.7" cy="366.6" rx="3.7" ry="4.8" transform="rotate(-15 190.7 366.6)" stroke="#333" stroke-width="1" fill="#bdbdbd"/>
<ellipse cx="190.5" cy="367.0" rx="1.9" ry="2.7" transform="rotate(-15 190.5 367.0)" stroke="#333" stroke-width="0.8" fill="#888"/>
<path d="M194.4,362.0 C194.9,362.8 196.9,365.0 197.5,366.8 C198.1,368.6 197.8,371.7 197.9,372.6" stroke="#333" stroke-width="1" fill="none"/>
<path d="M195.8,361.5 C196.4,362.4 198.6,364.8 199.2,366.8 C199.9,368.8 199.6,372.5 199.7,373.6" stroke="#333" stroke-width="1" fill="none"/>
<path d="M192.9,375.5 L199.2,372.6 L199.7,377.5 L194.4,379.6Z" stroke="#333" stroke-width="0.8" fill="#fff"/>
<path d="M194.9,377.0 L197.8,375.9 L198.1,377.9 L195.5,378.8Z" stroke="#111111" stroke-width="0.6" fill="#333"/>
<path d="M189.7,334.5 L189.7,367.8" stroke="#222" stroke-width="0.9" fill="none"/>
<path d="M493.3,382.9 L499.5,378.6 L501.9,378.9 L503.2,380.8 L509.6,400.8 L508.4,404.5 L499.2,411.6 L496.7,410.3 L489.9,391.9 L490.9,387.2Z" stroke="#333" stroke-width="0.8" fill="none"/>
<path d="M491.8,390.9 C492.0,392.3 492.2,396.8 493.3,399.3 C494.4,401.7 496.8,404.5 498.6,405.7 C500.3,406.9 502.6,406.8 504.1,406.3 C505.6,405.9 507.2,403.5 507.8,403.0" stroke="#444" stroke-width="0.75" fill="none"/>
<path d="M491.8,390.9 C492.4,389.9 494.1,386.1 495.5,384.8 C496.9,383.4 498.6,382.3 500.1,382.9 C501.6,383.6 503.4,385.1 504.7,388.5 C506.0,391.8 507.3,400.5 507.8,403.0" stroke="#444" stroke-width="0.75" fill="none"/>
<path d="M470.1,399.6 L494.2,385.4" stroke="#4a4a4a" stroke-width="0.6" fill="none"/>
<path d="M472.4,424.8 L498.6,410.7" stroke="#4a4a4a" stroke-width="0.6" fill="none"/>
<path d="M500.4,412.3 L500.4,430.8" stroke="#222" stroke-width="1.1" fill="none"/>
<path d="M470.1,429.7 L470.1,449.3" stroke="#888" stroke-width="0.8" fill="none"/>
<path d="M427.7,376.9 L427.7,396.2" stroke="#aaa" stroke-width="0.8" fill="none"/>
<path d="M425.6,397.4 L428.0,396.5 L429.9,397.4 L429.6,399.9 L427.1,400.8 L425.6,399.6Z" stroke="#444" stroke-width="0.8" fill="#ddd"/>
<path d="M429.9,397.7 L433.3,396.2 L433.9,397.7 L430.5,399.3Z" stroke="#111111" stroke-width="0.6" fill="#555"/>
<path d="M433.9,396.5 L453.1,385.1 L453.1,409.3" stroke="#666" stroke-width="0.6" fill="none"/>
<path d="M438.2,458.4 L440.0,457.2 L442.2,458.1 L442.5,460.5 L440.7,461.8 L438.5,460.9Z" stroke="#111111" stroke-width="0.9" fill="#777"/>
<ellipse cx="440.3" cy="459.5" rx="0.9" ry="0.9" stroke="#333" stroke-width="0.7" fill="#ddd"/>
<path d="M442.5,458.1 L453.6,451.9 L453.6,431.6" stroke="#666" stroke-width="0.6" fill="none"/>
<path d="M439.7,462.1 L439.7,482.6" stroke="#aaa" stroke-width="0.8" fill="none"/>
<path d="M423.0,422.0 L451.1,407.1" stroke="#5a5a5a" stroke-width="0.6" fill="none"/>
<path d="M438.3,443.9 L454.0,434.8" stroke="#5a5a5a" stroke-width="0.6" fill="none"/>
<path d="M436.5,419.1 C437.6,419.9 441.3,422.0 442.7,423.9 C444.2,425.9 445.2,428.5 445.3,430.7 C445.3,433.0 444.0,435.9 443.1,437.5 C442.2,439.1 440.5,439.9 440.0,440.4" stroke="#555" stroke-width="0.7" fill="none"/>
<path d="M429.5,419.1 C431.2,418.3 436.3,415.6 439.2,414.2 C442.2,412.9 445.7,411.4 447.0,410.8" stroke="#666" stroke-width="0.6" fill="none"/>
<ellipse cx="429.5" cy="432.7" rx="7.2" ry="10.9" transform="rotate(-28 429.5 432.7)" stroke="#222" stroke-width="1" fill="#fff"/>
<ellipse cx="430.7" cy="433.2" rx="5.4" ry="8.9" transform="rotate(-28 430.7 433.2)" stroke="#5a5a5a" stroke-width="0.6" fill="none"/>
<ellipse cx="431.1" cy="433.8" rx="3.3" ry="5.8" transform="rotate(-28 431.1 433.8)" stroke="#5a5a5a" stroke-width="0.6" fill="#fff"/>
<path d="M422.0,423.9 L424.3,422.6 L425.7,424.9 L423.5,426.1Z" stroke="#111111" stroke-width="0.6" fill="#222"/>
<path d="M432.5,439.5 L435.8,438.5 L438.7,440.4 L438.3,443.5 L435.0,443.1Z" stroke="#111111" stroke-width="0.6" fill="#222"/>
<path d="M424.3,436.5 L426.6,438.5 L429.5,441.4" stroke="#222" stroke-width="1.4" fill="none"/>
<path d="M426.6,428.0 L429.0,426.1" stroke="#333" stroke-width="0.75" fill="none"/>
<path d="M434.0,435.6 L437.3,438.5" stroke="#333" stroke-width="0.75" fill="none"/>
<ellipse cx="435.8" cy="440.8" rx="1.0" ry="1.0" stroke="#222" stroke-width="0.7" fill="#fff"/>
<path d="M444.1,420.3 C444.6,418.6 447.5,418.0 449.1,417.2 C450.8,416.3 452.4,415.1 454.0,415.4 C455.6,415.7 457.6,417.6 458.8,419.1 C460.1,420.5 460.9,422.5 461.4,424.1 C461.8,425.8 462.4,427.6 461.7,429.0 C461.1,430.4 459.0,431.9 457.7,432.7 C456.3,433.5 455.2,434.0 453.8,433.8 C452.3,433.7 450.3,432.9 448.9,431.7 C447.6,430.5 446.6,428.8 445.8,426.8 C445.0,424.9 443.5,421.9 444.1,420.3Z" stroke="#5a5a5a" stroke-width="0.6" fill="#fff"/>
<path d="M448.0,422.0 C448.6,421.0 449.9,420.0 451.1,419.7 C452.2,419.4 453.7,419.7 454.8,420.3 C455.9,420.8 457.1,421.8 457.7,423.0 C458.3,424.1 458.8,425.9 458.4,427.2 C458.1,428.5 456.8,430.0 455.7,430.7 C454.7,431.5 453.3,432.1 452.2,431.9 C451.1,431.7 449.9,430.8 449.1,429.8 C448.4,428.8 447.8,427.2 447.6,425.9 C447.4,424.6 447.4,423.0 448.0,422.0Z" stroke="#111111" stroke-width="0.6" fill="#222"/>
<path d="M449.1,423.0 L451.8,421.2" stroke="#ddd" stroke-width="0.9" fill="none"/>
<path d="M449.9,425.5 L453.8,423.4" stroke="#eee" stroke-width="1" fill="none"/>
<path d="M450.5,428.0 L455.7,425.5" stroke="#ddd" stroke-width="0.9" fill="none"/>
<path d="M452.2,430.1 L456.7,428.0" stroke="#eee" stroke-width="0.9" fill="none"/>
<path d="M453.4,422.0 L455.0,428.8" stroke="#ccc" stroke-width="0.8" fill="none"/>
<path d="M455.7,422.0 L457.3,428.0" stroke="#ddd" stroke-width="0.8" fill="none"/>
<path d="M454.0,414.2 L467.4,409.0" stroke="#5a5a5a" stroke-width="0.6" fill="none"/>
<path d="M467.4,409.0 C468.3,409.7 471.8,411.3 473.0,413.3 C474.2,415.2 474.8,418.8 474.7,420.8 C474.6,422.9 472.8,424.7 472.4,425.5" stroke="#5a5a5a" stroke-width="0.6" fill="none"/>
<path d="M465.8,409.8 C466.7,410.5 469.9,412.4 471.0,414.2 C472.2,416.1 472.8,419.1 472.8,421.0 C472.8,423.0 471.2,425.2 470.9,426.1" stroke="#777" stroke-width="0.6" fill="none"/>
<path d="M460.6,430.9 L472.4,425.5" stroke="#5a5a5a" stroke-width="0.6" fill="none"/>
<path d="M461.5,432.7 L465.4,432.7 L472.2,426.8" stroke="#5a5a5a" stroke-width="0.6" fill="none"/>
<path d="M463.5,432.7 L473.2,424.1" stroke="#555" stroke-width="0.75" fill="none"/>
<path d="M454.8,408.6 C455.5,407.8 457.8,405.1 459.2,403.6 C460.7,402.0 462.0,400.1 463.5,399.3 C464.9,398.5 466.9,398.4 467.9,398.9 C469.0,399.5 469.7,401.3 469.9,402.6 C470.1,403.9 469.4,406.0 469.3,406.7" stroke="#5a5a5a" stroke-width="0.6" fill="none"/>
<path d="M459.2,401.8 L463.5,399.3" stroke="#444" stroke-width="0.75" fill="none"/>
<path d="M464.6,400.1 C464.8,400.8 465.2,403.4 465.8,404.5 C466.4,405.7 467.8,406.6 468.1,407.1" stroke="#666" stroke-width="0.75" fill="none"/>
<path d="M469.3,406.7 C470.1,406.9 472.5,407.6 474.2,408.2 C475.8,408.9 477.9,409.5 479.0,410.6 C480.1,411.6 480.9,413.1 480.9,414.4 C480.9,415.7 480.1,417.5 479.0,418.3 C477.9,419.1 475.1,419.0 474.3,419.1" stroke="#5a5a5a" stroke-width="0.6" fill="none"/>
<ellipse cx="476.7" cy="413.7" rx="0.9" ry="0.8" stroke="#444" stroke-width="0.7" fill="none"/>
<path d="M450.9,407.1 L454.8,408.6" stroke="#555" stroke-width="0.75" fill="none"/>
<path d="M451.8,412.3 L458.6,409.0" stroke="#555" stroke-width="0.75" fill="none"/>
<path d="M457.7,409.4 L458.4,411.7" stroke="#333" stroke-width="1" fill="none"/>
<path d="M447.0,408.0 L451.1,406.5" stroke="#333" stroke-width="1.3" fill="none"/>
<path d="M441.2,415.4 L443.3,413.9 L445.1,414.4 L443.1,416.2Z" stroke="#555" stroke-width="0.75" fill="none"/>
<path d="M472.8,412.9 L473.6,415.4" stroke="#222" stroke-width="1.2" fill="none"/>
<path d="M474.3,418.1 L474.7,420.3" stroke="#222" stroke-width="1.2" fill="none"/>
<path d="M468.9,399.7 L487.0,390.0" stroke="#5a5a5a" stroke-width="0.6" fill="none"/>
<path d="M472.4,425.5 L495.1,412.9" stroke="#5a5a5a" stroke-width="0.6" fill="none"/>
<path d="M453.8,390.0 L453.8,409.0" stroke="#777" stroke-width="0.6" fill="none"/>
<path d="M453.8,432.7 L453.8,450.1" stroke="#777" stroke-width="0.6" fill="none"/>
<path d="M712.6,274.6 C713.4,274.4 715.9,272.4 717.4,273.1 C719.0,273.8 720.1,275.4 721.7,278.9 C723.3,282.3 725.8,290.0 727.1,293.9 C728.4,297.7 729.0,300.6 729.4,302.0" stroke="#7d7d7d" stroke-width="0.6" fill="none"/>
<path d="M712.6,274.6 C713.4,276.5 715.7,282.3 717.4,286.2 C719.2,290.0 721.6,294.7 723.2,297.7 C724.9,300.8 726.7,303.3 727.5,304.5" stroke="#7d7d7d" stroke-width="0.6" fill="none"/>
<path d="M738.6,280.8 C739.5,280.5 742.4,277.7 744.0,279.2 C745.6,280.8 747.9,285.7 748.2,290.0 C748.6,294.4 746.9,301.5 745.9,305.4 C745.0,309.3 743.0,312.2 742.5,313.5" stroke="#7d7d7d" stroke-width="0.6" fill="none"/>
<path d="M738.6,280.8 C739.0,283.3 740.9,291.3 740.9,295.8 C741.0,300.3 739.3,305.7 739.0,307.7" stroke="#7d7d7d" stroke-width="0.6" fill="none"/>
<path d="M749.2,315.4 C751.0,314.3 757.1,309.7 759.8,308.5 C762.5,307.3 764.1,306.5 765.6,308.5 C767.0,310.6 768.8,316.8 768.6,320.8 C768.5,324.8 768.2,329.4 764.8,332.4 C761.4,335.3 751.0,337.5 748.2,338.5" stroke="#7d7d7d" stroke-width="0.6" fill="none"/>
<path d="M749.2,315.4 C750.0,316.7 754.2,318.9 754.0,322.7 C753.9,326.6 749.2,335.9 748.2,338.5" stroke="#7d7d7d" stroke-width="0.6" fill="none"/>
<path d="M764.8,342.4 C766.2,342.1 771.5,339.5 773.3,340.5 C775.1,341.4 776.5,345.3 775.6,348.2 C774.6,351.0 770.4,355.6 767.5,357.8 C764.5,360.0 759.5,360.7 757.9,361.2" stroke="#7d7d7d" stroke-width="0.6" fill="none"/>
<path d="M744.4,332.4 C746.3,333.3 752.5,336.5 755.9,338.1 C759.3,339.8 763.3,341.7 764.8,342.4" stroke="#7d7d7d" stroke-width="0.6" fill="none"/>
<path d="M717.4,309.3 C719.0,308.8 723.5,305.6 727.1,306.6 C730.6,307.6 735.6,311.5 738.6,315.4 C741.6,319.4 744.2,326.9 745.2,330.4 C746.1,334.0 744.5,335.6 744.4,336.6" stroke="#7d7d7d" stroke-width="0.6" fill="none"/>
<path d="M721.3,313.1 C722.6,312.8 726.1,309.9 729.0,311.2 C731.9,312.5 736.5,317.3 738.6,320.8 C740.7,324.4 741.2,330.4 741.7,332.4" stroke="#7d7d7d" stroke-width="0.6" fill="none"/>
<path d="M725.1,316.6 C726.1,316.4 728.8,314.1 730.9,315.4 C733.0,316.8 736.6,321.8 737.8,324.7 C739.1,327.5 738.5,331.1 738.6,332.4" stroke="#7d7d7d" stroke-width="0.6" fill="none"/>
<path d="M729.0,315.4 L734.8,328.5" stroke="#7d7d7d" stroke-width="0.6" fill="none"/>
<path d="M732.8,315.4 L738.6,326.6" stroke="#7d7d7d" stroke-width="0.6" fill="none"/>
<path d="M723.2,317.0 L729.0,330.4" stroke="#7d7d7d" stroke-width="0.6" fill="none"/>
<path d="M727.1,322.7 L736.7,320.8" stroke="#7d7d7d" stroke-width="0.6" fill="none"/>
<path d="M740.5,326.6 L744.4,328.5" stroke="#7d7d7d" stroke-width="0.6" fill="none"/>
<path d="M713.6,305.8 C713.8,304.4 715.8,303.4 717.4,303.5 C719.0,303.6 722.6,305.1 723.2,306.4 C723.9,307.7 722.4,310.2 721.3,311.2 C720.2,312.2 717.8,313.1 716.5,312.2 C715.2,311.3 713.4,307.3 713.6,305.8Z" stroke="#7d7d7d" stroke-width="0.6" fill="none"/>
<path d="M692.4,309.3 L803.1,373.1" stroke="#4a4a4a" stroke-width="0.6" fill="none"/>
<ellipse cx="696.7" cy="287.7" rx="6.2" ry="2.7" stroke="#7d7d7d" stroke-width="0.6" fill="none"/>
<ellipse cx="696.7" cy="292.9" rx="6.5" ry="3.1" stroke="#7d7d7d" stroke-width="0.6" fill="none"/>
<path d="M690.5,287.7 L690.1,292.9" stroke="#7d7d7d" stroke-width="0.6" fill="none"/>
<path d="M702.8,287.7 L703.2,292.9" stroke="#7d7d7d" stroke-width="0.6" fill="none"/>
<path d="M698.2,284.2 L714.0,300.0" stroke="#444" stroke-width="0.9" fill="none"/>
<path d="M688.6,296.8 C689.9,297.2 693.4,299.6 696.3,299.6 C699.2,299.7 704.3,297.7 705.9,297.3" stroke="#7d7d7d" stroke-width="0.6" fill="none"/>
<path d="M688.6,296.8 L690.5,306.4" stroke="#7d7d7d" stroke-width="0.6" fill="none"/>
<path d="M705.9,297.3 L709.7,303.5" stroke="#7d7d7d" stroke-width="0.6" fill="none"/>
<path d="M660.9,295.0 C661.4,294.3 661.8,292.4 665.5,293.5 C669.1,294.6 680.4,299.5 682.8,301.6 C685.2,303.6 683.4,306.4 679.9,305.8 C676.4,305.2 665.2,299.9 662.0,298.1 C658.8,296.3 660.3,295.8 660.9,295.0Z" stroke="#7d7d7d" stroke-width="0.6" fill="none"/>
<ellipse cx="663.9" cy="295.8" rx="1.5" ry="1.0" stroke="#7d7d7d" stroke-width="0.6" fill="none"/>
<ellipse cx="680.5" cy="305.8" rx="2.7" ry="3.1" stroke="#7d7d7d" stroke-width="0.6" fill="none"/>
<path d="M678.9,299.6 L682.0,302.7" stroke="#7d7d7d" stroke-width="0.6" fill="none"/>
<path d="M649.1,328.9 L682.8,313.5 L695.3,308.3" stroke="#7d7d7d" stroke-width="0.6" fill="none"/>
<path d="M695.3,308.3 L710.7,315.4" stroke="#7d7d7d" stroke-width="0.6" fill="none"/>
<path d="M665.5,336.6 L710.7,315.4" stroke="#7d7d7d" stroke-width="0.6" fill="none"/>
<path d="M649.1,328.9 L665.5,336.6" stroke="#7d7d7d" stroke-width="0.6" fill="none"/>
<path d="M665.5,336.6 L665.9,347.8" stroke="#7d7d7d" stroke-width="0.6" fill="none"/>
<path d="M710.7,315.4 L710.9,324.7" stroke="#7d7d7d" stroke-width="0.6" fill="none"/>
<path d="M665.9,347.8 L694.3,334.7" stroke="#7d7d7d" stroke-width="0.6" fill="none"/>
<path d="M679.9,313.1 L690.5,308.3" stroke="#7d7d7d" stroke-width="0.6" fill="none"/>
<path d="M671.2,317.0 L675.1,314.1" stroke="#7d7d7d" stroke-width="0.6" fill="none"/>
<path d="M651.0,332.8 C651.8,331.9 654.2,330.4 655.8,330.4 C657.5,330.4 660.0,331.7 660.7,332.8 C661.3,333.8 660.8,335.7 659.7,336.6 C658.6,337.5 655.7,338.3 654.3,338.1 C652.9,338.0 651.8,336.7 651.2,335.8 C650.7,334.9 650.3,333.7 651.0,332.8Z" stroke="#7d7d7d" stroke-width="0.6" fill="none"/>
<ellipse cx="655.5" cy="333.9" rx="1.9" ry="1.2" stroke="#7d7d7d" stroke-width="0.6" fill="none"/>
<path d="M648.1,326.6 C648.4,326.0 650.3,325.3 651.0,325.4 C651.7,325.6 652.6,326.8 652.4,327.4 C652.2,327.9 650.4,329.0 649.7,328.9 C649.0,328.8 647.9,327.2 648.1,326.6Z" stroke="#7d7d7d" stroke-width="0.6" fill="none"/>
<path d="M665.5,332.8 C665.5,332.1 668.2,331.3 669.3,331.4 C670.4,331.5 672.2,332.7 672.2,333.3 C672.2,334.0 670.4,335.4 669.3,335.3 C668.2,335.2 665.5,333.4 665.5,332.8Z" stroke="#7d7d7d" stroke-width="0.6" fill="none"/>
<path d="M667.4,349.7 L709.7,330.4" stroke="#7d7d7d" stroke-width="0.6" fill="none"/>
<path d="M671.2,355.5 L713.6,336.6" stroke="#7d7d7d" stroke-width="0.6" fill="none"/>
<path d="M675.1,345.8 C675.8,344.8 678.6,343.4 679.9,343.5 C681.2,343.7 682.8,345.6 682.8,346.8 C682.8,348.0 681.1,350.2 679.9,350.7 C678.7,351.1 676.3,350.5 675.5,349.7 C674.7,348.9 674.4,346.9 675.1,345.8Z" stroke="#7d7d7d" stroke-width="0.6" fill="none"/>
<path d="M690.5,339.1 C691.1,338.0 693.9,336.4 695.3,336.6 C696.8,336.8 699.0,338.9 699.2,340.1 C699.3,341.3 697.6,343.3 696.3,343.9 C695.0,344.5 692.4,344.3 691.5,343.5 C690.5,342.7 689.9,340.3 690.5,339.1Z" stroke="#7d7d7d" stroke-width="0.6" fill="none"/>
<path d="M682.8,350.7 C683.0,349.5 686.3,348.0 687.6,348.2 C688.9,348.3 690.7,350.5 690.5,351.6 C690.3,352.8 687.9,355.2 686.6,355.1 C685.4,354.9 682.6,351.8 682.8,350.7Z" stroke="#7d7d7d" stroke-width="0.6" fill="none"/>
<path d="M692.4,334.3 C692.9,333.2 696.9,332.0 698.2,332.4 C699.5,332.8 700.6,335.5 700.1,336.6 C699.6,337.7 696.6,339.5 695.3,339.1 C694.0,338.7 691.9,335.4 692.4,334.3Z" stroke="#7d7d7d" stroke-width="0.6" fill="none"/>
<path d="M694.3,322.7 L695.3,332.4" stroke="#7d7d7d" stroke-width="0.6" fill="none"/>
<path d="M697.4,322.0 L698.2,331.4" stroke="#7d7d7d" stroke-width="0.6" fill="none"/>
<path d="M702.0,322.7 C703.0,322.4 705.9,320.5 707.8,320.8 C709.7,321.1 712.0,322.7 713.6,324.7 C715.2,326.6 717.1,330.1 717.4,332.4 C717.8,334.6 715.8,337.2 715.5,338.1" stroke="#7d7d7d" stroke-width="0.6" fill="none"/>
<path d="M709.7,326.6 C710.7,326.3 713.6,324.4 715.5,325.1 C717.4,325.7 720.0,328.3 721.3,330.4 C722.6,332.6 722.9,336.9 723.2,338.1" stroke="#7d7d7d" stroke-width="0.6" fill="none"/>
<path d="M709.7,338.1 L717.4,342.0 L717.4,349.7" stroke="#7d7d7d" stroke-width="0.6" fill="none"/>
<path d="M713.6,336.6 L725.1,340.5" stroke="#7d7d7d" stroke-width="0.6" fill="none"/>
<path d="M721.3,333.3 C722.1,332.1 725.8,330.9 727.1,331.4 C728.4,331.9 729.2,334.8 729.0,336.2 C728.8,337.7 727.2,339.6 726.1,340.1 C725.0,340.6 723.1,340.2 722.3,339.1 C721.5,338.0 720.5,334.6 721.3,333.3Z" stroke="#7d7d7d" stroke-width="0.6" fill="none"/>
<path d="M725.1,340.5 L734.8,338.1 L738.6,345.8" stroke="#7d7d7d" stroke-width="0.6" fill="none"/>
<path d="M611.6,332.4 C612.1,330.4 616.1,328.2 619.3,327.6 C622.5,326.9 627.6,327.7 630.8,328.5 C634.0,329.4 637.6,331.2 638.5,332.8 C639.5,334.4 638.5,336.8 636.6,338.1 C634.7,339.5 630.3,340.9 627.0,341.0 C623.6,341.2 619.0,340.6 616.4,339.1 C613.8,337.7 611.1,334.3 611.6,332.4Z" stroke="#7d7d7d" stroke-width="0.6" fill="none"/>
<path d="M619.7,330.1 C620.4,329.1 623.7,328.3 625.4,328.5 C627.1,328.7 629.6,330.4 629.9,331.4 C630.1,332.4 628.4,334.2 627.0,334.7 C625.5,335.2 622.4,335.1 621.2,334.3 C620.0,333.5 619.0,331.0 619.7,330.1Z" stroke="#7d7d7d" stroke-width="0.6" fill="none"/>
<ellipse cx="624.7" cy="330.8" rx="1.7" ry="1.3" stroke="#7d7d7d" stroke-width="0.6" fill="none"/>
<path d="M605.8,343.0 L611.6,332.4" stroke="#7d7d7d" stroke-width="0.6" fill="none"/>
<path d="M605.8,343.0 L606.8,351.6 L621.2,359.3" stroke="#7d7d7d" stroke-width="0.6" fill="none"/>
<path d="M636.6,338.1 L638.5,345.8" stroke="#7d7d7d" stroke-width="0.6" fill="none"/>
<path d="M616.4,339.1 L617.3,357.4" stroke="#7d7d7d" stroke-width="0.6" fill="none"/>
<path d="M627.0,341.0 L627.9,355.5" stroke="#7d7d7d" stroke-width="0.6" fill="none"/>
<path d="M606.8,342.0 C606.9,341.2 608.9,340.7 609.6,341.0 C610.4,341.4 611.3,343.1 611.2,343.9 C611.1,344.7 609.6,346.2 608.9,345.8 C608.1,345.5 606.6,342.8 606.8,342.0Z" stroke="#7d7d7d" stroke-width="0.6" fill="none"/>
<path d="M632.7,341.0 L655.8,351.6" stroke="#7d7d7d" stroke-width="0.6" fill="none"/>
<path d="M638.5,332.8 L649.1,328.9" stroke="#7d7d7d" stroke-width="0.6" fill="none"/>
<path d="M621.2,359.3 L655.8,352.6" stroke="#7d7d7d" stroke-width="0.6" fill="none"/>
<path d="M608.7,363.2 L621.2,359.3" stroke="#7d7d7d" stroke-width="0.6" fill="none"/>
<path d="M608.7,363.2 L609.3,372.8 L617.3,376.6" stroke="#7d7d7d" stroke-width="0.6" fill="none"/>
<path d="M613.5,365.1 L613.9,374.0" stroke="#7d7d7d" stroke-width="0.6" fill="none"/>
<path d="M618.3,362.2 L618.9,372.8" stroke="#7d7d7d" stroke-width="0.6" fill="none"/>
<path d="M627.0,345.8 C627.4,346.5 629.0,347.8 629.3,349.7 C629.5,351.6 628.6,356.1 628.5,357.4" stroke="#7d7d7d" stroke-width="0.6" fill="none"/>
<path d="M629.9,344.9 C630.2,345.7 631.8,347.6 632.0,349.7 C632.2,351.8 631.3,356.1 631.2,357.4" stroke="#7d7d7d" stroke-width="0.6" fill="none"/>
<path d="M632.7,368.9 C633.8,367.6 636.9,366.6 638.5,367.0 C640.1,367.4 642.1,369.3 642.4,371.3 C642.7,373.2 641.7,377.2 640.4,378.6 C639.2,380.0 636.5,380.3 635.1,379.7 C633.6,379.1 632.4,376.9 632.0,375.1 C631.6,373.3 631.7,370.3 632.7,368.9Z" stroke="#7d7d7d" stroke-width="0.6" fill="none"/>
<ellipse cx="637.0" cy="373.2" rx="3.8" ry="5.0" stroke="#7d7d7d" stroke-width="0.6" fill="none"/>
<ellipse cx="637.0" cy="373.2" rx="2.3" ry="3.1" stroke="#7d7d7d" stroke-width="0.6" fill="none"/>
<path d="M642.4,361.2 L665.5,351.6" stroke="#7d7d7d" stroke-width="0.6" fill="none"/>
<path d="M644.3,365.1 L667.4,355.5" stroke="#7d7d7d" stroke-width="0.6" fill="none"/>
<path d="M659.7,361.2 C660.3,360.4 662.8,359.4 663.9,359.7 C665.0,360.0 666.4,362.1 666.2,363.2 C666.1,364.2 664.2,365.6 663.2,365.9 C662.1,366.1 660.7,365.5 660.1,364.7 C659.5,363.9 659.1,362.1 659.7,361.2Z" stroke="#7d7d7d" stroke-width="0.6" fill="none"/>
<path d="M648.1,361.2 C648.2,360.5 650.2,359.5 651.0,359.7 C651.8,359.9 653.1,361.5 653.0,362.2 C652.9,362.9 651.3,364.3 650.5,364.1 C649.7,364.0 648.1,362.0 648.1,361.2Z" stroke="#7d7d7d" stroke-width="0.6" fill="none"/>
<path d="M655.8,355.5 L659.7,365.1" stroke="#7d7d7d" stroke-width="0.6" fill="none"/>
<path d="M663.5,353.5 L667.4,361.2" stroke="#7d7d7d" stroke-width="0.6" fill="none"/>
<path d="M648.1,372.8 L652.0,380.5" stroke="#7d7d7d" stroke-width="0.6" fill="none"/>
<path d="M655.8,367.0 L678.9,357.4" stroke="#7d7d7d" stroke-width="0.6" fill="none"/>
<path d="M657.8,372.8 L682.8,361.2" stroke="#7d7d7d" stroke-width="0.6" fill="none"/>
<path d="M667.4,380.5 C668.4,380.1 671.2,378.2 673.2,378.2 C675.1,378.2 678.0,380.1 678.9,380.5" stroke="#7d7d7d" stroke-width="0.6" fill="none"/>
<path d="M605.8,382.8 L613.5,379.7 L621.2,382.8" stroke="#7d7d7d" stroke-width="0.6" fill="none"/>
<path d="M683.8,361.2 C684.1,358.5 688.4,356.6 692.4,355.5 C696.4,354.4 703.6,353.7 707.8,354.7 C712.0,355.7 716.2,358.9 717.4,361.2 C718.7,363.6 717.8,367.0 715.5,368.9 C713.3,370.9 708.1,372.3 704.0,372.8 C699.8,373.3 693.9,374.0 690.5,372.0 C687.1,370.1 683.4,364.0 683.8,361.2Z" stroke="#7d7d7d" stroke-width="0.6" fill="none"/>
<path d="M688.6,362.2 C688.9,360.4 692.3,359.1 695.3,358.4 C698.4,357.6 704.0,357.1 706.9,357.8 C709.7,358.4 712.0,360.7 712.6,362.2 C713.3,363.7 712.5,365.8 710.7,367.0 C708.9,368.2 704.9,369.0 702.0,369.3 C699.2,369.7 695.6,370.1 693.4,368.9 C691.1,367.8 688.2,364.0 688.6,362.2Z" stroke="#7d7d7d" stroke-width="0.6" fill="none"/>
<path d="M696.3,361.2 C697.2,360.4 701.9,359.4 704.0,359.7 C706.1,360.0 708.8,361.9 708.8,362.8 C708.8,363.7 705.7,364.8 704.0,365.1 C702.2,365.4 699.5,365.4 698.2,364.7 C696.9,364.1 695.3,362.1 696.3,361.2Z" stroke="#7d7d7d" stroke-width="0.6" fill="none"/>
<ellipse cx="685.7" cy="369.9" rx="1.5" ry="1.9" stroke="#7d7d7d" stroke-width="0.6" fill="none"/>
<path d="M682.8,361.2 L678.9,372.8" stroke="#7d7d7d" stroke-width="0.6" fill="none"/>
<path d="M717.4,361.2 L723.2,372.8" stroke="#7d7d7d" stroke-width="0.6" fill="none"/>
<path d="M721.3,357.4 C721.9,355.5 726.7,355.2 729.0,355.5 C731.2,355.8 734.1,357.7 734.8,359.3 C735.4,360.9 734.4,363.8 732.8,365.1 C731.2,366.4 727.1,368.3 725.1,367.0 C723.2,365.7 720.7,359.3 721.3,357.4Z" stroke="#7d7d7d" stroke-width="0.6" fill="none"/>
<path d="M727.1,361.2 C727.2,360.3 730.7,359.4 731.9,359.7 C733.1,360.0 734.5,362.2 734.4,363.2 C734.3,364.1 732.5,365.8 731.3,365.5 C730.1,365.2 727.0,362.2 727.1,361.2Z" stroke="#7d7d7d" stroke-width="0.6" fill="none"/>
<path d="M734.8,355.5 C736.1,355.8 740.5,355.8 742.5,357.4 C744.4,359.0 745.7,363.8 746.3,365.1" stroke="#7d7d7d" stroke-width="0.6" fill="none"/>
<path d="M738.6,365.1 L744.4,380.5" stroke="#7d7d7d" stroke-width="0.6" fill="none"/>
<path d="M736.7,368.9 L749.2,372.8" stroke="#7d7d7d" stroke-width="0.6" fill="none"/>
<path d="M749.2,372.8 L762.7,379.7" stroke="#555" stroke-width="1.4" fill="none"/>
<path d="M709.7,372.8 C710.4,374.1 711.7,378.6 713.6,380.5 C715.5,382.4 720.0,383.4 721.3,384.0" stroke="#7d7d7d" stroke-width="0.6" fill="none"/>
<path d="M700.1,376.6 L709.7,378.6" stroke="#7d7d7d" stroke-width="0.6" fill="none"/>
<path d="M717.4,345.8 L729.0,349.7 L732.8,355.5" stroke="#7d7d7d" stroke-width="0.6" fill="none"/>
<path d="M682.8,340.1 L686.6,349.7" stroke="#7d7d7d" stroke-width="0.6" fill="none"/>
<path d="M692.4,383.7 L858.9,480.3" stroke="#4a4a4a" stroke-width="0.6" fill="none"/>
<path d="M671.2,401.0 L812.7,482.4" stroke="#4a4a4a" stroke-width="0.6" fill="none"/>
<path d="M663.2,431.0 L685.7,431.8" stroke="#4a4a4a" stroke-width="0.6" fill="none"/>
<path d="M662.0,427.0 L663.9,430.5" stroke="#4a4a4a" stroke-width="0.6" fill="none"/>
<path d="M593.3,391.4 L613.5,378.9 L659.7,401.6" stroke="#7d7d7d" stroke-width="0.6" fill="none"/>
<path d="M593.3,391.4 L593.3,400.4" stroke="#7d7d7d" stroke-width="0.6" fill="none"/>
<path d="M593.3,391.4 L632.7,410.1 L655.8,399.1" stroke="#7d7d7d" stroke-width="0.6" fill="none"/>
<path d="M632.7,410.1 L632.7,417.8" stroke="#7d7d7d" stroke-width="0.6" fill="none"/>
<path d="M600.0,394.7 L620.2,383.1" stroke="#7d7d7d" stroke-width="0.6" fill="none"/>
<path d="M620.2,383.1 L655.8,400.4" stroke="#7d7d7d" stroke-width="0.6" fill="none"/>
<ellipse cx="601.9" cy="390.0" rx="0.8" ry="0.6" stroke="#7d7d7d" stroke-width="0.6" fill="none"/>
<ellipse cx="611.6" cy="383.1" rx="0.8" ry="0.6" stroke="#7d7d7d" stroke-width="0.6" fill="none"/>
<ellipse cx="638.5" cy="408.1" rx="0.8" ry="0.6" stroke="#7d7d7d" stroke-width="0.6" fill="none"/>
<ellipse cx="646.6" cy="404.3" rx="0.8" ry="0.6" stroke="#7d7d7d" stroke-width="0.6" fill="none"/>
<path d="M593.3,400.4 L588.5,402.9" stroke="#7d7d7d" stroke-width="0.6" fill="none"/>
<path d="M588.5,402.9 C587.2,403.7 582.9,405.0 580.8,407.7 C578.7,410.5 576.9,415.4 576.0,419.3 C575.0,423.1 575.2,428.9 575.0,430.8" stroke="#7d7d7d" stroke-width="0.6" fill="none"/>
<path d="M598.1,402.9 C599.1,403.3 602.6,404.1 603.9,404.9 C605.2,405.7 605.5,407.3 605.8,407.7" stroke="#7d7d7d" stroke-width="0.6" fill="none"/>
<path d="M600.0,402.9 C602.3,403.7 608.7,405.3 613.5,407.7 C618.3,410.2 624.4,413.5 628.9,417.4 C633.4,421.2 637.2,425.4 640.4,430.8 C643.7,436.3 646.5,443.7 648.1,450.1 C649.8,456.4 650.1,465.8 650.5,469.0" stroke="#7d7d7d" stroke-width="0.6" fill="none"/>
<path d="M623.1,417.4 C625.0,419.3 631.5,424.1 634.7,428.9 C637.9,433.7 640.7,440.2 642.4,446.2 C644.0,452.3 644.3,462.3 644.7,465.5" stroke="#7d7d7d" stroke-width="0.6" fill="none"/>
<path d="M632.7,417.8 L655.8,427.0" stroke="#7d7d7d" stroke-width="0.6" fill="none"/>
<path d="M655.8,400.4 L655.8,427.0" stroke="#7d7d7d" stroke-width="0.6" fill="none"/>
<path d="M623.1,417.4 C622.8,419.6 620.8,426.0 621.2,430.8 C621.6,435.7 622.9,441.8 625.4,446.2 C628.0,450.7 632.8,455.2 636.6,457.8 C640.4,460.4 646.2,461.0 648.1,461.6" stroke="#7d7d7d" stroke-width="0.6" fill="none"/>
<path d="M627.0,421.6 C626.7,423.5 625.0,428.7 625.4,432.8 C625.8,436.9 627.1,442.5 629.3,446.2 C631.5,450.0 637.0,453.9 638.5,455.5" stroke="#7d7d7d" stroke-width="0.6" fill="none"/>
<path d="M632.0,427.0 C632.7,428.3 635.2,431.5 636.6,434.7 C638.0,437.9 639.8,444.3 640.4,446.2" stroke="#7d7d7d" stroke-width="0.6" fill="none"/>
<ellipse cx="617.7" cy="433.7" rx="1.9" ry="2.3" stroke="#7d7d7d" stroke-width="0.6" fill="none"/>
<ellipse cx="622.0" cy="443.4" rx="1.9" ry="2.3" stroke="#7d7d7d" stroke-width="0.6" fill="none"/>
<ellipse cx="624.7" cy="450.1" rx="1.9" ry="2.3" stroke="#7d7d7d" stroke-width="0.6" fill="none"/>
<ellipse cx="635.8" cy="457.4" rx="1.9" ry="2.3" stroke="#7d7d7d" stroke-width="0.6" fill="none"/>
<ellipse cx="647.4" cy="457.8" rx="1.5" ry="1.9" stroke="#7d7d7d" stroke-width="0.6" fill="none"/>
<ellipse cx="646.6" cy="465.5" rx="1.5" ry="1.9" stroke="#7d7d7d" stroke-width="0.6" fill="none"/>
<ellipse cx="616.6" cy="422.2" rx="1.2" ry="1.3" stroke="#7d7d7d" stroke-width="0.6" fill="none"/>
<ellipse cx="611.6" cy="421.2" rx="1.0" ry="1.2" stroke="#7d7d7d" stroke-width="0.6" fill="none"/>
<path d="M603.9,415.4 L609.6,419.3" stroke="#7d7d7d" stroke-width="0.6" fill="none"/>
<path d="M607.7,407.7 L610.6,411.6" stroke="#7d7d7d" stroke-width="0.6" fill="none"/>
<path d="M603.9,404.3 L605.4,407.0" stroke="#555555" stroke-width="0.7" fill="none"/>
<path d="M654.9,400.4 C655.2,398.8 657.9,398.1 659.7,398.1 C661.5,398.1 664.2,399.1 665.5,400.4 C666.8,401.7 667.7,404.4 667.4,405.8 C667.1,407.2 665.5,408.4 663.9,408.7 C662.3,409.0 659.3,409.1 657.8,407.7 C656.3,406.4 654.6,402.0 654.9,400.4Z" stroke="#7d7d7d" stroke-width="0.6" fill="none"/>
<ellipse cx="663.9" cy="402.0" rx="2.3" ry="1.9" stroke="#7d7d7d" stroke-width="0.6" fill="none"/>
<path d="M655.8,409.7 C656.4,408.5 659.3,407.9 660.7,408.1 C662.0,408.4 663.7,410.0 663.9,411.2 C664.2,412.4 663.1,414.8 662.0,415.4 C660.9,416.1 658.4,416.0 657.4,415.1 C656.4,414.1 655.3,410.8 655.8,409.7Z" stroke="#7d7d7d" stroke-width="0.6" fill="none"/>
<ellipse cx="662.6" cy="412.0" rx="1.5" ry="1.9" stroke="#7d7d7d" stroke-width="0.6" fill="none"/>
<path d="M655.8,427.0 L663.5,430.8" stroke="#7d7d7d" stroke-width="0.6" fill="none"/>
<path d="M659.7,416.4 L662.0,427.0" stroke="#7d7d7d" stroke-width="0.6" fill="none"/>
<path d="M667.4,405.8 L682.8,398.1" stroke="#7d7d7d" stroke-width="0.6" fill="none"/>
<path d="M669.3,413.5 L698.2,399.7" stroke="#7d7d7d" stroke-width="0.6" fill="none"/>
<path d="M667.4,434.7 L709.7,413.5" stroke="#7d7d7d" stroke-width="0.6" fill="none"/>
<path d="M665.5,430.8 L667.4,465.5" stroke="#7d7d7d" stroke-width="0.6" fill="none"/>
<path d="M667.4,465.5 L717.8,440.5" stroke="#7d7d7d" stroke-width="0.6" fill="none"/>
<path d="M717.8,430.8 L717.8,440.5" stroke="#7d7d7d" stroke-width="0.6" fill="none"/>
<path d="M692.4,440.5 L694.3,457.8" stroke="#7d7d7d" stroke-width="0.6" fill="none"/>
<path d="M671.2,440.5 L684.7,433.9 L685.7,440.5 L672.2,447.2Z" stroke="#7d7d7d" stroke-width="0.6" fill="none"/>
<path d="M690.5,431.8 L707.8,423.5 L708.6,429.9 L691.5,438.2Z" stroke="#7d7d7d" stroke-width="0.6" fill="none"/>
<path d="M672.2,450.1 L684.7,443.9 L685.5,450.1 L673.2,456.3Z" stroke="#7d7d7d" stroke-width="0.6" fill="none"/>
<path d="M692.4,441.4 L709.7,433.2 L710.5,438.9 L693.2,447.2Z" stroke="#7d7d7d" stroke-width="0.6" fill="none"/>
<path d="M675.1,442.4 C675.1,441.7 677.8,440.5 678.9,440.5 C680.1,440.5 682.0,441.7 682.0,442.4 C682.0,443.1 680.1,444.7 678.9,444.7 C677.8,444.7 675.1,443.1 675.1,442.4Z" stroke="#7d7d7d" stroke-width="0.6" fill="none"/>
<path d="M695.3,435.7 C695.6,434.9 700.4,432.9 702.0,432.8 C703.7,432.6 705.4,433.9 705.1,434.7 C704.8,435.5 701.8,437.4 700.1,437.6 C698.5,437.7 695.0,436.5 695.3,435.7Z" stroke="#7d7d7d" stroke-width="0.6" fill="none"/>
<path d="M696.3,444.7 C696.9,443.9 702.2,441.4 704.0,441.2 C705.7,441.0 707.3,442.7 706.7,443.6 C706.0,444.4 701.9,446.1 700.1,446.2 C698.4,446.4 695.6,445.5 696.3,444.7Z" stroke="#7d7d7d" stroke-width="0.6" fill="none"/>
<path d="M671.2,457.8 L682.8,452.0 L684.0,457.8 L673.2,463.6Z" stroke="#7d7d7d" stroke-width="0.6" fill="none"/>
<path d="M682.8,450.1 L683.2,457.8" stroke="#7d7d7d" stroke-width="0.6" fill="none"/>
<path d="M678.9,452.0 C679.1,451.1 681.3,450.5 682.0,450.9 C682.8,451.2 683.7,453.0 683.6,453.9 C683.4,454.8 682.0,456.6 681.3,456.3 C680.5,455.9 678.8,452.9 678.9,452.0Z" stroke="#7d7d7d" stroke-width="0.6" fill="none"/>
<path d="M709.7,427.0 L717.4,430.8" stroke="#7d7d7d" stroke-width="0.6" fill="none"/>
<path d="M713.6,434.7 L717.4,432.8" stroke="#7d7d7d" stroke-width="0.6" fill="none"/>
<path d="M667.4,425.1 L678.9,419.3" stroke="#7d7d7d" stroke-width="0.6" fill="none"/>
<path d="M675.1,421.2 L676.1,427.0" stroke="#7d7d7d" stroke-width="0.6" fill="none"/>
<path d="M680.5,421.6 C680.5,421.0 682.1,420.3 682.8,420.5 C683.5,420.6 684.7,421.7 684.7,422.4 C684.7,423.0 683.5,424.4 682.8,424.3 C682.1,424.2 680.5,422.2 680.5,421.6Z" stroke="#7d7d7d" stroke-width="0.6" fill="none"/>
<path d="M688.6,417.8 C688.7,417.1 691.4,416.1 692.4,416.2 C693.4,416.3 694.9,417.8 694.7,418.5 C694.6,419.2 692.7,420.6 691.7,420.5 C690.6,420.3 688.4,418.5 688.6,417.8Z" stroke="#7d7d7d" stroke-width="0.6" fill="none"/>
<path d="M678.9,388.5 L682.8,398.1" stroke="#7d7d7d" stroke-width="0.6" fill="none"/>
<path d="M682.8,388.5 L690.5,386.6 L698.2,400.0" stroke="#7d7d7d" stroke-width="0.6" fill="none"/>
<path d="M690.5,386.6 L702.0,390.4 L707.8,403.9" stroke="#7d7d7d" stroke-width="0.6" fill="none"/>
<path d="M682.8,398.1 L686.6,407.7" stroke="#7d7d7d" stroke-width="0.6" fill="none"/>
<path d="M694.3,407.7 L698.2,413.5" stroke="#7d7d7d" stroke-width="0.6" fill="none"/>
<ellipse cx="718.4" cy="410.1" rx="10.0" ry="11.2" transform="rotate(-20 718.4 410.1)" stroke="#7d7d7d" stroke-width="0.6" fill="none"/>
<ellipse cx="718.4" cy="410.1" rx="5.0" ry="5.8" transform="rotate(-20 718.4 410.1)" stroke="#7d7d7d" stroke-width="0.6" fill="none"/>
<path d="M709.7,417.4 L707.8,423.1 L721.3,427.0" stroke="#7d7d7d" stroke-width="0.6" fill="none"/>
<path d="M727.1,417.4 L729.0,425.1 L721.3,427.0" stroke="#7d7d7d" stroke-width="0.6" fill="none"/>
<path d="M702.0,413.5 L709.7,417.4" stroke="#7d7d7d" stroke-width="0.6" fill="none"/>
<ellipse cx="761.3" cy="397.7" rx="7.3" ry="10.8" transform="rotate(15 761.3 397.7)" stroke="#7d7d7d" stroke-width="0.6" fill="none"/>
<ellipse cx="760.2" cy="398.1" rx="5.0" ry="7.7" transform="rotate(15 760.2 398.1)" stroke="#7d7d7d" stroke-width="0.6" fill="none"/>
<path d="M749.2,390.4 L757.9,387.3" stroke="#7d7d7d" stroke-width="0.6" fill="none"/>
<path d="M749.2,405.8 L755.9,407.7" stroke="#7d7d7d" stroke-width="0.6" fill="none"/>
<path d="M749.2,390.4 C748.9,391.7 747.5,395.6 747.5,398.1 C747.5,400.7 748.9,404.5 749.2,405.8" stroke="#7d7d7d" stroke-width="0.6" fill="none"/>
<path d="M732.8,394.3 L749.2,390.4" stroke="#7d7d7d" stroke-width="0.6" fill="none"/>
<path d="M734.8,398.1 L748.2,405.8" stroke="#7d7d7d" stroke-width="0.6" fill="none"/>
<path d="M736.7,376.9 C737.0,371.5 739.3,374.7 740.5,375.0 C741.8,375.3 743.6,373.7 744.4,378.9 C745.2,384.0 745.5,400.7 745.2,405.8 C744.8,411.0 743.6,409.4 742.5,409.7 C741.4,410.0 739.6,413.2 738.6,407.7 C737.7,402.3 736.4,382.4 736.7,376.9Z" stroke="#7d7d7d" stroke-width="0.6" fill="none"/>
<path d="M739.8,380.8 L740.5,405.8" stroke="#7d7d7d" stroke-width="0.6" fill="none"/>
<ellipse cx="740.2" cy="406.2" rx="1.3" ry="1.5" stroke="#7d7d7d" stroke-width="0.6" fill="none"/>
<path d="M729.0,402.0 L734.8,413.5" stroke="#7d7d7d" stroke-width="0.6" fill="none"/>
<path d="M725.1,398.1 L738.6,407.7" stroke="#7d7d7d" stroke-width="0.6" fill="none"/>
<path d="M667.4,375.0 L682.8,382.7 L682.8,388.5" stroke="#7d7d7d" stroke-width="0.6" fill="none"/>
<path d="M659.7,382.7 L667.4,388.5" stroke="#7d7d7d" stroke-width="0.6" fill="none"/>
<path d="M659.7,378.9 C660.1,377.6 662.6,376.8 663.9,376.9 C665.2,377.1 667.1,378.6 667.4,379.8 C667.7,381.1 666.5,383.5 665.5,384.3 C664.4,385.1 662.2,385.5 661.2,384.6 C660.3,383.8 659.2,380.2 659.7,378.9Z" stroke="#7d7d7d" stroke-width="0.6" fill="none"/>
<ellipse cx="665.1" cy="381.8" rx="1.9" ry="2.3" stroke="#7d7d7d" stroke-width="0.6" fill="none"/>
<ellipse cx="670.9" cy="383.1" rx="1.5" ry="1.9" stroke="#7d7d7d" stroke-width="0.6" fill="none"/>
<path d="M682.8,382.7 L698.2,376.9" stroke="#7d7d7d" stroke-width="0.6" fill="none"/>
<path d="M692.4,384.6 L702.0,380.8" stroke="#7d7d7d" stroke-width="0.6" fill="none"/>
<path d="M707.8,369.2 C708.8,370.2 712.0,372.5 713.6,375.0 C715.2,377.6 716.8,383.0 717.4,384.6" stroke="#7d7d7d" stroke-width="0.6" fill="none"/>
<path d="M717.4,369.2 C718.1,370.5 720.3,374.1 721.3,376.9 C722.3,379.8 722.9,385.0 723.2,386.6" stroke="#7d7d7d" stroke-width="0.6" fill="none"/>
<path d="M698.2,376.9 L709.7,388.5" stroke="#7d7d7d" stroke-width="0.6" fill="none"/>
<path d="M709.7,388.5 L729.0,394.3" stroke="#7d7d7d" stroke-width="0.6" fill="none"/>
<path d="M723.2,367.3 C723.9,365.1 727.4,365.1 729.0,365.4 C730.6,365.7 732.5,367.3 732.8,369.2 C733.2,371.2 732.6,375.3 731.3,376.9 C730.0,378.6 726.5,380.5 725.1,378.9 C723.8,377.3 722.6,369.6 723.2,367.3Z" stroke="#7d7d7d" stroke-width="0.6" fill="none"/>
<path d="M775.0,355.8 L759.8,363.5 L749.2,357.7" stroke="#7d7d7d" stroke-width="0.6" fill="none"/>
<path d="M759.8,363.5 L767.5,355.8" stroke="#7d7d7d" stroke-width="0.6" fill="none"/>
<path d="M685.7,431.5 L699.2,499.9 L723.2,498.0" stroke="#4a4a4a" stroke-width="0.6" fill="none"/>
<path d="M647.4,477.7 L652.0,489.7 L665.5,485.8 L665.5,480.1 L678.9,474.3 L678.9,468.5 L714.0,456.6 L714.0,445.0" stroke="#7d7d7d" stroke-width="0.6" fill="none"/>
<path d="M650.5,468.1 L652.0,489.7" stroke="#7d7d7d" stroke-width="0.6" fill="none"/>
<path d="M650.5,468.1 L678.9,456.6" stroke="#7d7d7d" stroke-width="0.6" fill="none"/>
<path d="M652.0,477.7 L678.9,466.2" stroke="#7d7d7d" stroke-width="0.6" fill="none"/>
<path d="M678.9,456.6 L714.0,443.1" stroke="#7d7d7d" stroke-width="0.6" fill="none"/>
<path d="M665.5,473.9 L665.9,480.1" stroke="#7d7d7d" stroke-width="0.6" fill="none"/>
<path d="M675.1,470.4 L675.5,475.8" stroke="#7d7d7d" stroke-width="0.6" fill="none"/>
<ellipse cx="603.9" cy="481.6" rx="0.8" ry="0.8" stroke="#7d7d7d" stroke-width="0.6" fill="none"/>
<ellipse cx="622.4" cy="492.4" rx="0.8" ry="0.8" stroke="#7d7d7d" stroke-width="0.6" fill="none"/>
<ellipse cx="638.5" cy="489.7" rx="0.8" ry="0.8" stroke="#7d7d7d" stroke-width="0.6" fill="none"/>
<ellipse cx="588.9" cy="461.6" rx="0.8" ry="0.8" stroke="#7d7d7d" stroke-width="0.6" fill="none"/>
<ellipse cx="659.7" cy="470.4" rx="0.8" ry="0.6" stroke="#7d7d7d" stroke-width="0.6" fill="none"/>
<ellipse cx="659.7" cy="483.5" rx="0.8" ry="0.6" stroke="#7d7d7d" stroke-width="0.6" fill="none"/>
<ellipse cx="669.7" cy="477.7" rx="1.0" ry="1.2" stroke="#7d7d7d" stroke-width="0.6" fill="none"/>
<path d="M669.3,474.3 C669.9,473.2 671.5,472.6 672.2,473.1 C672.9,473.7 673.7,476.4 673.6,477.7 C673.4,479.1 672.0,480.9 671.2,481.2 C670.5,481.5 669.3,480.8 668.9,479.7 C668.6,478.5 668.8,475.4 669.3,474.3Z" stroke="#7d7d7d" stroke-width="0.6" fill="none"/>
<path d="M723.2,485.4 L742.1,475.2" stroke="#999" stroke-width="0.8" fill="none"/>
<path d="M729.4,500.8 L729.4,525.5" stroke="#222" stroke-width="0.9" fill="none"/>
<path d="M611.6,334.1 L623.3,327.1 L634.9,332.9 L622.1,341.0Z" stroke="#7d7d7d" stroke-width="0.6" fill="none"/>
<path d="M611.6,334.1 L611.6,339.9" stroke="#7d7d7d" stroke-width="0.6" fill="none"/>
<path d="M622.1,341.0 L622.3,346.9" stroke="#7d7d7d" stroke-width="0.6" fill="none"/>
<path d="M634.9,332.9 L644.2,329.4" stroke="#7d7d7d" stroke-width="0.6" fill="none"/>
<path d="M622.1,328.3 C622.4,327.4 624.1,327.0 624.9,327.1 C625.7,327.2 626.8,328.1 627.0,329.0 C627.1,329.8 626.5,331.4 625.8,332.0 C625.2,332.6 623.6,333.1 623.0,332.4 C622.4,331.8 621.8,329.1 622.1,328.3Z" stroke="#626262" stroke-width="0.7" fill="#aaa"/>
<path d="M622.8,330.1 L626.7,329.9" stroke="#555" stroke-width="0.75" fill="none"/>
<path d="M619.8,334.1 C619.7,333.3 622.9,332.0 624.4,332.0 C626.0,332.0 629.0,333.3 629.1,334.1 C629.1,334.8 626.4,336.6 624.9,336.6 C623.3,336.6 619.8,334.8 619.8,334.1Z" stroke="#7d7d7d" stroke-width="0.6" fill="none"/>
<path d="M608.1,342.2 C608.4,341.4 610.2,340.5 611.2,340.6 C612.1,340.6 613.5,341.7 613.7,342.4 C614.0,343.2 613.3,344.7 612.6,345.2 C611.9,345.8 610.3,346.2 609.5,345.7 C608.8,345.2 607.9,343.1 608.1,342.2Z" stroke="#555" stroke-width="0.7" fill="none"/>
<path d="M608.8,343.4 L613.3,342.9" stroke="#626262" stroke-width="0.75" fill="none"/>
<path d="M605.8,344.5 L606.5,351.5 L614.0,356.2" stroke="#7d7d7d" stroke-width="0.6" fill="none"/>
<path d="M614.0,343.4 L617.4,345.7 L617.4,353.8" stroke="#7d7d7d" stroke-width="0.6" fill="none"/>
<path d="M626.7,345.7 L627.4,359.7" stroke="#555" stroke-width="0.86" fill="none"/>
<path d="M629.1,344.5 L629.8,358.5" stroke="#666" stroke-width="0.7" fill="none"/>
<path d="M625.8,349.2 L630.5,348.7" stroke="#555" stroke-width="0.7" fill="none"/>
<path d="M626.0,353.8 L630.7,353.4" stroke="#555" stroke-width="0.7" fill="none"/>
<path d="M618.6,348.0 C618.9,347.2 621.3,346.7 622.1,347.1 C622.9,347.5 623.5,349.5 623.3,350.3 C623.0,351.2 621.2,352.4 620.5,352.0 C619.7,351.6 618.3,348.8 618.6,348.0Z" stroke="#7d7d7d" stroke-width="0.6" fill="none"/>
<path d="M611.6,353.8 L626.7,360.8" stroke="#7d7d7d" stroke-width="0.6" fill="none"/>
<path d="M608.1,363.1 L608.8,372.4 L617.4,377.0" stroke="#7d7d7d" stroke-width="0.6" fill="none"/>
<path d="M611.6,363.1 L612.1,373.6" stroke="#7d7d7d" stroke-width="0.6" fill="none"/>
<path d="M616.3,365.0 L616.7,374.8" stroke="#7d7d7d" stroke-width="0.6" fill="none"/>
<path d="M608.1,363.1 L627.9,370.1" stroke="#7d7d7d" stroke-width="0.6" fill="none"/>
<path d="M632.6,342.2 L648.8,349.2 L668.6,338.7" stroke="#7d7d7d" stroke-width="0.6" fill="none"/>
<path d="M632.6,342.2 L632.8,351.5" stroke="#7d7d7d" stroke-width="0.6" fill="none"/>
<path d="M648.8,349.2 L649.3,356.2" stroke="#7d7d7d" stroke-width="0.6" fill="none"/>
<path d="M632.8,351.5 L649.3,358.5" stroke="#7d7d7d" stroke-width="0.6" fill="none"/>
<path d="M668.6,338.7 L669.1,345.7" stroke="#7d7d7d" stroke-width="0.6" fill="none"/>
<path d="M638.4,330.1 L653.5,329.4" stroke="#7d7d7d" stroke-width="0.6" fill="none"/>
<path d="M653.5,329.4 L681.4,314.3" stroke="#7d7d7d" stroke-width="0.6" fill="none"/>
<path d="M668.6,338.7 L696.5,322.4" stroke="#7d7d7d" stroke-width="0.6" fill="none"/>
<path d="M681.4,314.3 L696.5,321.3 L696.5,328.3" stroke="#7d7d7d" stroke-width="0.6" fill="none"/>
<path d="M670.5,316.6 C670.8,315.9 672.3,314.9 673.3,314.8 C674.2,314.6 676.1,315.1 676.3,315.7 C676.5,316.3 675.3,317.7 674.4,318.3 C673.6,318.8 671.8,319.5 671.2,319.2 C670.5,318.9 670.1,317.4 670.5,316.6Z" stroke="#7d7d7d" stroke-width="0.6" fill="none"/>
<ellipse cx="654.7" cy="334.8" rx="7.7" ry="4.2" transform="rotate(-8 654.7 334.8)" stroke="#7d7d7d" stroke-width="0.6" fill="none"/>
<ellipse cx="654.7" cy="334.1" rx="7.0" ry="3.5" transform="rotate(-8 654.7 334.1)" stroke="#666" stroke-width="0.6" fill="none"/>
<path d="M646.0,333.6 C646.4,332.8 648.1,332.6 648.8,332.9 C649.6,333.2 650.6,334.6 650.7,335.5 C650.8,336.3 650.0,337.7 649.3,338.0 C648.6,338.4 647.3,338.3 646.7,337.6 C646.2,336.8 645.7,334.4 646.0,333.6Z" stroke="#626262" stroke-width="0.7" fill="none"/>
<path d="M660.9,332.9 C661.3,332.2 663.0,332.1 663.7,332.4 C664.4,332.8 665.1,334.0 665.1,334.8 C665.1,335.5 664.3,336.6 663.7,336.9 C663.1,337.1 661.9,337.1 661.4,336.4 C660.9,335.7 660.5,333.6 660.9,332.9Z" stroke="#626262" stroke-width="0.7" fill="none"/>
<path d="M648.8,341.0 C649.4,340.3 651.2,339.4 652.3,339.4 C653.4,339.4 655.0,340.2 655.3,341.0 C655.7,341.9 655.3,343.7 654.7,344.5 C654.0,345.3 652.1,346.0 651.2,345.9 C650.2,345.9 649.2,344.9 648.8,344.1 C648.4,343.3 648.3,341.8 648.8,341.0Z" stroke="#626262" stroke-width="0.7" fill="none"/>
<path d="M650.0,342.2 L654.4,343.4" stroke="#555" stroke-width="0.79" fill="none"/>
<path d="M647.4,325.9 C647.8,325.4 649.3,325.1 650.0,325.2 C650.7,325.4 651.6,326.3 651.6,326.9 C651.6,327.4 650.6,328.5 650.0,328.7 C649.4,329.0 648.3,328.7 647.9,328.3 C647.5,327.8 647.1,326.4 647.4,325.9Z" stroke="#626262" stroke-width="0.7" fill="#999"/>
<path d="M667.4,332.4 C667.8,331.7 669.6,331.1 670.5,331.3 C671.3,331.4 672.5,332.6 672.6,333.4 C672.6,334.1 671.7,335.6 670.9,335.9 C670.2,336.3 668.7,336.0 668.1,335.5 C667.6,334.9 667.1,333.1 667.4,332.4Z" stroke="#626262" stroke-width="0.7" fill="none"/>
<path d="M668.1,333.6 L672.1,334.5" stroke="#555" stroke-width="0.75" fill="none"/>
<path d="M664.0,343.4 C664.2,342.8 665.3,342.0 665.8,342.2 C666.3,342.4 667.0,343.8 667.0,344.5 C667.0,345.3 666.3,346.6 665.8,346.9 C665.3,347.1 664.5,346.5 664.2,345.9 C663.9,345.3 663.7,344.0 664.0,343.4Z" stroke="#626262" stroke-width="0.7" fill="none"/>
<path d="M660.5,339.9 L660.9,351.5" stroke="#7d7d7d" stroke-width="0.6" fill="none"/>
<path d="M663.7,338.7 L664.2,350.3" stroke="#7d7d7d" stroke-width="0.6" fill="none"/>
<path d="M651.2,358.5 L704.7,334.1" stroke="#666" stroke-width="0.7" fill="none"/>
<path d="M654.7,362.0 L707.0,338.7" stroke="#666" stroke-width="0.7" fill="none"/>
<path d="M658.1,356.2 L661.6,359.7" stroke="#626262" stroke-width="0.79" fill="none"/>
<path d="M665.1,352.7 L668.6,356.2" stroke="#626262" stroke-width="0.79" fill="none"/>
<path d="M672.1,349.2 L675.6,352.9" stroke="#626262" stroke-width="0.79" fill="none"/>
<path d="M679.1,345.7 L682.6,349.4" stroke="#626262" stroke-width="0.79" fill="none"/>
<path d="M686.0,342.4 L689.5,346.2" stroke="#626262" stroke-width="0.79" fill="none"/>
<path d="M659.3,354.3 C659.7,353.7 661.4,353.0 662.1,353.1 C662.8,353.3 663.7,354.5 663.7,355.2 C663.7,355.9 662.8,357.1 662.1,357.3 C661.4,357.6 660.2,357.4 659.8,356.9 C659.3,356.4 658.9,354.9 659.3,354.3Z" stroke="#555" stroke-width="0.7" fill="none"/>
<path d="M675.6,347.6 C676.0,346.9 677.8,346.0 678.6,346.2 C679.4,346.3 680.2,347.5 680.2,348.3 C680.2,349.0 679.3,350.3 678.6,350.6 C677.9,350.9 676.6,350.6 676.0,350.1 C675.5,349.6 675.2,348.2 675.6,347.6Z" stroke="#555" stroke-width="0.7" fill="none"/>
<path d="M681.4,351.5 C681.8,350.9 683.6,350.0 684.4,350.1 C685.2,350.2 686.2,351.5 686.3,352.2 C686.3,352.9 685.4,354.2 684.7,354.5 C683.9,354.8 682.4,354.6 681.9,354.1 C681.3,353.6 681.0,352.2 681.4,351.5Z" stroke="#555" stroke-width="0.7" fill="none"/>
<path d="M669.8,357.3 C670.2,356.7 672.0,356.0 672.8,356.2 C673.6,356.3 674.4,357.6 674.4,358.3 C674.4,359.0 673.5,360.1 672.8,360.3 C672.1,360.6 670.7,360.4 670.2,359.9 C669.7,359.4 669.3,357.9 669.8,357.3Z" stroke="#555" stroke-width="0.7" fill="none"/>
<path d="M664.7,359.7 L669.8,363.1" stroke="#555" stroke-width="0.7" fill="none"/>
<path d="M674.4,355.0 L680.2,358.5" stroke="#555" stroke-width="0.7" fill="none"/>
<path d="M683.7,349.2 L689.5,353.8" stroke="#555" stroke-width="0.7" fill="none"/>
<path d="M693.0,331.7 C693.5,330.6 695.9,330.1 697.2,330.1 C698.5,330.2 700.2,331.1 700.9,332.0 C701.6,332.9 701.8,334.5 701.4,335.5 C701.0,336.4 699.5,337.5 698.4,337.8 C697.2,338.1 695.3,338.1 694.4,337.1 C693.5,336.1 692.6,332.9 693.0,331.7Z" stroke="#626262" stroke-width="0.7" fill="none"/>
<path d="M693.7,339.9 C694.1,338.6 696.0,338.5 697.2,338.5 C698.4,338.5 700.0,338.9 700.7,339.9 C701.4,340.9 701.8,343.3 701.4,344.5 C701.0,345.8 699.5,347.0 698.4,347.3 C697.2,347.6 695.4,347.6 694.7,346.4 C693.9,345.2 693.3,341.2 693.7,339.9Z" stroke="#555" stroke-width="0.7" fill="none"/>
<ellipse cx="697.4" cy="343.4" rx="2.3" ry="2.8" stroke="#555" stroke-width="0.75" fill="#bbb"/>
<path d="M694.4,333.6 L700.7,334.1" stroke="#555" stroke-width="0.75" fill="none"/>
<path d="M696.0,322.4 L696.7,331.7" stroke="#666" stroke-width="0.7" fill="none"/>
<path d="M698.8,321.3 L699.5,330.6" stroke="#777" stroke-width="0.7" fill="none"/>
<path d="M702.3,336.4 C702.7,335.5 704.8,335.2 705.8,335.5 C706.8,335.7 708.0,337.1 708.1,338.0 C708.3,339.0 707.3,340.6 706.5,341.0 C705.7,341.5 704.2,341.4 703.5,340.6 C702.8,339.8 701.9,337.2 702.3,336.4Z" stroke="#555" stroke-width="0.7" fill="none"/>
<path d="M704.7,319.0 L716.3,328.3" stroke="#626262" stroke-width="0.75" fill="none"/>
<path d="M700.0,316.6 L715.1,329.4" stroke="#666" stroke-width="0.7" fill="none"/>
<path d="M711.6,324.8 C712.2,324.6 714.1,323.3 715.1,323.6 C716.1,323.9 717.2,325.3 717.4,326.6 C717.6,328.0 716.5,330.9 716.3,331.7" stroke="#626262" stroke-width="0.7" fill="none"/>
<path d="M710.5,337.6 C710.9,336.4 713.0,336.1 714.0,336.4 C714.9,336.7 716.1,338.3 716.3,339.4 C716.4,340.6 715.7,342.7 714.9,343.4 C714.1,344.0 712.4,344.3 711.6,343.4 C710.9,342.4 710.1,338.7 710.5,337.6Z" stroke="#555" stroke-width="0.7" fill="none"/>
<path d="M709.3,345.7 L717.4,351.5" stroke="#555" stroke-width="0.7" fill="none"/>
<path d="M704.7,307.3 C705.1,306.4 707.2,306.0 708.1,306.2 C709.1,306.4 710.1,307.5 710.2,308.5 C710.3,309.5 709.6,311.4 708.8,312.0 C708.1,312.6 706.3,312.8 705.6,312.0 C704.9,311.2 704.2,308.3 704.7,307.3Z" stroke="#626262" stroke-width="0.7" fill="none"/>
<path d="M705.3,309.0 L709.8,309.7" stroke="#555" stroke-width="0.79" fill="none"/>
<path d="M680.2,306.2 C680.5,305.3 682.3,304.9 683.3,305.0 C684.2,305.1 685.8,306.0 686.0,306.9 C686.3,307.7 685.7,309.5 684.9,310.1 C684.1,310.7 682.2,311.0 681.4,310.3 C680.6,309.7 679.9,307.1 680.2,306.2Z" stroke="#555" stroke-width="0.7" fill="none"/>
<path d="M690.7,308.5 L716.3,321.3" stroke="#7d7d7d" stroke-width="0.6" fill="none"/>
<path d="M693.0,306.2 L720.0,320.1" stroke="#7d7d7d" stroke-width="0.6" fill="none"/>
<path d="M683.7,359.7 C684.9,357.7 689.5,355.0 693.0,353.8 C696.5,352.7 701.0,352.3 704.7,352.7 C708.3,353.1 713.2,354.4 715.1,356.2 C717.1,357.9 717.6,361.2 716.3,363.1 C714.9,365.1 710.5,367.0 707.0,367.8 C703.5,368.6 698.8,368.2 695.3,367.8 C691.9,367.4 688.0,366.8 686.0,365.5 C684.1,364.1 682.6,361.6 683.7,359.7Z" stroke="#7d7d7d" stroke-width="0.6" fill="none"/>
<path d="M691.9,359.7 C692.6,358.2 696.3,356.4 698.8,355.7 C701.4,355.0 704.8,355.0 707.0,355.7 C709.1,356.4 711.2,358.2 711.6,359.7 C712.0,361.1 711.0,363.3 709.3,364.3 C707.6,365.3 703.7,365.5 701.2,365.5 C698.6,365.5 695.7,365.3 694.2,364.3 C692.6,363.3 691.1,361.1 691.9,359.7Z" stroke="#7d7d7d" stroke-width="0.6" fill="none"/>
<path d="M698.8,362.0 L704.7,362.7" stroke="#555" stroke-width="0.7" fill="none"/>
<ellipse cx="686.3" cy="369.7" rx="2.1" ry="2.3" stroke="#555" stroke-width="0.75" fill="#ccc"/>
<ellipse cx="686.3" cy="369.7" rx="0.9" ry="1.2" stroke="#555" stroke-width="0.7" fill="none"/>
<path d="M683.7,359.7 L681.4,367.8" stroke="#7d7d7d" stroke-width="0.6" fill="none"/>
<ellipse cx="636.0" cy="372.4" rx="4.2" ry="5.1" stroke="#555" stroke-width="0.8" fill="none"/>
<ellipse cx="636.0" cy="372.4" rx="2.8" ry="3.5" stroke="#666" stroke-width="0.7" fill="none"/>
<ellipse cx="661.6" cy="365.0" rx="2.6" ry="3.0" stroke="#626262" stroke-width="0.9" fill="none"/>
<ellipse cx="661.6" cy="365.0" rx="1.4" ry="1.6" stroke="#555" stroke-width="0.7" fill="none"/>
<path d="M638.4,360.8 L641.4,362.2" stroke="#626262" stroke-width="0.79" fill="none"/>
<path d="M646.5,365.5 C646.9,364.6 649.0,363.7 650.0,363.8 C651.0,364.0 652.2,365.3 652.3,366.2 C652.4,367.1 651.5,368.7 650.7,369.2 C649.9,369.7 648.1,369.8 647.4,369.2 C646.7,368.6 646.1,366.4 646.5,365.5Z" stroke="#555" stroke-width="0.7" fill="none"/>
<path d="M644.2,370.1 L646.5,377.0" stroke="#666" stroke-width="0.7" fill="none"/>
<path d="M653.5,370.1 L655.3,377.0" stroke="#666" stroke-width="0.7" fill="none"/>
<path d="M664.2,370.1 L664.7,377.0" stroke="#555" stroke-width="0.7" fill="none"/>
<path d="M627.9,370.1 L651.2,359.7" stroke="#7d7d7d" stroke-width="0.6" fill="none"/>
<path d="M629.1,374.8 L633.7,372.4" stroke="#7d7d7d" stroke-width="0.6" fill="none"/>
<path d="M738.3,280.0 C739.3,280.4 742.9,280.2 744.7,282.6 C746.4,284.9 748.6,289.9 748.8,294.0 C749.1,298.0 747.3,303.4 746.0,306.7 C744.8,310.1 742.0,312.8 741.2,314.0" stroke="#7d7d7d" stroke-width="0.6" fill="none"/>
<path d="M716.2,280.0 C717.4,281.7 721.7,286.8 723.7,290.5 C725.8,294.1 727.6,300.2 728.4,302.1" stroke="#7d7d7d" stroke-width="0.6" fill="none"/>
<path d="M721.2,280.0 C722.0,281.9 724.7,287.8 726.0,291.6 C727.4,295.5 729.0,301.3 729.5,303.3" stroke="#7d7d7d" stroke-width="0.6" fill="none"/>
<path d="M747.0,308.1 C747.6,309.1 748.7,313.0 750.5,314.0 C752.2,314.9 755.5,315.0 757.4,314.0 C759.4,312.9 760.7,308.3 762.1,307.4 C763.4,306.6 764.5,307.1 765.6,309.1 C766.7,311.1 768.5,315.7 768.6,319.5 C768.7,323.4 767.5,329.8 766.3,332.3 C765.0,334.8 763.8,334.5 761.2,334.7 C758.5,334.8 753.0,333.8 750.5,333.0 C747.9,332.2 746.8,330.5 746.0,330.0" stroke="#7d7d7d" stroke-width="0.6" fill="none"/>
<path d="M757.4,334.9 C759.6,335.9 767.5,339.4 770.2,341.2 C772.9,342.9 773.5,343.5 773.7,345.3 C773.9,347.2 771.8,350.9 771.4,352.0" stroke="#7d7d7d" stroke-width="0.6" fill="none"/>
<path d="M729.5,299.8 C730.3,299.6 732.6,298.0 734.2,298.6 C735.7,299.2 737.7,300.7 738.8,303.3 C740.0,305.8 740.8,312.0 741.2,313.7" stroke="#7d7d7d" stroke-width="0.6" fill="none"/>
<path d="M745.8,307.9 C746.2,309.7 748.1,314.7 748.1,318.4 C748.1,322.1 746.2,328.1 745.8,330.0" stroke="#7d7d7d" stroke-width="0.6" fill="none"/>
<path d="M715.0,307.0 C716.6,306.6 721.3,303.4 724.9,304.4 C728.5,305.4 733.4,309.3 736.5,312.8 C739.6,316.3 742.1,322.1 743.5,325.6 C744.9,329.1 744.7,332.4 744.9,333.7" stroke="#7d7d7d" stroke-width="0.6" fill="none"/>
<path d="M717.4,310.5 C718.7,310.2 722.1,307.8 724.9,308.6 C727.7,309.5 731.7,312.8 734.2,315.6 C736.7,318.4 738.8,322.8 740.0,325.6 C741.2,328.4 741.0,331.2 741.2,332.3" stroke="#7d7d7d" stroke-width="0.6" fill="none"/>
<path d="M717.9,314.9 C718.9,315.5 721.8,316.4 723.7,318.4 C725.7,320.3 727.9,324.4 729.5,326.5 C731.1,328.6 732.6,330.4 733.3,331.2" stroke="#7d7d7d" stroke-width="0.6" fill="none"/>
<path d="M724.9,309.1 L723.7,318.4" stroke="#666" stroke-width="0.7" fill="none"/>
<path d="M729.5,311.4 L727.4,320.9" stroke="#666" stroke-width="0.7" fill="none"/>
<path d="M734.2,315.6 L730.7,324.2" stroke="#666" stroke-width="0.7" fill="none"/>
<path d="M737.7,320.7 L733.3,327.7" stroke="#666" stroke-width="0.7" fill="none"/>
<path d="M740.7,326.5 L736.5,331.2" stroke="#666" stroke-width="0.7" fill="none"/>
<path d="M742.6,328.8 L743.7,334.7" stroke="#626262" stroke-width="0.79" fill="none"/>
<path d="M720.2,307.9 L719.1,314.9" stroke="#666" stroke-width="0.7" fill="none"/>
<path d="M728.4,306.7 L736.5,311.4 L741.2,318.4" stroke="#555" stroke-width="0.7" fill="none"/>
<path d="M705.1,307.9 L708.6,314.9" stroke="#555" stroke-width="0.94" fill="none"/>
<path d="M706.3,309.1 L707.4,313.7" stroke="#626262" stroke-width="0.75" fill="none"/>
<path d="M722.6,333.5 C722.9,332.7 724.7,332.2 725.3,332.6 C726.0,332.9 726.8,334.4 726.7,335.3 C726.7,336.3 725.7,337.8 725.1,338.1 C724.5,338.5 723.4,338.2 723.0,337.4 C722.6,336.7 722.2,334.3 722.6,333.5Z" stroke="#555" stroke-width="0.7" fill="#888"/>
<path d="M713.3,344.2 C713.7,343.4 715.5,343.0 716.3,343.3 C717.1,343.5 717.9,344.9 717.9,345.8 C717.9,346.7 717.0,348.3 716.3,348.6 C715.6,349.0 714.2,348.6 713.7,347.9 C713.2,347.2 712.8,345.0 713.3,344.2Z" stroke="#626262" stroke-width="0.7" fill="none"/>
<path d="M694.7,332.6 C695.2,331.8 697.1,331.0 698.1,331.2 C699.2,331.3 700.8,332.2 701.2,333.3 C701.6,334.3 701.2,336.4 700.5,337.2 C699.8,338.0 697.9,338.4 697.0,338.1 C696.0,337.9 695.0,336.7 694.7,335.8 C694.3,334.9 694.1,333.3 694.7,332.6Z" stroke="#626262" stroke-width="0.7" fill="none"/>
<path d="M695.8,340.5 C696.5,339.7 698.3,339.1 699.3,339.3 C700.3,339.5 701.4,340.8 701.6,341.9 C701.8,342.9 701.2,345.0 700.5,345.8 C699.7,346.6 697.8,346.9 697.0,346.5 C696.1,346.2 695.5,344.7 695.3,343.7 C695.2,342.7 695.2,341.2 695.8,340.5Z" stroke="#626262" stroke-width="0.7" fill="none"/>
<ellipse cx="698.1" cy="335.6" rx="1.6" ry="1.9" stroke="#555" stroke-width="0.7" fill="none"/>
<ellipse cx="698.4" cy="343.0" rx="1.6" ry="1.9" stroke="#555" stroke-width="0.7" fill="none"/>
<path d="M728.4,334.7 L729.1,338.1" stroke="#555" stroke-width="0.7" fill="none"/>
<path d="M730.7,334.0 L731.4,337.7" stroke="#555" stroke-width="0.7" fill="none"/>
<path d="M733.0,335.3 L734.2,339.3" stroke="#555" stroke-width="0.7" fill="none"/>
<path d="M710.9,326.5 L716.7,328.8" stroke="#626262" stroke-width="0.79" fill="none"/>
<path d="M705.1,320.7 L713.3,326.5" stroke="#555" stroke-width="0.7" fill="none"/>
<path d="M701.6,324.2 L708.6,331.2" stroke="#666" stroke-width="0.7" fill="none"/>
<path d="M692.3,291.6 L701.6,289.3 L702.8,297.4 L694.7,300.9" stroke="#7d7d7d" stroke-width="0.6" fill="none"/>
<path d="M692.3,287.0 C692.9,286.6 694.7,284.8 695.8,284.7 C697.0,284.5 698.5,285.0 699.3,285.8 C700.1,286.6 700.3,288.7 700.5,289.3" stroke="#7d7d7d" stroke-width="0.6" fill="none"/>
<path d="M690.0,303.3 C691.2,303.8 695.0,304.8 697.0,306.7 C698.9,308.7 700.9,313.5 701.6,314.9" stroke="#7d7d7d" stroke-width="0.6" fill="none"/>
<path d="M690.0,314.9 L699.3,321.9" stroke="#7d7d7d" stroke-width="0.6" fill="none"/>
<path d="M697.0,326.5 L704.0,334.7" stroke="#7d7d7d" stroke-width="0.6" fill="none"/>
<path d="M719.1,345.1 C720.0,344.7 723.3,342.4 724.9,342.8 C726.4,343.2 727.6,345.9 728.4,347.4 C729.1,349.0 729.3,351.2 729.5,352.0" stroke="#7d7d7d" stroke-width="0.6" fill="none"/>
<path d="M734.2,340.5 C735.0,340.9 737.3,341.2 738.8,342.8 C740.4,344.3 742.7,348.6 743.5,349.8" stroke="#7d7d7d" stroke-width="0.6" fill="none"/>
<ellipse cx="686.5" cy="369.8" rx="1.9" ry="2.1" stroke="#555" stroke-width="0.75" fill="#ccc"/>
<ellipse cx="686.5" cy="369.8" rx="0.8" ry="0.9" stroke="#555" stroke-width="0.7" fill="none"/>
<path d="M659.8,380.9 C660.2,379.7 662.1,378.7 663.3,378.6 C664.4,378.5 666.0,379.4 666.7,380.5 C667.4,381.5 667.8,383.7 667.4,384.9 C667.1,386.0 665.5,387.3 664.4,387.4 C663.3,387.6 661.5,386.9 660.7,385.8 C659.9,384.7 659.3,382.1 659.8,380.9Z" stroke="#626262" stroke-width="0.7" fill="none"/>
<ellipse cx="664.7" cy="384.0" rx="2.1" ry="2.8" stroke="#555" stroke-width="0.75" fill="none"/>
<path d="M669.1,380.5 C669.3,379.5 670.9,379.1 671.6,379.3 C672.4,379.5 673.3,380.5 673.5,381.4 C673.6,382.2 673.1,383.8 672.6,384.4 C672.0,385.0 670.6,385.5 670.0,384.9 C669.4,384.2 668.8,381.4 669.1,380.5Z" stroke="#626262" stroke-width="0.7" fill="none"/>
<path d="M655.1,389.1 L660.9,385.6" stroke="#555" stroke-width="0.86" fill="none"/>
<path d="M695.8,378.6 C696.6,377.7 699.2,377.1 700.5,377.4 C701.7,377.8 702.9,379.3 703.3,380.5 C703.6,381.6 703.1,383.6 702.3,384.4 C701.6,385.2 699.7,385.6 698.6,385.3 C697.5,385.1 696.3,383.9 695.8,382.8 C695.3,381.7 695.0,379.5 695.8,378.6Z" stroke="#555" stroke-width="0.7" fill="none"/>
<path d="M698.6,378.6 L701.6,384.0" stroke="#626262" stroke-width="0.75" fill="none"/>
<path d="M674.9,383.3 L691.2,382.1" stroke="#7d7d7d" stroke-width="0.6" fill="none"/>
<path d="M654.0,390.2 L681.9,383.3" stroke="#7d7d7d" stroke-width="0.6" fill="none"/>
<path d="M654.0,390.2 L655.1,399.5" stroke="#7d7d7d" stroke-width="0.6" fill="none"/>
<ellipse cx="716.7" cy="411.2" rx="9.1" ry="10.7" transform="rotate(-22 716.7 411.2)" stroke="#888" stroke-width="0.7" fill="none"/>
<ellipse cx="716.7" cy="411.2" rx="7.2" ry="8.8" transform="rotate(-22 716.7 411.2)" stroke="#888" stroke-width="0.7" fill="none"/>
<ellipse cx="717.4" cy="411.9" rx="5.1" ry="6.3" transform="rotate(-22 717.4 411.9)" stroke="#777" stroke-width="0.8" fill="none"/>
<ellipse cx="718.1" cy="412.3" rx="3.0" ry="4.0" transform="rotate(-22 718.1 412.3)" stroke="#666" stroke-width="0.8" fill="none"/>
<ellipse cx="718.6" cy="412.6" rx="1.4" ry="1.9" transform="rotate(-22 718.6 412.6)" stroke="#666" stroke-width="0.7" fill="none"/>
<path d="M709.8,404.2 C710.5,403.6 712.7,401.1 714.4,400.7 C716.2,400.3 719.3,401.7 720.2,401.9" stroke="#626262" stroke-width="0.75" fill="none"/>
<path d="M712.1,418.1 L716.7,421.6 L722.6,420.5" stroke="#626262" stroke-width="0.75" fill="none"/>
<path d="M708.6,398.4 L709.8,420.5 L719.1,426.3 L726.0,422.8" stroke="#7d7d7d" stroke-width="0.6" fill="none"/>
<path d="M726.0,422.8 L727.2,411.2" stroke="#7d7d7d" stroke-width="0.6" fill="none"/>
<path d="M708.6,398.4 L714.4,399.5" stroke="#7d7d7d" stroke-width="0.6" fill="none"/>
<path d="M698.1,394.9 C698.7,396.4 700.5,401.1 701.6,404.2 C702.8,407.3 704.5,411.9 705.1,413.5" stroke="#7d7d7d" stroke-width="0.6" fill="none"/>
<path d="M700.5,393.7 C701.0,395.3 702.8,399.9 704.0,403.0 C705.1,406.1 706.9,410.8 707.4,412.3" stroke="#7d7d7d" stroke-width="0.6" fill="none"/>
<path d="M684.2,393.7 L698.1,387.9" stroke="#7d7d7d" stroke-width="0.6" fill="none"/>
<path d="M681.9,403.0 L698.1,396.0" stroke="#7d7d7d" stroke-width="0.6" fill="none"/>
<path d="M685.3,394.9 L695.8,390.5" stroke="#666" stroke-width="1.01" fill="none" stroke-dasharray="1,1" style="stroke-linecap:butt"/>
<path d="M684.2,400.7 L694.7,396.5" stroke="#666" stroke-width="1.01" fill="none" stroke-dasharray="1,1" style="stroke-linecap:butt"/>
<path d="M680.7,392.6 L681.9,398.4" stroke="#555" stroke-width="0.79" fill="none"/>
<path d="M682.6,389.1 L684.7,394.9" stroke="#626262" stroke-width="0.7" fill="none"/>
<path d="M678.4,393.7 C678.7,393.0 680.0,392.4 680.7,392.6 C681.4,392.8 682.5,394.1 682.6,394.9 C682.6,395.7 681.8,397.1 681.2,397.4 C680.5,397.8 679.3,397.6 678.8,397.0 C678.4,396.4 678.1,394.5 678.4,393.7Z" stroke="#626262" stroke-width="0.7" fill="none"/>
<path d="M660.9,400.7 C661.5,399.7 663.3,398.4 664.4,398.4 C665.5,398.3 667.0,399.2 667.4,400.2 C667.9,401.3 667.6,403.6 667.0,404.7 C666.4,405.7 664.9,406.5 664.0,406.5 C663.0,406.5 661.7,405.6 661.2,404.7 C660.7,403.7 660.4,401.7 660.9,400.7Z" stroke="#626262" stroke-width="0.7" fill="none"/>
<path d="M660.5,411.2 C661.0,410.2 662.7,409.3 663.7,409.3 C664.8,409.3 666.3,410.2 666.7,411.2 C667.2,412.2 666.9,414.4 666.3,415.3 C665.7,416.3 664.2,417.0 663.3,417.0 C662.3,416.9 660.9,416.1 660.5,415.1 C660.0,414.1 659.9,412.1 660.5,411.2Z" stroke="#626262" stroke-width="0.7" fill="none"/>
<path d="M662.1,401.9 L666.3,403.5" stroke="#555" stroke-width="0.75" fill="none"/>
<path d="M661.6,412.6 L665.8,414.2" stroke="#555" stroke-width="0.75" fill="none"/>
<path d="M654.0,399.5 L655.1,420.5 L663.3,427.4" stroke="#7d7d7d" stroke-width="0.6" fill="none"/>
<path d="M662.8,426.3 L664.0,429.8" stroke="#555" stroke-width="0.86" fill="none"/>
<path d="M670.2,411.2 L678.4,407.7" stroke="#7d7d7d" stroke-width="0.6" fill="none"/>
<path d="M669.1,412.3 L677.2,408.8" stroke="#666" stroke-width="1.01" fill="none" stroke-dasharray="1,1" style="stroke-linecap:butt"/>
<path d="M673.7,420.5 L684.2,415.8" stroke="#7d7d7d" stroke-width="0.6" fill="none"/>
<path d="M678.4,422.8 L683.0,425.1" stroke="#555" stroke-width="0.7" fill="none"/>
<ellipse cx="680.7" cy="424.7" rx="1.6" ry="1.4" stroke="#444" stroke-width="0.7" fill="none"/>
<path d="M680.7,411.2 L686.5,422.8" stroke="#7d7d7d" stroke-width="0.6" fill="none"/>
<path d="M691.2,408.8 L694.7,418.1" stroke="#7d7d7d" stroke-width="0.6" fill="none"/>
<ellipse cx="690.0" cy="420.5" rx="1.9" ry="2.6" stroke="#666" stroke-width="0.7" fill="none"/>
<path d="M684.2,428.6 L700.5,420.5" stroke="#7d7d7d" stroke-width="0.6" fill="none"/>
<path d="M686.5,430.9 L702.8,422.8" stroke="#7d7d7d" stroke-width="0.6" fill="none"/>
<path d="M700.5,425.1 L705.1,432.0" stroke="#7d7d7d" stroke-width="0.6" fill="none"/>
<path d="M700.5,428.6 C701.2,428.2 703.6,426.3 705.1,426.3 C706.7,426.3 709.0,428.2 709.8,428.6" stroke="#666" stroke-width="0.7" fill="none"/>
<path d="M707.4,367.0 C707.8,365.0 710.5,364.7 712.1,364.7 C713.6,364.7 715.8,365.6 716.7,367.0 C717.7,368.3 718.3,371.0 717.9,372.8 C717.5,374.5 715.8,376.9 714.4,377.4 C713.1,378.0 710.9,378.0 709.8,376.3 C708.6,374.5 707.1,368.9 707.4,367.0Z" stroke="#555" stroke-width="0.7" fill="none"/>
<path d="M709.8,369.3 C710.1,368.1 712.3,367.5 713.3,367.7 C714.2,367.9 715.4,369.3 715.6,370.5 C715.8,371.6 715.2,373.7 714.4,374.4 C713.7,375.1 711.9,375.5 711.2,374.7 C710.4,373.8 709.4,370.5 709.8,369.3Z" stroke="#666" stroke-width="0.7" fill="none"/>
<path d="M706.3,372.8 L712.1,383.3" stroke="#555" stroke-width="0.7" fill="none"/>
<path d="M714.4,377.4 L717.9,386.7" stroke="#555" stroke-width="0.7" fill="none"/>
<path d="M702.8,380.9 L716.7,393.7" stroke="#7d7d7d" stroke-width="0.6" fill="none"/>
<path d="M716.7,393.7 L733.0,387.9" stroke="#7d7d7d" stroke-width="0.6" fill="none"/>
<path d="M720.2,375.1 L721.4,391.4" stroke="#7d7d7d" stroke-width="0.6" fill="none"/>
<path d="M723.7,374.0 L724.9,390.2" stroke="#7d7d7d" stroke-width="0.6" fill="none"/>
<path d="M721.4,370.5 C722.2,370.3 724.9,368.7 726.0,369.3 C727.2,369.9 728.2,372.2 728.4,374.0 C728.6,375.7 727.4,378.8 727.2,379.8" stroke="#555" stroke-width="0.7" fill="none"/>
<path d="M728.4,363.5 C728.6,362.5 731.7,361.6 733.0,361.6 C734.4,361.6 736.1,362.6 736.5,363.5 C736.9,364.4 736.2,366.3 735.3,367.0 C734.5,367.7 732.6,368.3 731.4,367.7 C730.2,367.1 728.1,364.5 728.4,363.5Z" stroke="#626262" stroke-width="0.7" fill="none"/>
<path d="M730.7,380.9 L733.0,383.3" stroke="#555" stroke-width="0.79" fill="none"/>
<path d="M728.4,386.7 L731.4,389.1" stroke="#626262" stroke-width="0.7" fill="none"/>
<path d="M735.3,371.6 C735.5,370.5 737.7,369.8 738.8,369.8 C740.0,369.8 741.4,370.5 742.3,371.6 C743.3,372.7 744.1,370.5 744.7,376.3 C745.2,382.1 746.0,400.9 745.8,406.5 C745.6,412.1 744.5,409.6 743.5,410.0 C742.5,410.4 740.8,409.8 740.0,408.8 C739.2,407.9 739.2,409.6 738.8,404.2 C738.4,398.8 738.3,381.7 737.7,376.3 C737.1,370.9 735.2,372.7 735.3,371.6Z" stroke="#555" stroke-width="0.6" fill="none"/>
<path d="M740.7,377.4 L741.4,404.2" stroke="#7d7d7d" stroke-width="0.6" fill="none"/>
<path d="M742.8,376.3 L743.7,403.0" stroke="#7d7d7d" stroke-width="0.6" fill="none"/>
<ellipse cx="740.2" cy="406.5" rx="1.4" ry="1.6" stroke="#555" stroke-width="0.75" fill="none"/>
<path d="M742.3,364.7 L744.7,370.5" stroke="#555" stroke-width="0.79" fill="none"/>
<path d="M744.7,390.2 L748.1,392.6" stroke="#626262" stroke-width="0.7" fill="none"/>
<path d="M748.1,369.3 L760.0,376.3" stroke="#626262" stroke-width="0.94" fill="none" stroke-dasharray="1,1" style="stroke-linecap:butt"/>
<path d="M760.0,389.1 C759.2,389.5 756.5,390.0 755.1,391.4 C753.8,392.8 752.5,395.1 751.9,397.2 C751.2,399.3 751.0,402.1 751.4,404.2 C751.7,406.3 752.5,408.8 754.0,410.0 C755.4,411.2 759.0,411.0 760.0,411.2" stroke="#7d7d7d" stroke-width="0.6" fill="none"/>
<path d="M760.0,393.7 C759.4,394.1 757.2,394.9 756.3,396.0 C755.3,397.2 754.6,399.0 754.4,400.7 C754.2,402.4 754.2,405.2 755.1,406.5 C756.0,407.9 759.2,408.4 760.0,408.8" stroke="#7d7d7d" stroke-width="0.6" fill="none"/>
<path d="M745.8,394.9 L751.6,397.2" stroke="#7d7d7d" stroke-width="0.6" fill="none"/>
<path d="M747.0,408.8 L754.0,410.0" stroke="#7d7d7d" stroke-width="0.6" fill="none"/>
<path d="M640.0,393.7 L654.0,399.5" stroke="#7d7d7d" stroke-width="0.6" fill="none"/>
<path d="M640.0,411.2 L654.0,404.2" stroke="#7d7d7d" stroke-width="0.6" fill="none"/>
<ellipse cx="646.3" cy="404.2" rx="0.9" ry="0.7" stroke="#555555" stroke-width="0.7" fill="none"/>
<path d="M640.0,427.4 C640.6,427.6 642.5,427.8 643.5,428.6 C644.5,429.4 645.4,431.4 645.8,432.0" stroke="#7d7d7d" stroke-width="0.6" fill="none"/>
<ellipse cx="616.9" cy="422.3" rx="1.9" ry="2.3" stroke="#555" stroke-width="0.9" fill="none"/>
<ellipse cx="617.8" cy="435.3" rx="1.9" ry="2.3" stroke="#555" stroke-width="0.9" fill="none"/>
<ellipse cx="622.0" cy="443.5" rx="1.9" ry="2.3" stroke="#626262" stroke-width="0.75" fill="none"/>
<ellipse cx="624.5" cy="451.6" rx="1.9" ry="2.3" stroke="#626262" stroke-width="0.75" fill="none"/>
<ellipse cx="635.5" cy="457.4" rx="1.9" ry="2.3" stroke="#626262" stroke-width="0.75" fill="none"/>
<ellipse cx="646.2" cy="464.4" rx="1.4" ry="2.1" stroke="#626262" stroke-width="0.75" fill="none"/>
<ellipse cx="627.6" cy="421.6" rx="1.6" ry="2.1" stroke="#666" stroke-width="0.7" fill="none"/>
<ellipse cx="647.8" cy="457.0" rx="1.2" ry="1.2" stroke="#666" stroke-width="0.7" fill="none"/>
<path d="M621.3,442.6 L622.9,444.9" stroke="#555" stroke-width="0.75" fill="none"/>
<path d="M623.8,450.7 L625.5,453.0" stroke="#555" stroke-width="0.75" fill="none"/>
<path d="M634.8,456.5 L636.4,458.8" stroke="#555" stroke-width="0.75" fill="none"/>
<path d="M621.5,415.1 C621.7,416.9 621.7,421.7 622.7,425.6 C623.6,429.5 625.2,434.5 627.3,438.4 C629.5,442.2 632.6,445.9 635.5,448.8 C638.4,451.7 643.2,454.7 644.8,455.8" stroke="#7d7d7d" stroke-width="0.6" fill="none"/>
<path d="M625.0,417.4 C625.3,419.2 625.7,424.4 626.6,427.9 C627.6,431.4 629.0,435.1 630.8,438.4 C632.7,441.7 635.3,445.2 637.8,447.7 C640.3,450.2 644.6,452.5 645.9,453.5" stroke="#7d7d7d" stroke-width="0.6" fill="none"/>
<path d="M629.7,425.6 C630.6,427.1 633.7,432.0 635.5,434.9 C637.2,437.8 639.3,441.7 640.1,443.0" stroke="#7d7d7d" stroke-width="0.6" fill="none"/>
<path d="M632.0,429.1 L637.8,438.4 L641.3,444.2" stroke="#555" stroke-width="0.75" fill="none"/>
<path d="M633.1,434.9 L635.5,439.5" stroke="#626262" stroke-width="0.79" fill="none"/>
<path d="M637.8,433.7 L639.7,436.0" stroke="#555" stroke-width="0.7" fill="none"/>
<path d="M604.1,403.5 C604.8,404.5 607.0,407.8 608.7,409.3 C610.5,410.9 612.8,412.4 614.5,412.8 C616.3,413.2 618.4,411.8 619.2,411.6" stroke="#7d7d7d" stroke-width="0.6" fill="none"/>
<path d="M575.0,429.1 C575.6,430.0 578.1,432.9 578.5,434.9 C578.9,436.8 577.5,439.7 577.3,440.7" stroke="#7d7d7d" stroke-width="0.6" fill="none"/>
<path d="M575.0,446.5 L580.8,451.2" stroke="#7d7d7d" stroke-width="0.6" fill="none"/>
<ellipse cx="589.2" cy="462.8" rx="0.9" ry="1.2" stroke="#555555" stroke-width="0.7" fill="none"/>
<ellipse cx="579.7" cy="418.6" rx="0.7" ry="0.9" stroke="#555555" stroke-width="0.7" fill="none"/>
<ellipse cx="599.4" cy="404.2" rx="1.4" ry="1.2" stroke="#555555" stroke-width="0.7" fill="none"/>
<path d="M604.1,403.5 L605.5,405.8" stroke="#555" stroke-width="0.7" fill="none"/>
<path d="M589.0,404.7 L598.3,402.3 L604.1,403.5" stroke="#7d7d7d" stroke-width="0.6" fill="none"/>
<path d="M606.4,400.0 L627.3,411.6 L656.4,400.0" stroke="#7d7d7d" stroke-width="0.6" fill="none"/>
<path d="M627.3,411.6 L635.5,415.1 L635.5,429.1" stroke="#7d7d7d" stroke-width="0.6" fill="none"/>
<path d="M635.5,415.1 L663.4,403.5" stroke="#7d7d7d" stroke-width="0.6" fill="none"/>
<path d="M644.8,439.5 L663.4,430.5" stroke="#7d7d7d" stroke-width="0.6" fill="none"/>
<path d="M637.8,423.3 C638.8,424.2 641.7,426.6 643.6,429.1 C645.5,431.6 648.1,435.1 649.4,438.4 C650.8,441.7 651.2,444.4 651.7,448.8 C652.3,453.3 652.7,462.4 652.9,465.1" stroke="#7d7d7d" stroke-width="0.6" fill="none"/>
<path d="M644.8,429.1 C645.5,430.6 648.3,434.7 649.4,438.4 C650.6,442.1 651.4,449.0 651.7,451.2" stroke="#7d7d7d" stroke-width="0.6" fill="none"/>
<path d="M654.1,447.7 C655.0,447.5 658.4,445.9 659.9,446.5 C661.4,447.1 662.9,449.4 662.9,451.2 C662.9,452.9 661.2,455.8 659.9,457.0 C658.6,458.1 656.0,457.9 655.2,458.1" stroke="#7d7d7d" stroke-width="0.6" fill="none"/>
<path d="M652.9,465.1 L663.4,460.5" stroke="#7d7d7d" stroke-width="0.6" fill="none"/>
<path d="M651.7,468.6 L665.7,461.6" stroke="#7d7d7d" stroke-width="0.6" fill="none"/>
<ellipse cx="636.6" cy="409.3" rx="1.2" ry="0.9" stroke="#555555" stroke-width="0.7" fill="none"/>
<ellipse cx="646.4" cy="404.7" rx="1.2" ry="0.9" stroke="#555555" stroke-width="0.7" fill="none"/>
<ellipse cx="660.1" cy="469.8" rx="0.9" ry="0.9" stroke="#555555" stroke-width="0.7" fill="none"/>
<path d="M662.4,427.9 L664.1,431.2" stroke="#555" stroke-width="0.86" fill="none"/>
<path d="M654.1,400.0 L655.2,416.3 L663.4,429.1" stroke="#7d7d7d" stroke-width="0.6" fill="none"/>
<path d="M659.9,412.8 C660.5,412.0 662.3,411.0 663.4,411.2 C664.5,411.3 666.0,412.5 666.4,413.5 C666.8,414.5 666.4,416.2 665.7,417.0 C665.0,417.8 663.2,418.3 662.2,418.1 C661.2,417.9 660.3,416.7 659.9,415.8 C659.5,414.9 659.3,413.6 659.9,412.8Z" stroke="#626262" stroke-width="0.7" fill="none"/>
<path d="M661.0,414.0 L666.9,415.8" stroke="#555" stroke-width="0.79" fill="none"/>
<path d="M661.0,403.5 C661.4,402.5 663.6,402.1 664.5,402.3 C665.5,402.5 666.7,403.8 666.9,404.7 C667.1,405.5 666.5,407.1 665.7,407.7 C664.9,408.3 663.0,408.8 662.2,408.1 C661.4,407.4 660.7,404.5 661.0,403.5Z" stroke="#626262" stroke-width="0.7" fill="none"/>
<path d="M656.4,404.7 L663.4,407.0" stroke="#555" stroke-width="0.7" fill="none"/>
<path d="M668.0,411.6 L695.0,400.0" stroke="#7d7d7d" stroke-width="0.6" fill="none"/>
<path d="M673.8,415.1 L686.6,410.5" stroke="#666" stroke-width="1.01" fill="none" stroke-dasharray="1,1" style="stroke-linecap:butt"/>
<path d="M666.9,434.9 L668.0,458.1" stroke="#7d7d7d" stroke-width="0.6" fill="none"/>
<path d="M668.0,438.4 L684.3,433.7" stroke="#7d7d7d" stroke-width="0.6" fill="none"/>
<path d="M668.7,444.2 L684.8,439.5" stroke="#7d7d7d" stroke-width="0.6" fill="none"/>
<path d="M668.7,450.0 L685.5,445.3" stroke="#7d7d7d" stroke-width="0.6" fill="none"/>
<path d="M668.0,458.1 L686.6,451.2" stroke="#7d7d7d" stroke-width="0.6" fill="none"/>
<path d="M670.3,437.2 L679.7,434.9" stroke="#555" stroke-width="0.86" fill="none"/>
<path d="M671.5,446.5 L683.1,443.0" stroke="#626262" stroke-width="1.01" fill="none"/>
<path d="M677.3,448.8 L678.5,454.7" stroke="#555" stroke-width="0.94" fill="none"/>
<path d="M670.3,454.7 L676.2,458.1" stroke="#626262" stroke-width="0.7" fill="none"/>
<path d="M679.7,451.2 C679.8,450.1 682.0,449.0 683.1,448.8 C684.3,448.6 686.2,449.1 686.6,450.0 C687.0,450.9 686.2,453.3 685.5,454.2 C684.7,455.1 682.9,455.9 682.0,455.3 C681.0,454.8 679.5,452.2 679.7,451.2Z" stroke="#555" stroke-width="0.7" fill="none"/>
<path d="M670.3,462.8 L677.3,460.5" stroke="#555" stroke-width="0.86" fill="none"/>
<path d="M668.0,465.1 L691.3,455.8" stroke="#7d7d7d" stroke-width="0.6" fill="none"/>
<path d="M669.2,469.8 L692.4,460.5" stroke="#7d7d7d" stroke-width="0.6" fill="none"/>
<path d="M672.7,424.4 L676.2,429.1" stroke="#555" stroke-width="0.7" fill="none"/>
<path d="M677.3,422.1 C678.1,421.9 680.6,420.7 682.0,420.9 C683.3,421.1 684.9,422.9 685.5,423.3" stroke="#555" stroke-width="0.7" fill="none"/>
<path d="M686.6,419.8 C687.4,419.4 689.9,417.4 691.3,417.4 C692.7,417.4 694.4,419.4 695.0,419.8" stroke="#555" stroke-width="0.7" fill="none"/>
<path d="M690.1,433.7 L695.0,432.6" stroke="#7d7d7d" stroke-width="0.6" fill="none"/>
<path d="M691.3,438.4 L695.0,437.2" stroke="#7d7d7d" stroke-width="0.6" fill="none"/>
<path d="M691.3,444.2 L695.0,443.3" stroke="#626262" stroke-width="0.7" fill="none"/>
<path d="M598.9,400.5 C598.1,400.7 595.6,400.9 594.0,401.4 C592.5,401.8 591.0,402.4 589.6,403.1 C588.2,403.8 586.8,404.7 585.6,405.7 C584.3,406.7 583.1,407.8 582.1,409.1 C581.0,410.3 580.1,411.7 579.2,413.2 C578.4,414.7 577.6,416.3 577.0,418.0 C576.4,419.7 575.9,421.5 575.5,423.3 C575.2,425.2 574.9,427.1 574.8,429.1 C574.6,431.1 574.6,433.2 574.8,435.3 C574.9,437.4 575.1,439.6 575.5,441.7 C575.9,443.9 576.4,446.1 577.0,448.3 C577.6,450.4 578.3,452.6 579.1,454.8 C580.0,456.9 580.9,459.1 582.0,461.2 C583.0,463.2 584.2,465.3 585.4,467.3 C586.7,469.3 588.0,471.2 589.4,473.0 C590.9,474.9 592.4,476.6 593.9,478.3 C595.5,480.0 597.1,481.5 598.8,483.0 C600.4,484.4 602.1,485.8 603.9,487.0 C605.6,488.2 607.4,489.3 609.2,490.2 C611.0,491.2 612.8,492.0 614.6,492.7 C616.4,493.3 618.2,493.9 620.0,494.3 C621.8,494.6 623.6,494.9 625.3,494.9 C627.0,495.0 628.7,494.9 630.4,494.7 C632.0,494.5 633.6,494.1 635.1,493.6 C636.6,493.1 638.1,492.4 639.5,491.6 C640.8,490.8 642.1,489.8 643.3,488.8 C644.5,487.7 645.6,486.5 646.6,485.1 C647.6,483.8 648.5,482.3 649.2,480.8 C650.0,479.2 650.7,477.6 651.2,475.8 C651.8,474.1 652.2,472.2 652.5,470.3 C652.8,468.4 652.9,465.4 653.0,464.4" stroke="#7d7d7d" stroke-width="0.6" fill="none"/>
<path d="M598.4,403.1 C597.7,403.2 595.5,403.6 594.1,404.1 C592.7,404.6 591.4,405.2 590.2,405.9 C588.9,406.7 587.8,407.5 586.7,408.5 C585.6,409.5 584.6,410.6 583.7,411.8 C582.8,413.0 582.0,414.4 581.3,415.8 C580.5,417.2 579.9,418.7 579.4,420.3 C578.9,421.9 578.5,423.6 578.3,425.3 C578.0,427.1 577.8,428.9 577.7,430.8 C577.7,432.7 577.7,434.6 577.9,436.5 C578.1,438.5 578.3,440.5 578.7,442.5 C579.1,444.5 579.6,446.5 580.2,448.5 C580.8,450.5 581.5,452.6 582.3,454.6 C583.1,456.5 584.0,458.5 585.0,460.5 C586.0,462.4 587.1,464.3 588.2,466.1 C589.4,467.9 590.6,469.7 591.9,471.4 C593.2,473.1 594.6,474.8 596.0,476.3 C597.5,477.9 599.0,479.4 600.5,480.7 C602.0,482.1 603.6,483.3 605.2,484.5 C606.8,485.6 608.5,486.7 610.1,487.6 C611.7,488.5 613.4,489.3 615.1,489.9 C616.7,490.6 618.4,491.1 620.0,491.5 C621.7,491.9 623.3,492.2 624.9,492.3 C626.5,492.5 628.0,492.4 629.5,492.3 C631.1,492.2 632.5,491.9 633.9,491.5 C635.4,491.1 636.7,490.5 638.0,489.8 C639.3,489.2 640.5,488.3 641.6,487.4 C642.7,486.5 643.8,485.4 644.7,484.3 C645.7,483.1 646.5,481.9 647.3,480.5 C648.1,479.1 648.7,477.6 649.3,476.1 C649.8,474.5 650.3,472.9 650.6,471.2 C651.0,469.5 651.2,466.7 651.3,465.8" stroke="#7d7d7d" stroke-width="0.6" fill="none"/>
<path d="M589.7,412.3 C589.2,412.8 587.8,414.3 587.0,415.5 C586.2,416.7 585.5,418.0 584.9,419.4 C584.3,420.8 583.8,422.3 583.4,423.8 C583.0,425.4 582.7,427.0 582.5,428.7 C582.3,430.4 582.3,432.1 582.3,433.9 C582.3,435.7 582.4,437.6 582.7,439.4 C582.9,441.3 583.3,443.2 583.7,445.1 C584.2,447.0 584.7,448.9 585.4,450.8 C586.0,452.7 586.8,454.6 587.6,456.5 C588.4,458.4 589.4,460.2 590.4,462.0 C591.4,463.8 592.5,465.6 593.6,467.3 C594.8,468.9 596.0,470.6 597.3,472.1 C598.6,473.7 600.0,475.2 601.4,476.6 C602.8,478.0 604.2,479.3 605.7,480.5 C607.2,481.7 608.7,482.8 610.3,483.7 C611.8,484.7 613.3,485.6 614.9,486.3 C616.5,487.1 618.0,487.7 619.6,488.2 C621.1,488.7 622.7,489.1 624.2,489.3 C625.7,489.5 627.9,489.6 628.6,489.6" stroke="#999" stroke-width="0.6" fill="none"/>
<path d="M719.4,487.4 L723.3,483.7 L724.8,485.3 L720.9,490.5Z" stroke="#333" stroke-width="0.8" fill="#fff"/>
<path d="M720.0,487.8 L721.5,486.4 L721.7,488.9 L720.4,489.9Z" stroke="#111111" stroke-width="0.4" fill="#555"/>
<path d="M723.9,485.1 L739.8,493.8" stroke="#333" stroke-width="0.7" fill="none"/>
<path d="M721.9,489.5 L738.4,498.2" stroke="#333" stroke-width="0.7" fill="none"/>
<path d="M738.8,494.0 L742.7,492.2 L748.5,495.7 L746.7,499.2 L740.7,500.2Z" stroke="#333" stroke-width="0.8" fill="#fff"/>
<path d="M743.4,493.6 L748.7,496.3 L744.2,498.8Z" stroke="#111111" stroke-width="0.4" fill="#333"/>
<path d="M739.0,494.8 L740.7,493.8 L741.1,497.7 L739.6,498.2Z" stroke="#111111" stroke-width="0.4" fill="#444"/>
<ellipse cx="748.7" cy="493.4" rx="2.3" ry="2.6" stroke="#888" stroke-width="0.7" fill="#fff"/>
<path d="M745.6,494.8 L746.0,498.1" stroke="#ddd" stroke-width="0.6" fill="none"/>
<path d="M722.3,497.3 L728.1,496.7 L731.4,498.6 L731.0,501.5 L728.7,502.1 L728.1,499.6 L722.3,499.6Z" stroke="#333" stroke-width="0.8" fill="#fff"/>
<path d="M728.1,496.9 L728.3,499.6" stroke="#333" stroke-width="0.7" fill="none"/>
<path d="M728.7,502.1 L729.1,499.2 L731.2,498.8" stroke="#444" stroke-width="0.6" fill="none"/>
<path d="M741.7,500.2 L754.3,507.9" stroke="#333" stroke-width="0.7" fill="none"/>
<path d="M753.5,508.1 L755.9,507.0 L758.4,507.8 L759.0,509.9 L757.4,511.8 L754.9,511.6 L753.5,510.1Z" stroke="#333" stroke-width="0.8" fill="#f0f0f0"/>
<path d="M753.9,508.3 L755.7,507.4 L756.2,511.2 L754.9,511.4 L753.7,509.9Z" stroke="#111111" stroke-width="0.4" fill="#444"/>
<path d="M757.8,512.4 L757.8,532.6" stroke="#999" stroke-width="0.8" fill="none"/>
<path d="M808.7,355.1 L808.7,373.9" stroke="#999" stroke-width="0.8" fill="none"/>
<path d="M803.1,373.6 L805.3,372.4 L807.8,373.0 L807.1,377.0 L804.7,377.6 L802.8,376.1Z" stroke="#222" stroke-width="0.8" fill="#ddd"/>
<path d="M807.4,373.3 L811.1,374.2 L813.9,376.7 L813.3,379.8 L810.2,380.7 L807.4,378.2Z" stroke="#111111" stroke-width="0.6" fill="#333"/>
<path d="M808.7,374.5 L808.1,378.5" stroke="#ddd" stroke-width="0.7" fill="none"/>
<path d="M810.5,375.1 L809.9,379.8" stroke="#ddd" stroke-width="0.7" fill="none"/>
<path d="M812.4,376.1 L811.8,380.1" stroke="#ddd" stroke-width="0.7" fill="none"/>
<path d="M801.0,372.1 L803.4,373.9" stroke="#333" stroke-width="0.9" fill="none"/>
<path d="M756.9,335.4 C759.2,336.4 768.1,339.2 770.8,341.3 C773.5,343.3 773.7,344.9 773.3,347.7 C772.8,350.6 770.2,355.7 768.0,358.5 C765.9,361.3 761.6,363.6 760.3,364.7" stroke="#7d7d7d" stroke-width="0.6" fill="none"/>
<path d="M749.2,350.8 C750.8,352.6 756.6,359.3 758.5,361.6 C760.3,363.9 760.0,364.2 760.3,364.7" stroke="#7d7d7d" stroke-width="0.6" fill="none"/>
<path d="M760.3,364.7 L753.9,367.8" stroke="#7d7d7d" stroke-width="0.6" fill="none"/>
<path d="M740.0,323.1 C741.0,324.6 743.3,330.3 746.2,332.3 C749.0,334.4 755.1,334.9 756.9,335.4" stroke="#7d7d7d" stroke-width="0.6" fill="none"/>
<path d="M749.2,372.4 L763.1,380.1" stroke="#666" stroke-width="1.3" fill="none" stroke-dasharray="1,0.8" style="stroke-linecap:butt"/>
<path d="M740.0,364.7 C740.8,366.0 743.3,368.8 744.6,372.4 C745.9,376.0 747.2,383.9 747.7,386.2" stroke="#7d7d7d" stroke-width="0.6" fill="none"/>
<path d="M743.1,358.5 C743.6,358.3 745.9,356.5 746.2,357.0 C746.4,357.5 744.9,360.8 744.6,361.6" stroke="#7d7d7d" stroke-width="0.6" fill="none"/>
<path d="M755.4,392.4 C756.4,391.9 759.5,389.6 761.6,389.3 C763.6,389.1 766.7,390.6 767.7,390.9" stroke="#7d7d7d" stroke-width="0.6" fill="none"/>
<path d="M864.7,462.2 L864.7,478.6" stroke="#444" stroke-width="0.8" fill="none"/>
<path d="M882.4,474.4 L882.4,490.3" stroke="#999" stroke-width="0.8" fill="none"/>
<path d="M791.4,496.1 L791.4,515.5" stroke="#222" stroke-width="0.9" fill="none"/>
<path d="M815.9,488.9 L815.9,508.3" stroke="#999" stroke-width="0.8" fill="none"/>
<path d="M858.5,481.9 C858.8,480.8 859.8,479.3 860.9,478.8 C861.9,478.4 863.8,478.6 864.7,479.2 C865.6,479.8 866.3,481.1 866.3,482.3 C866.3,483.6 865.6,485.7 864.7,486.6 C863.9,487.5 862.2,487.9 861.2,487.8 C860.3,487.6 859.4,486.4 858.9,485.4 C858.5,484.5 858.2,483.0 858.5,481.9Z" stroke="#555" stroke-width="0.7" fill="#f2f2f2"/>
<path d="M862.8,479.6 L865.5,479.6 L866.3,482.3 L864.0,483.5Z" stroke="#111111" stroke-width="0.4" fill="#333"/>
<path d="M861.6,484.7 L864.7,483.9 L865.1,487.4 L862.4,488.5Z" stroke="#111111" stroke-width="0.4" fill="#444"/>
<path d="M862.4,488.5 L862.4,532.0" stroke="#333" stroke-width="0.7" fill="none"/>
<path d="M863.6,488.5 L863.6,532.0" stroke="#555" stroke-width="0.7" fill="none"/>
<path d="M859.7,533.1 C860.2,531.8 861.8,531.5 862.8,531.6 C863.8,531.7 865.3,532.4 865.9,533.5 C866.5,534.7 866.7,537.2 866.3,538.6 C865.8,539.9 864.3,541.5 863.2,541.7 C862.1,541.9 860.3,541.2 859.7,539.7 C859.1,538.3 859.2,534.5 859.7,533.1Z" stroke="#222" stroke-width="1" fill="#fff"/>
<path d="M860.9,535.1 L864.7,534.3 L865.1,538.6 L861.6,539.7Z" stroke="#111111" stroke-width="0.5" fill="#333"/>
<path d="M861.6,536.2 L864.3,535.9" stroke="#eee" stroke-width="0.7" fill="none"/>
<path d="M866.7,484.5 L876.4,490.1" stroke="#333" stroke-width="0.7" fill="none"/>
<path d="M876.0,489.7 L878.3,489.3 L878.7,491.6 L876.8,492.0Z" stroke="#111111" stroke-width="0.6" fill="#333"/>
<ellipse cx="881.8" cy="492.8" rx="1.7" ry="1.7" stroke="#333" stroke-width="0.9" fill="#eee"/>
<path d="M789.1,469.5 L792.2,467.2 L793.0,469.1 L792.6,495.5 L789.5,496.3Z" stroke="#333" stroke-width="0.8" fill="#f2f2f2"/>
<path d="M791.0,473.8 L791.0,494.3" stroke="#777" stroke-width="0.7" fill="none"/>
<ellipse cx="790.6" cy="469.9" rx="1.0" ry="1.2" stroke="#333" stroke-width="0.7" fill="none"/>
<path d="M812.4,482.3 L815.1,481.2 L816.2,483.5 L813.9,485.0Z" stroke="#111111" stroke-width="0.6" fill="#444"/>
<path d="M815.5,482.3 C816.0,481.4 817.7,481.3 818.6,481.5 C819.5,481.8 820.6,482.9 820.9,483.9 C821.2,484.8 821.0,486.5 820.5,487.4 C820.0,488.2 818.6,489.0 817.8,488.9 C817.0,488.9 815.9,488.1 815.5,487.0 C815.1,485.9 815.0,483.2 815.5,482.3Z" stroke="#333" stroke-width="0.9" fill="#e8e8e8"/>
<path d="M645.1,388.2 L648.2,392.2" stroke="#999" stroke-width="0.55" fill="none"/>
<path d="M711.4,338.6 L716.3,335.9" stroke="#999" stroke-width="0.55" fill="none"/>
<ellipse cx="714.5" cy="351.0" rx="1.2" ry="1.0" stroke="#666" stroke-width="0.55" fill="none"/>
<path d="M731.3,335.7 L730.9,341.6" stroke="#777" stroke-width="0.55" fill="none"/>
<path d="M714.8,351.3 L716.5,353.7" stroke="#999" stroke-width="0.55" fill="none"/>
<ellipse cx="728.8" cy="334.3" rx="2.4" ry="2.3" stroke="#777" stroke-width="0.55" fill="none"/>
<path d="M639.4,381.3 L642.1,383.7" stroke="#888" stroke-width="0.55" fill="none"/>
<path d="M696.0,362.8 L695.4,366.8" stroke="#5a5a5a" stroke-width="0.55" fill="none"/>
<ellipse cx="680.7" cy="363.0" rx="2.0" ry="1.3" stroke="#666" stroke-width="0.55" fill="none"/>
<ellipse cx="643.6" cy="377.7" rx="2.0" ry="2.0" stroke="#999" stroke-width="0.55" fill="none"/>
<path d="M692.1,354.3 L694.0,355.2" stroke="#888" stroke-width="0.55" fill="none"/>
<path d="M723.5,342.0 L726.4,340.3" stroke="#5a5a5a" stroke-width="0.55" fill="none"/>
<path d="M726.3,334.2 L730.9,331.3" stroke="#5a5a5a" stroke-width="0.55" fill="none"/>
<path d="M682.3,355.8 L687.6,358.2" stroke="#999" stroke-width="0.55" fill="none"/>
<path d="M691.6,359.4 L691.1,363.0" stroke="#777" stroke-width="0.55" fill="none"/>
<path d="M699.3,359.5 L703.2,361.6" stroke="#888" stroke-width="0.55" fill="none"/>
<ellipse cx="689.0" cy="359.8" rx="2.3" ry="1.5" stroke="#666" stroke-width="0.55" fill="none"/>
<path d="M724.4,341.7 L725.5,346.6" stroke="#888" stroke-width="0.55" fill="none"/>
<path d="M716.5,345.6 L719.8,343.2" stroke="#888" stroke-width="0.55" fill="none"/>
<ellipse cx="701.1" cy="356.4" rx="1.6" ry="1.2" stroke="#999" stroke-width="0.55" fill="none"/>
<path d="M715.5,344.1 L719.8,348.0" stroke="#999" stroke-width="0.55" fill="none"/>
<path d="M632.1,394.1 L634.0,393.0" stroke="#888" stroke-width="0.55" fill="none"/>
<path d="M679.6,354.2 L683.2,356.3" stroke="#777" stroke-width="0.55" fill="none"/>
<ellipse cx="693.4" cy="361.1" rx="1.5" ry="0.9" stroke="#666" stroke-width="0.55" fill="none"/>
<ellipse cx="640.5" cy="396.4" rx="1.9" ry="1.8" stroke="#666" stroke-width="0.55" fill="none"/>
<path d="M695.4,361.1 L699.5,359.8" stroke="#888" stroke-width="0.55" fill="none"/>
<path d="M724.3,341.0 L727.2,339.2" stroke="#888" stroke-width="0.55" fill="none"/>
<path d="M723.3,332.2 L725.5,333.2" stroke="#999" stroke-width="0.55" fill="none"/>
<path d="M680.8,358.0 L682.6,360.1" stroke="#666" stroke-width="0.55" fill="none"/>
<path d="M694.3,366.1 L696.7,364.6" stroke="#777" stroke-width="0.55" fill="none"/>
<ellipse cx="727.8" cy="331.0" rx="1.2" ry="0.8" stroke="#888" stroke-width="0.55" fill="none"/>
<path d="M650.4,389.6 L655.0,391.6" stroke="#5a5a5a" stroke-width="0.55" fill="none"/>
<ellipse cx="655.5" cy="375.5" rx="1.9" ry="1.2" stroke="#999" stroke-width="0.55" fill="none"/>
<path d="M633.3,391.5 L638.4,388.4" stroke="#888" stroke-width="0.55" fill="none"/>
<ellipse cx="662.4" cy="365.8" rx="1.5" ry="1.5" stroke="#5a5a5a" stroke-width="0.55" fill="none"/>
<path d="M687.3,353.1 L690.0,351.5" stroke="#777" stroke-width="0.55" fill="none"/>
<ellipse cx="628.9" cy="390.3" rx="2.4" ry="1.8" stroke="#888" stroke-width="0.55" fill="none"/>
<path d="M639.8,383.4 L642.2,382.3" stroke="#777" stroke-width="0.55" fill="none"/>
<ellipse cx="735.2" cy="336.0" rx="2.0" ry="1.2" stroke="#666" stroke-width="0.55" fill="none"/>
<path d="M626.3,386.2 L627.6,389.2" stroke="#999" stroke-width="0.55" fill="none"/>
<path d="M640.3,398.2 L640.8,401.0" stroke="#5a5a5a" stroke-width="0.55" fill="none"/>
<ellipse cx="722.8" cy="332.5" rx="1.4" ry="1.1" stroke="#5a5a5a" stroke-width="0.55" fill="none"/>
<path d="M721.6,349.0 L725.7,347.1" stroke="#888" stroke-width="0.55" fill="none"/>
<path d="M663.9,377.5 L666.9,381.7" stroke="#5a5a5a" stroke-width="0.55" fill="none"/>
<ellipse cx="659.8" cy="371.1" rx="1.5" ry="0.9" stroke="#888" stroke-width="0.55" fill="none"/>
<path d="M691.2,363.7 L693.1,362.9" stroke="#777" stroke-width="0.55" fill="none"/>
<ellipse cx="710.4" cy="335.7" rx="2.3" ry="1.6" stroke="#666" stroke-width="0.55" fill="none"/>
<path d="M713.6,345.8 L716.6,344.6" stroke="#777" stroke-width="0.55" fill="none"/>
<path d="M718.8,340.1 L723.3,336.7" stroke="#777" stroke-width="0.55" fill="none"/>
<ellipse cx="717.6" cy="341.4" rx="1.7" ry="1.1" stroke="#888" stroke-width="0.55" fill="none"/>
<path d="M705.7,347.5 L709.2,345.9" stroke="#999" stroke-width="0.55" fill="none"/>
<ellipse cx="686.0" cy="356.6" rx="1.8" ry="1.6" stroke="#666" stroke-width="0.55" fill="none"/>
<path d="M731.1,336.9 L733.0,340.8" stroke="#888" stroke-width="0.55" fill="none"/>
<ellipse cx="719.1" cy="342.1" rx="1.2" ry="1.0" stroke="#777" stroke-width="0.55" fill="none"/>
<path d="M681.6,359.1 L684.8,356.9" stroke="#999" stroke-width="0.55" fill="none"/>
<path d="M704.3,345.4 L706.9,350.4" stroke="#666" stroke-width="0.55" fill="none"/>
<path d="M655.7,385.4 L658.8,389.5" stroke="#888" stroke-width="0.55" fill="none"/>
<path d="M702.3,346.9 L706.5,349.2" stroke="#999" stroke-width="0.55" fill="none"/>
<ellipse cx="727.0" cy="349.5" rx="1.9" ry="1.7" stroke="#999" stroke-width="0.55" fill="none"/>
<path d="M630.1,382.1 L629.8,385.5" stroke="#5a5a5a" stroke-width="0.55" fill="none"/>
<path d="M690.8,364.7 L695.0,363.1" stroke="#666" stroke-width="0.55" fill="none"/>
<path d="M637.1,386.8 L641.4,385.5" stroke="#777" stroke-width="0.55" fill="none"/>
<ellipse cx="732.0" cy="340.8" rx="2.3" ry="2.3" stroke="#999" stroke-width="0.55" fill="none"/>
<path d="M640.7,384.1 L645.5,387.1" stroke="#666" stroke-width="0.55" fill="none"/>
<ellipse cx="664.0" cy="358.9" rx="1.5" ry="1.0" stroke="#5a5a5a" stroke-width="0.55" fill="none"/>
<path d="M642.1,379.0 L645.7,376.6" stroke="#666" stroke-width="0.55" fill="none"/>
<path d="M680.1,370.8 L683.6,368.9" stroke="#777" stroke-width="0.55" fill="none"/>
<ellipse cx="687.2" cy="351.2" rx="2.1" ry="1.7" stroke="#777" stroke-width="0.55" fill="none"/>
<path d="M734.6,334.9 L737.3,332.7" stroke="#666" stroke-width="0.55" fill="none"/>
<path d="M696.1,339.6 L698.3,340.7" stroke="#999" stroke-width="0.55" fill="none"/>
<path d="M685.3,355.9 L689.2,358.2" stroke="#999" stroke-width="0.55" fill="none"/>
<ellipse cx="692.5" cy="364.6" rx="2.3" ry="1.9" stroke="#5a5a5a" stroke-width="0.55" fill="none"/>
<ellipse cx="688.4" cy="367.4" rx="1.8" ry="1.6" stroke="#5a5a5a" stroke-width="0.55" fill="none"/>
<path d="M690.3,354.6 L690.6,359.1" stroke="#777" stroke-width="0.55" fill="none"/>
<path d="M707.8,343.2 L711.7,340.9" stroke="#999" stroke-width="0.55" fill="none"/>
<path d="M718.4,336.3 L722.5,334.7" stroke="#666" stroke-width="0.55" fill="none"/>
<ellipse cx="712.7" cy="338.4" rx="1.8" ry="1.3" stroke="#999" stroke-width="0.55" fill="none"/>
<ellipse cx="640.8" cy="389.6" rx="1.8" ry="1.8" stroke="#999" stroke-width="0.55" fill="none"/>
<path d="M701.0,345.1 L704.6,346.9" stroke="#888" stroke-width="0.55" fill="none"/>
<path d="M659.7,379.7 L664.9,377.5" stroke="#666" stroke-width="0.55" fill="none"/>
<path d="M691.3,362.0 L695.2,364.0" stroke="#888" stroke-width="0.55" fill="none"/>
<path d="M672.6,369.1 L671.9,374.6" stroke="#666" stroke-width="0.55" fill="none"/>
<path d="M655.1,373.9 L660.2,372.1" stroke="#999" stroke-width="0.55" fill="none"/>
<path d="M674.4,364.0 L676.9,363.0" stroke="#888" stroke-width="0.55" fill="none"/>
<ellipse cx="686.9" cy="348.4" rx="2.1" ry="2.0" stroke="#5a5a5a" stroke-width="0.55" fill="none"/>
<path d="M673.7,360.6 L674.9,363.3" stroke="#888" stroke-width="0.55" fill="none"/>
<ellipse cx="663.5" cy="377.1" rx="1.9" ry="1.8" stroke="#777" stroke-width="0.55" fill="none"/>
<path d="M653.3,381.7 L656.9,379.8" stroke="#5a5a5a" stroke-width="0.55" fill="none"/>
<path d="M700.4,351.3 L703.2,349.1" stroke="#999" stroke-width="0.55" fill="none"/>
<path d="M713.8,352.9 L716.4,351.1" stroke="#5a5a5a" stroke-width="0.55" fill="none"/>
<path d="M717.1,333.0 L719.4,331.6" stroke="#666" stroke-width="0.55" fill="none"/>
<path d="M656.8,362.7 L659.1,361.6" stroke="#999" stroke-width="0.55" fill="none"/>
<path d="M705.7,340.9 L707.4,344.3" stroke="#666" stroke-width="0.55" fill="none"/>
<path d="M708.0,332.2 L709.5,335.0" stroke="#999" stroke-width="0.55" fill="none"/>
<path d="M711.3,336.0 L713.9,333.9" stroke="#888" stroke-width="0.55" fill="none"/>
<path d="M669.8,358.8 L672.0,360.4" stroke="#999" stroke-width="0.55" fill="none"/>
<ellipse cx="701.4" cy="346.2" rx="2.1" ry="1.9" stroke="#999" stroke-width="0.55" fill="none"/>
<path d="M675.2,349.3 L678.0,350.7" stroke="#999" stroke-width="0.55" fill="none"/>
<path d="M704.2,332.6 L704.5,337.5" stroke="#5a5a5a" stroke-width="0.55" fill="none"/>
<path d="M682.0,357.4 L687.0,355.8" stroke="#888" stroke-width="0.55" fill="none"/>
<path d="M689.6,346.7 L691.0,351.3" stroke="#5a5a5a" stroke-width="0.55" fill="none"/>
<path d="M678.5,346.7 L681.2,348.5" stroke="#888" stroke-width="0.55" fill="none"/>
<path d="M667.8,353.7 L669.9,358.9" stroke="#888" stroke-width="0.55" fill="none"/>
<path d="M645.0,360.8 L647.5,362.7" stroke="#888" stroke-width="0.55" fill="none"/>
<path d="M713.3,333.6 L714.9,335.9" stroke="#777" stroke-width="0.55" fill="none"/>
<path d="M696.3,340.0 L699.0,337.8" stroke="#888" stroke-width="0.55" fill="none"/>
<path d="M647.0,369.3 L649.2,368.0" stroke="#888" stroke-width="0.55" fill="none"/>
<ellipse cx="681.7" cy="349.8" rx="1.2" ry="0.9" stroke="#888" stroke-width="0.55" fill="none"/>
<path d="M689.2,346.1 L690.7,348.9" stroke="#5a5a5a" stroke-width="0.55" fill="none"/>
<path d="M698.3,339.2 L700.3,344.3" stroke="#888" stroke-width="0.55" fill="none"/>
<path d="M657.2,360.9 L661.2,357.6" stroke="#888" stroke-width="0.55" fill="none"/>
<path d="M701.1,336.6 L701.1,339.2" stroke="#666" stroke-width="0.55" fill="none"/>
<ellipse cx="688.2" cy="346.0" rx="1.4" ry="0.9" stroke="#666" stroke-width="0.55" fill="none"/>
<path d="M691.0,345.7 L694.6,348.9" stroke="#777" stroke-width="0.55" fill="none"/>
<path d="M657.3,359.7 L661.9,362.0" stroke="#5a5a5a" stroke-width="0.55" fill="none"/>
<ellipse cx="661.0" cy="362.1" rx="1.7" ry="1.1" stroke="#888" stroke-width="0.55" fill="none"/>
<path d="M698.0,341.7 L700.2,340.8" stroke="#777" stroke-width="0.55" fill="none"/>
<path d="M678.0,354.1 L679.6,357.3" stroke="#888" stroke-width="0.55" fill="none"/>
<ellipse cx="672.3" cy="349.1" rx="1.3" ry="1.2" stroke="#5a5a5a" stroke-width="0.55" fill="none"/>
<path d="M669.1,356.3 L670.9,358.0" stroke="#666" stroke-width="0.55" fill="none"/>
<path d="M718.4,330.2 L719.0,333.4" stroke="#777" stroke-width="0.55" fill="none"/>
<ellipse cx="645.1" cy="370.0" rx="1.5" ry="1.2" stroke="#5a5a5a" stroke-width="0.55" fill="none"/>
<ellipse cx="717.6" cy="338.0" rx="1.6" ry="1.5" stroke="#999" stroke-width="0.55" fill="none"/>
<path d="M661.8,364.1 L666.0,360.8" stroke="#999" stroke-width="0.55" fill="none"/>
<path d="M698.1,348.0 L701.8,346.5" stroke="#666" stroke-width="0.55" fill="none"/>
<path d="M651.7,366.9 L654.0,370.3" stroke="#999" stroke-width="0.55" fill="none"/>
<path d="M696.3,337.8 L697.7,340.1" stroke="#5a5a5a" stroke-width="0.55" fill="none"/>
<ellipse cx="675.3" cy="356.0" rx="1.4" ry="1.2" stroke="#777" stroke-width="0.55" fill="none"/>
<path d="M707.2,343.2 L709.7,341.3" stroke="#888" stroke-width="0.55" fill="none"/>
<ellipse cx="708.8" cy="331.0" rx="2.4" ry="2.4" stroke="#777" stroke-width="0.55" fill="none"/>
<ellipse cx="684.4" cy="426.8" rx="2.2" ry="1.6" stroke="#5a5a5a" stroke-width="0.55" fill="none"/>
<path d="M685.5,429.6 L685.4,433.8" stroke="#999" stroke-width="0.55" fill="none"/>
<ellipse cx="676.8" cy="428.7" rx="2.3" ry="1.4" stroke="#777" stroke-width="0.55" fill="none"/>
<path d="M724.9,402.8 L727.2,407.1" stroke="#999" stroke-width="0.55" fill="none"/>
<ellipse cx="736.0" cy="397.5" rx="1.4" ry="0.9" stroke="#666" stroke-width="0.55" fill="none"/>
<path d="M744.6,405.8 L744.0,411.2" stroke="#999" stroke-width="0.55" fill="none"/>
<path d="M696.1,421.4 L699.1,422.9" stroke="#777" stroke-width="0.55" fill="none"/>
<path d="M746.5,404.6 L749.6,403.4" stroke="#5a5a5a" stroke-width="0.55" fill="none"/>
<path d="M711.5,416.6 L713.7,417.7" stroke="#999" stroke-width="0.55" fill="none"/>
<ellipse cx="742.8" cy="397.7" rx="1.7" ry="1.3" stroke="#888" stroke-width="0.55" fill="none"/>
<path d="M674.4,429.9 L674.1,433.2" stroke="#666" stroke-width="0.55" fill="none"/>
<ellipse cx="742.7" cy="395.9" rx="1.4" ry="1.1" stroke="#5a5a5a" stroke-width="0.55" fill="none"/>
<path d="M715.3,416.2 L718.4,421.2" stroke="#999" stroke-width="0.55" fill="none"/>
<ellipse cx="735.5" cy="406.2" rx="2.4" ry="2.2" stroke="#5a5a5a" stroke-width="0.55" fill="none"/>
<path d="M686.7,424.9 L688.2,427.6" stroke="#666" stroke-width="0.55" fill="none"/>
<path d="M666.4,434.8 L665.8,438.0" stroke="#999" stroke-width="0.55" fill="none"/>
<path d="M719.4,419.9 L719.7,425.6" stroke="#5a5a5a" stroke-width="0.55" fill="none"/>
<path d="M725.9,412.5 L731.2,410.1" stroke="#777" stroke-width="0.55" fill="none"/>
<path d="M684.7,424.8 L686.2,427.0" stroke="#666" stroke-width="0.55" fill="none"/>
<path d="M689.1,430.9 L690.0,436.1" stroke="#5a5a5a" stroke-width="0.55" fill="none"/>
<path d="M675.1,428.9 L676.6,431.2" stroke="#999" stroke-width="0.55" fill="none"/>
<path d="M675.5,436.1 L678.4,437.7" stroke="#888" stroke-width="0.55" fill="none"/>
<path d="M734.8,407.5 L738.4,406.3" stroke="#888" stroke-width="0.55" fill="none"/>
<ellipse cx="672.3" cy="441.8" rx="1.5" ry="1.4" stroke="#5a5a5a" stroke-width="0.55" fill="none"/>
<path d="M718.1,415.6 L721.6,413.6" stroke="#666" stroke-width="0.55" fill="none"/>
<ellipse cx="715.0" cy="411.2" rx="1.2" ry="1.2" stroke="#999" stroke-width="0.55" fill="none"/>
<path d="M738.0,409.0 L741.0,406.7" stroke="#5a5a5a" stroke-width="0.55" fill="none"/>
<ellipse cx="709.7" cy="417.9" rx="1.5" ry="0.9" stroke="#666" stroke-width="0.55" fill="none"/>
<ellipse cx="728.5" cy="405.2" rx="1.6" ry="1.3" stroke="#777" stroke-width="0.55" fill="none"/>
<path d="M708.3,418.8 L709.4,424.4" stroke="#777" stroke-width="0.55" fill="none"/>
<path d="M689.0,432.8 L691.4,431.4" stroke="#5a5a5a" stroke-width="0.55" fill="none"/>
<path d="M675.4,431.8 L680.7,429.8" stroke="#888" stroke-width="0.55" fill="none"/>
<path d="M665.7,434.2 L668.5,433.1" stroke="#5a5a5a" stroke-width="0.55" fill="none"/>
<path d="M697.6,417.3 L698.0,422.6" stroke="#777" stroke-width="0.55" fill="none"/>
<path d="M673.8,442.5 L676.0,441.8" stroke="#5a5a5a" stroke-width="0.55" fill="none"/>
<path d="M680.8,435.1 L684.8,432.8" stroke="#5a5a5a" stroke-width="0.55" fill="none"/>
<path d="M690.6,433.6 L695.0,431.5" stroke="#999" stroke-width="0.55" fill="none"/>
<path d="M711.5,417.0 L715.3,414.8" stroke="#5a5a5a" stroke-width="0.55" fill="none"/>
<path d="M728.1,404.9 L730.2,409.5" stroke="#666" stroke-width="0.55" fill="none"/>
<path d="M719.9,409.3 L720.5,412.1" stroke="#666" stroke-width="0.55" fill="none"/>
<path d="M372.6,222.5 L374.2,221.3" stroke="#5a5a5a" stroke-width="0.55" fill="none"/>
<path d="M434.3,191.2 L437.7,189.0" stroke="#666" stroke-width="0.55" fill="none"/>
<ellipse cx="435.6" cy="186.6" rx="1.6" ry="1.3" stroke="#666" stroke-width="0.55" fill="none"/>
<path d="M430.2,202.1 L432.8,205.7" stroke="#999" stroke-width="0.55" fill="none"/>
<path d="M363.7,220.7 L365.2,222.0" stroke="#666" stroke-width="0.55" fill="none"/>
<path d="M442.2,184.6 L445.5,186.3" stroke="#666" stroke-width="0.55" fill="none"/>
<path d="M361.5,220.8 L364.6,218.5" stroke="#666" stroke-width="0.55" fill="none"/>
<path d="M419.7,204.0 L422.4,207.8" stroke="#777" stroke-width="0.55" fill="none"/>
<ellipse cx="366.2" cy="218.9" rx="1.6" ry="1.5" stroke="#5a5a5a" stroke-width="0.55" fill="none"/>
<ellipse cx="421.7" cy="191.4" rx="2.3" ry="1.7" stroke="#888" stroke-width="0.55" fill="none"/>
<path d="M347.3,229.6 L349.4,235.0" stroke="#777" stroke-width="0.55" fill="none"/>
<path d="M381.0,215.9 L384.5,214.7" stroke="#5a5a5a" stroke-width="0.55" fill="none"/>
<path d="M350.4,221.5 L352.5,224.4" stroke="#888" stroke-width="0.55" fill="none"/>
<path d="M343.2,225.7 L346.3,224.1" stroke="#666" stroke-width="0.55" fill="none"/>
<path d="M406.6,198.6 L408.4,197.3" stroke="#888" stroke-width="0.55" fill="none"/>
<path d="M452.3,180.6 L455.9,182.1" stroke="#888" stroke-width="0.55" fill="none"/>
<ellipse cx="349.8" cy="231.8" rx="1.7" ry="1.0" stroke="#888" stroke-width="0.55" fill="none"/>
<path d="M389.9,206.4 L393.3,204.9" stroke="#888" stroke-width="0.55" fill="none"/>
<ellipse cx="348.4" cy="230.2" rx="1.3" ry="1.2" stroke="#666" stroke-width="0.55" fill="none"/>
<path d="M408.7,204.5 L413.4,207.4" stroke="#777" stroke-width="0.55" fill="none"/>
<path d="M356.2,229.0 L360.2,226.7" stroke="#666" stroke-width="0.55" fill="none"/>
<ellipse cx="407.0" cy="211.5" rx="2.4" ry="2.3" stroke="#999" stroke-width="0.55" fill="none"/>
<path d="M422.6,204.2 L425.5,203.2" stroke="#777" stroke-width="0.55" fill="none"/>
<ellipse cx="421.8" cy="197.2" rx="1.2" ry="1.2" stroke="#999" stroke-width="0.55" fill="none"/>
<ellipse cx="347.1" cy="232.7" rx="1.9" ry="1.8" stroke="#888" stroke-width="0.55" fill="none"/>
<ellipse cx="406.2" cy="200.2" rx="1.9" ry="1.5" stroke="#777" stroke-width="0.55" fill="none"/>
<path d="M439.3,183.6 L442.5,188.0" stroke="#777" stroke-width="0.55" fill="none"/>
<ellipse cx="382.5" cy="211.9" rx="2.4" ry="1.8" stroke="#999" stroke-width="0.55" fill="none"/>
<path d="M429.7,193.5 L433.3,190.9" stroke="#666" stroke-width="0.55" fill="none"/>
<path d="M391.2,205.3 L392.2,210.8" stroke="#888" stroke-width="0.55" fill="none"/>
<path d="M446.3,179.8 L451.2,182.2" stroke="#888" stroke-width="0.55" fill="none"/>
<path d="M381.1,214.6 L384.2,219.6" stroke="#777" stroke-width="0.55" fill="none"/>
<ellipse cx="344.7" cy="229.8" rx="1.5" ry="1.4" stroke="#5a5a5a" stroke-width="0.55" fill="none"/>
<path d="M386.6,217.4 L390.9,216.3" stroke="#777" stroke-width="0.55" fill="none"/>
<path d="M381.4,219.0 L386.1,221.6" stroke="#999" stroke-width="0.55" fill="none"/>
<ellipse cx="392.5" cy="205.8" rx="1.3" ry="0.9" stroke="#666" stroke-width="0.55" fill="none"/>
<path d="M435.9,192.1 L438.7,196.5" stroke="#5a5a5a" stroke-width="0.55" fill="none"/>
<path d="M357.3,235.7 L360.3,233.9" stroke="#888" stroke-width="0.55" fill="none"/>
<ellipse cx="352.4" cy="240.5" rx="1.9" ry="1.5" stroke="#777" stroke-width="0.55" fill="none"/>
<ellipse cx="408.7" cy="202.3" rx="1.8" ry="1.7" stroke="#777" stroke-width="0.55" fill="none"/>
<path d="M370.1,221.4 L369.6,224.3" stroke="#999" stroke-width="0.55" fill="none"/>
<path d="M376.2,209.5 L380.1,208.1" stroke="#5a5a5a" stroke-width="0.55" fill="none"/>
<path d="M442.3,180.1 L444.2,183.3" stroke="#777" stroke-width="0.55" fill="none"/>
<path d="M444.9,185.9 L444.5,190.4" stroke="#666" stroke-width="0.55" fill="none"/>
<path d="M390.1,215.8 L388.9,221.6" stroke="#666" stroke-width="0.55" fill="none"/>
<path d="M379.8,216.0 L383.5,214.6" stroke="#999" stroke-width="0.55" fill="none"/>
<path d="M431.4,191.8 L432.7,193.6" stroke="#999" stroke-width="0.55" fill="none"/>
<path d="M421.1,197.6 L424.3,200.3" stroke="#777" stroke-width="0.55" fill="none"/>
<path d="M362.7,224.3 L364.6,226.8" stroke="#666" stroke-width="0.55" fill="none"/>
<path d="M414.8,198.5 L419.1,196.9" stroke="#888" stroke-width="0.55" fill="none"/>
<path d="M421.3,187.4 L424.6,188.9" stroke="#888" stroke-width="0.55" fill="none"/>
<path d="M397.1,203.6 L399.5,202.3" stroke="#666" stroke-width="0.55" fill="none"/>
<path d="M403.5,201.7 L406.7,199.9" stroke="#777" stroke-width="0.55" fill="none"/>
<ellipse cx="421.3" cy="199.3" rx="1.9" ry="1.2" stroke="#888" stroke-width="0.55" fill="none"/>
<path d="M374.8,228.4 L379.5,230.7" stroke="#999" stroke-width="0.55" fill="none"/>
<path d="M364.2,223.2 L366.2,224.6" stroke="#5a5a5a" stroke-width="0.55" fill="none"/>
<path d="M387.6,219.6 L387.5,221.8" stroke="#888" stroke-width="0.55" fill="none"/>
<path d="M437.8,182.4 L442.7,185.2" stroke="#666" stroke-width="0.55" fill="none"/>
<path d="M354.3,227.8 L358.8,226.0" stroke="#5a5a5a" stroke-width="0.55" fill="none"/>
<path d="M399.1,209.8 L399.8,212.4" stroke="#777" stroke-width="0.55" fill="none"/>
<path d="M403.8,200.0 L406.9,198.8" stroke="#5a5a5a" stroke-width="0.55" fill="none"/>
<path d="M420.8,192.6 L425.8,190.2" stroke="#5a5a5a" stroke-width="0.55" fill="none"/>
<path d="M353.1,228.6 L358.7,226.9" stroke="#777" stroke-width="0.55" fill="none"/>
<path d="M362.5,227.4 L365.1,231.6" stroke="#666" stroke-width="0.55" fill="none"/>
<path d="M375.7,211.7 L379.0,209.5" stroke="#777" stroke-width="0.55" fill="none"/>
<path d="M441.6,189.0 L443.0,191.8" stroke="#888" stroke-width="0.55" fill="none"/>
<path d="M393.3,208.7 L392.7,211.8" stroke="#999" stroke-width="0.55" fill="none"/>
<path d="M447.4,182.6 L447.7,187.1" stroke="#666" stroke-width="0.55" fill="none"/>
<path d="M352.3,222.8 L355.3,221.5" stroke="#888" stroke-width="0.55" fill="none"/>
<path d="M423.7,197.3 L425.8,202.5" stroke="#999" stroke-width="0.55" fill="none"/>
<path d="M440.4,236.7 L444.0,238.1" stroke="#888" stroke-width="0.55" fill="none"/>
<path d="M458.6,218.8 L463.3,216.1" stroke="#999" stroke-width="0.55" fill="none"/>
<ellipse cx="438.2" cy="241.8" rx="2.2" ry="1.4" stroke="#999" stroke-width="0.55" fill="none"/>
<ellipse cx="440.3" cy="237.5" rx="1.5" ry="1.4" stroke="#777" stroke-width="0.55" fill="none"/>
<path d="M458.8,224.6 L462.1,227.6" stroke="#888" stroke-width="0.55" fill="none"/>
<path d="M451.0,244.3 L451.2,247.7" stroke="#888" stroke-width="0.55" fill="none"/>
<ellipse cx="410.7" cy="247.8" rx="1.6" ry="1.2" stroke="#666" stroke-width="0.55" fill="none"/>
<path d="M449.6,240.6 L453.9,238.3" stroke="#777" stroke-width="0.55" fill="none"/>
<path d="M467.1,228.0 L468.1,233.1" stroke="#666" stroke-width="0.55" fill="none"/>
<ellipse cx="457.0" cy="227.2" rx="1.5" ry="1.4" stroke="#888" stroke-width="0.55" fill="none"/>
<path d="M423.7,235.1 L424.6,237.4" stroke="#666" stroke-width="0.55" fill="none"/>
<path d="M394.5,259.9 L397.9,257.6" stroke="#666" stroke-width="0.55" fill="none"/>
<path d="M420.8,252.9 L422.1,255.8" stroke="#777" stroke-width="0.55" fill="none"/>
<ellipse cx="447.1" cy="230.9" rx="1.9" ry="1.9" stroke="#777" stroke-width="0.55" fill="none"/>
<path d="M394.4,260.5 L396.1,263.8" stroke="#777" stroke-width="0.55" fill="none"/>
<path d="M439.9,232.8 L440.1,235.6" stroke="#5a5a5a" stroke-width="0.55" fill="none"/>
<path d="M441.4,237.2 L441.5,239.5" stroke="#999" stroke-width="0.55" fill="none"/>
<path d="M426.4,242.0 L430.8,245.9" stroke="#999" stroke-width="0.55" fill="none"/>
<path d="M445.1,233.1 L445.2,235.7" stroke="#999" stroke-width="0.55" fill="none"/>
<ellipse cx="435.0" cy="243.6" rx="1.8" ry="1.4" stroke="#666" stroke-width="0.55" fill="none"/>
<path d="M434.0,238.6 L435.8,242.9" stroke="#666" stroke-width="0.55" fill="none"/>
<path d="M446.9,233.8 L447.9,236.7" stroke="#666" stroke-width="0.55" fill="none"/>
<path d="M420.3,251.8 L420.2,254.8" stroke="#666" stroke-width="0.55" fill="none"/>
<path d="M459.3,236.4 L461.7,240.3" stroke="#999" stroke-width="0.55" fill="none"/>
<path d="M459.9,232.5 L461.0,236.4" stroke="#5a5a5a" stroke-width="0.55" fill="none"/>
<path d="M405.2,249.6 L406.3,253.3" stroke="#777" stroke-width="0.55" fill="none"/>
<path d="M450.7,236.1 L455.5,239.2" stroke="#666" stroke-width="0.55" fill="none"/>
<path d="M455.6,237.2 L456.4,239.1" stroke="#888" stroke-width="0.55" fill="none"/>
<path d="M442.1,239.9 L444.1,239.0" stroke="#999" stroke-width="0.55" fill="none"/>
<ellipse cx="408.1" cy="261.5" rx="1.2" ry="1.0" stroke="#999" stroke-width="0.55" fill="none"/>
<path d="M419.6,242.7 L422.8,241.4" stroke="#666" stroke-width="0.55" fill="none"/>
<path d="M412.0,247.4 L411.2,252.1" stroke="#5a5a5a" stroke-width="0.55" fill="none"/>
<path d="M394.1,259.2 L399.0,262.4" stroke="#666" stroke-width="0.55" fill="none"/>
<path d="M455.2,228.1 L455.4,232.3" stroke="#5a5a5a" stroke-width="0.55" fill="none"/>
<path d="M400.9,252.1 L405.2,250.9" stroke="#666" stroke-width="0.55" fill="none"/>
<path d="M442.1,232.6 L442.8,236.8" stroke="#5a5a5a" stroke-width="0.55" fill="none"/>
<path d="M419.3,252.7 L419.4,255.6" stroke="#666" stroke-width="0.55" fill="none"/>
<path d="M445.4,230.1 L444.3,235.6" stroke="#5a5a5a" stroke-width="0.55" fill="none"/>
<path d="M449.3,231.4 L454.4,228.3" stroke="#999" stroke-width="0.55" fill="none"/>
<ellipse cx="404.7" cy="259.2" rx="1.2" ry="0.8" stroke="#999" stroke-width="0.55" fill="none"/>
<path d="M420.0,241.2 L424.9,239.7" stroke="#888" stroke-width="0.55" fill="none"/>
<path d="M458.2,228.9 L460.5,232.6" stroke="#999" stroke-width="0.55" fill="none"/>
<path d="M462.5,233.7 L465.5,232.5" stroke="#5a5a5a" stroke-width="0.55" fill="none"/>
<ellipse cx="436.9" cy="231.7" rx="1.2" ry="1.0" stroke="#5a5a5a" stroke-width="0.55" fill="none"/>
<path d="M447.9,239.3 L451.9,236.1" stroke="#999" stroke-width="0.55" fill="none"/>
<path d="M447.7,238.3 L446.9,243.6" stroke="#999" stroke-width="0.55" fill="none"/>
<path d="M459.0,229.0 L460.7,228.0" stroke="#999" stroke-width="0.55" fill="none"/>
<path d="M444.2,239.2 L443.8,241.8" stroke="#999" stroke-width="0.55" fill="none"/>
<path d="M463.8,231.4 L463.6,236.6" stroke="#777" stroke-width="0.55" fill="none"/>
<path d="M412.4,250.5 L416.8,248.9" stroke="#777" stroke-width="0.55" fill="none"/>
<path d="M370.5,80.7 L371.7,79.9 L373.0,80.7 L373.1,82.2 L371.8,83.0 L370.6,82.5Z" stroke="#111111" stroke-width="1.2" fill="#777"/>
<path d="M371.1,83.0 L372.3,83.0 L372.0,86.6 L371.4,86.6Z" stroke="#111111" stroke-width="1.2" fill="#333"/>
<path d="M373.3,83.0 L389.8,83.0" stroke="#c4c4c4" stroke-width="0.9" fill="none"/>
<path d="M371.8,86.9 L371.8,103.9" stroke="#c8c8c8" stroke-width="0.7" fill="none"/>
<path d="M371.8,120.7 L371.8,145.3" stroke="#c8c8c8" stroke-width="0.7" fill="none"/>
<path d="M364.0,106.8 L366.5,104.7 L369.2,103.7 L370.0,105.2 L367.7,106.5 L366.4,108.1Z" stroke="#111111" stroke-width="1" fill="#fff"/>
<path d="M368.9,108.1 L370.0,115.6 L369.2,117.6 L367.9,116.9 L368.2,109.1Z" stroke="#111111" stroke-width="1" fill="#fff"/>
<path d="M373.9,105.5 L377.5,106.8 L380.3,110.1 L380.8,112.2 L378.8,114.3 L377.2,118.2 L375.2,119.7 L373.3,118.4 L374.1,115.6 L376.2,113.2 L376.7,110.7 L374.4,108.1Z" stroke="#111111" stroke-width="1.1" fill="#bbb"/>
<path d="M374.6,109.1 L377.7,111.2 L375.9,114.3" stroke="#111111" stroke-width="1" fill="none"/>
<path d="M373.9,116.3 L375.7,115.3 L376.7,117.1 L374.9,118.4Z" stroke="#111111" stroke-width="1.2" fill="#333"/>
<path d="M371.0,114.3 L373.3,113.8 L373.6,116.9 L371.8,117.6Z" stroke="#111111" stroke-width="1.2" fill="#444"/>
<path d="M381.1,112.0 L395.8,112.0" stroke="#c4c4c4" stroke-width="0.9" fill="none"/>
<path d="M422.1,179.3 L440.5,179.3 L440.5,197.4 L422.1,197.4Z" stroke="#fff" stroke-width="0.1" fill="#fff"/>
<path d="M429.4,198.3 L429.4,216.9" stroke="#444" stroke-width="0.8" fill="none"/>
<g><text x="193.2" y="78" text-anchor="middle">10</text>
<text x="240.2" y="235" text-anchor="middle">13</text>
<text x="400.4" y="87" text-anchor="middle">4</text>
<text x="331.6" y="348.6" text-anchor="middle">28</text>
<text x="542.2" y="187.4" text-anchor="middle">2</text>
<text x="507" y="314.7" text-anchor="middle">14</text>
<text x="457.3" y="357.4" text-anchor="middle">3</text>
<text x="477.5" y="369.1" text-anchor="middle">4</text>
<text x="408.2" y="114.5" text-anchor="middle">9</text>
<text x="150" y="342.7" text-anchor="middle">23</text>
<text x="190.6" y="329.3" text-anchor="middle">24</text>
<text x="259.8" y="387.8" text-anchor="middle">17</text>
<text x="294.6" y="368.7" text-anchor="middle">26</text>
<text x="313.6" y="358.5" text-anchor="middle">27</text>
<text x="130.8" y="384.6" text-anchor="middle">25</text>
<text x="210.9" y="440.1" text-anchor="middle">34</text>
<text x="501.3" y="444.7" text-anchor="middle">31</text>
<text x="472.1" y="462.4" text-anchor="middle">30</text>
<text x="429.1" y="371.1" text-anchor="middle">35</text>
<text x="441.6" y="494.6" text-anchor="middle">32</text>
<text x="605.1" y="125.8" text-anchor="middle">16</text>
<text x="629.7" y="140.7" text-anchor="middle">20</text>
<text x="656.5" y="155.8" text-anchor="middle">21</text>
<text x="683.2" y="171.7" text-anchor="middle">19</text>
<text x="710.9" y="187.6" text-anchor="middle">18</text>
<text x="936.7" y="46" text-anchor="middle">22</text>
<text x="866" y="154.9" text-anchor="middle">33</text>
<text x="753.1" y="473.9" text-anchor="middle">15</text>
<text x="731.3" y="538.4" text-anchor="middle">5</text>
<text x="810.2" y="349" text-anchor="middle">1</text>
<text x="866.1" y="455.9" text-anchor="middle">7</text>
<text x="884.1" y="468" text-anchor="middle">8</text>
<text x="793.4" y="529.6" text-anchor="middle">11</text>
<text x="817.8" y="523.2" text-anchor="middle">12</text>
<text x="759.3" y="548.3" text-anchor="middle">6</text>
<text x="430.8" y="191.7" text-anchor="middle">29</text></g>
</svg>
</body></html>
